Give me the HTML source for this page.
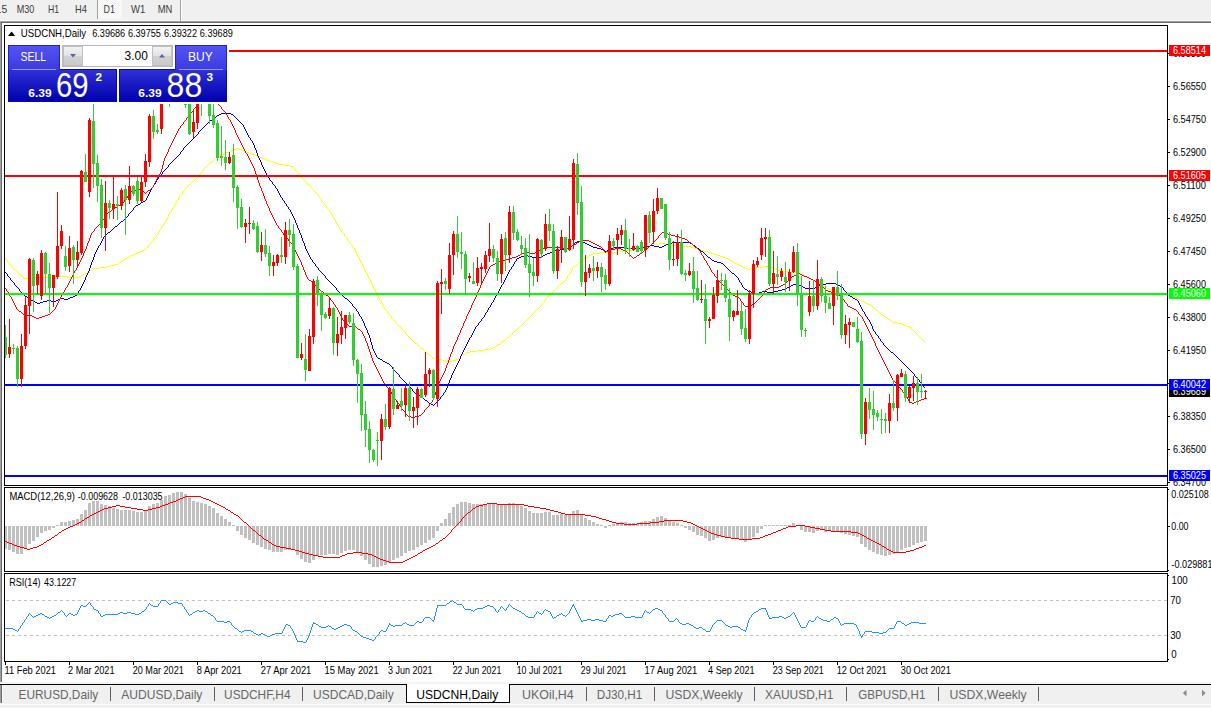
<!DOCTYPE html>
<html><head><meta charset="utf-8"><title>USDCNH,Daily</title>
<style>html,body{margin:0;padding:0;background:#fff;width:1211px;height:708px;overflow:hidden}svg text{white-space:pre}</style></head>
<body>
<svg width="1211" height="708" viewBox="0 0 1211 708" font-family='"Liberation Sans", sans-serif' style="display:block">
<defs>
<linearGradient id="gTab" x1="0" y1="0" x2="0" y2="1"><stop offset="0" stop-color="#5555f6"/><stop offset="1" stop-color="#3a3ae0"/></linearGradient>
<linearGradient id="gPan" x1="0" y1="0" x2="0" y2="1"><stop offset="0" stop-color="#3030d8"/><stop offset="1" stop-color="#0000ae"/></linearGradient>
<linearGradient id="gBtn" x1="0" y1="0" x2="0" y2="1"><stop offset="0" stop-color="#f4f4f4"/><stop offset="0.5" stop-color="#e2e2e2"/><stop offset="0.5" stop-color="#d2d2d2"/><stop offset="1" stop-color="#c8c8c8"/></linearGradient>
<pattern id="dots" width="2" height="2" patternUnits="userSpaceOnUse"><rect width="2" height="2" fill="#ffffff"/><rect width="1" height="1" fill="#f0f0f0"/><rect x="1" y="1" width="1" height="1" fill="#f0f0f0"/></pattern>
<clipPath id="cMain"><rect x="5" y="26" width="1162" height="459"/></clipPath>
<clipPath id="cMacd"><rect x="5" y="488" width="1162" height="83"/></clipPath>
<clipPath id="cRsi"><rect x="5" y="574" width="1162" height="87"/></clipPath>
</defs>
<rect x="0" y="0" width="1211" height="708" fill="#ffffff"/>
<rect x="0" y="0" width="1211" height="20" fill="#f0f0f0"/>
<rect x="0" y="20" width="1211" height="1" fill="#f8f8f8"/>
<rect x="0" y="21" width="1211" height="1" fill="#a0a0a0"/>
<rect x="0" y="22" width="1211" height="1" fill="#696969"/>
<rect x="98" y="0" width="24" height="19" fill="url(#dots)"/>
<rect x="97" y="0" width="1" height="19" fill="#a0a0a0"/>
<rect x="180" y="0" width="1" height="21" fill="#a0a0a0"/>
<rect x="181" y="0" width="1" height="21" fill="#ffffff"/>
<text x="-4.3" y="13" font-size="10.3" fill="#3c3c3c">15</text>
<text x="16.7" y="13" font-size="10.3" fill="#3c3c3c" textLength="17.6" lengthAdjust="spacingAndGlyphs">M30</text>
<text x="47.9" y="13" font-size="10.3" fill="#3c3c3c" textLength="11.1" lengthAdjust="spacingAndGlyphs">H1</text>
<text x="75" y="13" font-size="10.3" fill="#3c3c3c" textLength="11.9" lengthAdjust="spacingAndGlyphs">H4</text>
<text x="103.6" y="13" font-size="10.3" fill="#3c3c3c" textLength="11.4" lengthAdjust="spacingAndGlyphs">D1</text>
<text x="131" y="13" font-size="10.3" fill="#3c3c3c" textLength="14.3" lengthAdjust="spacingAndGlyphs">W1</text>
<text x="157.7" y="13" font-size="10.3" fill="#3c3c3c" textLength="14.6" lengthAdjust="spacingAndGlyphs">MN</text>
<rect x="0" y="22" width="1" height="660" fill="#a0a0a0"/>
<rect x="1" y="22" width="1" height="660" fill="#696969"/>
<g shape-rendering="crispEdges">
<rect x="4" y="25" width="1164" height="1" fill="#000"/>
<rect x="4" y="25" width="1" height="637" fill="#000"/>
<rect x="1167" y="25" width="1" height="637" fill="#000"/>
<rect x="4" y="485" width="1164" height="1" fill="#000"/>
<rect x="4" y="486" width="1164" height="1" fill="#ffffff"/>
<rect x="4" y="487" width="1164" height="1" fill="#000"/>
<rect x="4" y="571" width="1164" height="1" fill="#000"/>
<rect x="4" y="572" width="1164" height="1" fill="#ffffff"/>
<rect x="4" y="573" width="1164" height="1" fill="#000"/>
<rect x="4" y="661" width="1164" height="1" fill="#000"/>
</g>
<g clip-path="url(#cMain)" shape-rendering="crispEdges">
<path d="M5 258h1v1h-1zM6 259h1v1h-1zM7 260h1v2h-1zM8 262h1v1h-1zM9 263h1v1h-1zM10 264h1v1h-1zM11 265h1v1h-1zM12 266h1v2h-1zM13 268h1v1h-1zM14 269h1v1h-1zM15 270h1v1h-1zM16 271h1v1h-1zM17 272h1v1h-1zM18 273h1v1h-1zM19 274h1v1h-1zM20 274h1v1h-1zM21 275h1v1h-1zM22 276h1v1h-1zM23 277h1v1h-1zM24 278h1v1h-1zM25 278h1v1h-1zM26 278h1v1h-1zM27 278h1v1h-1zM28 278h1v1h-1zM29 278h1v1h-1zM30 278h1v1h-1zM31 278h1v1h-1zM32 278h1v1h-1zM33 277h1v1h-1zM34 277h1v1h-1zM35 277h1v1h-1zM36 277h1v1h-1zM37 277h1v1h-1zM38 277h1v1h-1zM39 277h1v1h-1zM40 277h1v1h-1zM41 277h1v1h-1zM42 277h1v1h-1zM43 277h1v1h-1zM44 277h1v1h-1zM45 277h1v1h-1zM46 277h1v1h-1zM47 277h1v1h-1zM48 277h1v1h-1zM49 276h1v1h-1zM50 276h1v1h-1zM51 276h1v1h-1zM52 276h1v1h-1zM53 276h1v1h-1zM54 276h1v1h-1zM55 276h1v1h-1zM56 276h1v1h-1zM57 276h1v1h-1zM58 276h1v1h-1zM59 276h1v1h-1zM60 276h1v1h-1zM61 276h1v1h-1zM62 276h1v1h-1zM63 276h1v1h-1zM64 276h1v1h-1zM65 276h1v1h-1zM66 276h1v1h-1zM67 277h1v1h-1zM68 277h1v1h-1zM69 277h1v1h-1zM70 277h1v1h-1zM71 277h1v1h-1zM72 277h1v1h-1zM73 277h1v1h-1zM74 277h1v1h-1zM75 277h1v1h-1zM76 277h1v1h-1zM77 277h1v1h-1zM78 277h1v1h-1zM79 276h1v1h-1zM80 276h1v1h-1zM81 275h1v1h-1zM82 275h1v1h-1zM83 274h1v1h-1zM84 274h1v1h-1zM85 273h1v1h-1zM86 273h1v1h-1zM87 272h1v1h-1zM88 271h1v1h-1zM89 270h1v1h-1zM90 270h1v1h-1zM91 269h1v1h-1zM92 268h1v1h-1zM93 268h1v1h-1zM94 268h1v1h-1zM95 268h1v1h-1zM96 268h1v1h-1zM97 268h1v1h-1zM98 268h1v1h-1zM99 267h1v1h-1zM100 267h1v1h-1zM101 267h1v1h-1zM102 267h1v1h-1zM103 267h1v1h-1zM104 267h1v1h-1zM105 267h1v1h-1zM106 267h1v1h-1zM107 266h1v1h-1zM108 266h1v1h-1zM109 266h1v1h-1zM110 266h1v1h-1zM111 265h1v1h-1zM112 265h1v1h-1zM113 265h1v1h-1zM114 265h1v1h-1zM115 264h1v1h-1zM116 264h1v1h-1zM117 264h1v1h-1zM118 263h1v1h-1zM119 262h1v1h-1zM120 262h1v1h-1zM121 261h1v1h-1zM122 260h1v1h-1zM123 259h1v1h-1zM124 259h1v1h-1zM125 258h1v1h-1zM126 258h1v1h-1zM127 257h1v1h-1zM128 257h1v1h-1zM129 256h1v1h-1zM130 256h1v1h-1zM131 255h1v1h-1zM132 255h1v1h-1zM133 254h1v1h-1zM134 254h1v1h-1zM135 253h1v1h-1zM136 253h1v1h-1zM137 253h1v1h-1zM138 252h1v1h-1zM139 252h1v1h-1zM140 251h1v1h-1zM141 251h1v1h-1zM142 250h1v1h-1zM143 250h1v1h-1zM144 249h1v1h-1zM145 249h1v1h-1zM146 248h1v1h-1zM147 247h1v1h-1zM148 245h1v2h-1zM149 244h1v1h-1zM150 243h1v1h-1zM151 242h1v1h-1zM152 241h1v1h-1zM153 239h1v2h-1zM154 238h1v1h-1zM155 237h1v1h-1zM156 235h1v2h-1zM157 234h1v1h-1zM158 232h1v2h-1zM159 230h1v2h-1zM160 229h1v1h-1zM161 227h1v2h-1zM162 226h1v1h-1zM163 224h1v2h-1zM164 222h1v2h-1zM165 221h1v1h-1zM166 219h1v2h-1zM167 217h1v2h-1zM168 215h1v2h-1zM169 213h1v2h-1zM170 212h1v1h-1zM171 210h1v2h-1zM172 208h1v2h-1zM173 207h1v1h-1zM174 205h1v2h-1zM175 203h1v2h-1zM176 201h1v2h-1zM177 200h1v1h-1zM178 198h1v2h-1zM179 196h1v2h-1zM180 195h1v1h-1zM181 194h1v1h-1zM182 192h1v2h-1zM183 191h1v1h-1zM184 190h1v1h-1zM185 188h1v2h-1zM186 187h1v1h-1zM187 186h1v1h-1zM188 185h1v1h-1zM189 184h1v1h-1zM190 183h1v1h-1zM191 182h1v1h-1zM192 181h1v1h-1zM193 181h1v1h-1zM194 180h1v1h-1zM195 179h1v1h-1zM196 178h1v1h-1zM197 177h1v1h-1zM198 176h1v1h-1zM199 174h1v2h-1zM200 173h1v1h-1zM201 172h1v1h-1zM202 171h1v1h-1zM203 169h1v2h-1zM204 168h1v1h-1zM205 167h1v1h-1zM206 166h1v1h-1zM207 165h1v1h-1zM208 164h1v1h-1zM209 163h1v1h-1zM210 162h1v1h-1zM211 162h1v1h-1zM212 161h1v1h-1zM213 160h1v1h-1zM214 159h1v1h-1zM215 158h1v1h-1zM216 157h1v1h-1zM217 157h1v1h-1zM218 156h1v1h-1zM219 156h1v1h-1zM220 155h1v1h-1zM221 155h1v1h-1zM222 154h1v1h-1zM223 154h1v1h-1zM224 153h1v1h-1zM225 153h1v1h-1zM226 152h1v1h-1zM227 152h1v1h-1zM228 152h1v1h-1zM229 151h1v1h-1zM230 151h1v1h-1zM231 150h1v1h-1zM232 150h1v1h-1zM233 150h1v1h-1zM234 149h1v1h-1zM235 149h1v1h-1zM236 148h1v1h-1zM237 148h1v1h-1zM238 148h1v1h-1zM239 149h1v1h-1zM240 149h1v1h-1zM241 149h1v1h-1zM242 150h1v1h-1zM243 150h1v1h-1zM244 151h1v1h-1zM245 151h1v1h-1zM246 151h1v1h-1zM247 152h1v1h-1zM248 152h1v1h-1zM249 152h1v1h-1zM250 153h1v1h-1zM251 153h1v1h-1zM252 154h1v1h-1zM253 154h1v1h-1zM254 154h1v1h-1zM255 155h1v1h-1zM256 155h1v1h-1zM257 156h1v1h-1zM258 156h1v1h-1zM259 156h1v1h-1zM260 157h1v1h-1zM261 157h1v1h-1zM262 158h1v1h-1zM263 158h1v1h-1zM264 158h1v1h-1zM265 159h1v1h-1zM266 159h1v1h-1zM267 160h1v1h-1zM268 160h1v1h-1zM269 160h1v1h-1zM270 161h1v1h-1zM271 161h1v1h-1zM272 161h1v1h-1zM273 162h1v1h-1zM274 162h1v1h-1zM275 163h1v1h-1zM276 163h1v1h-1zM277 163h1v1h-1zM278 163h1v1h-1zM279 164h1v1h-1zM280 164h1v1h-1zM281 164h1v1h-1zM282 164h1v1h-1zM283 164h1v1h-1zM284 165h1v1h-1zM285 165h1v1h-1zM286 165h1v1h-1zM287 165h1v1h-1zM288 165h1v1h-1zM289 165h1v1h-1zM290 166h1v1h-1zM291 166h1v1h-1zM292 166h1v1h-1zM293 167h1v1h-1zM294 168h1v1h-1zM295 169h1v2h-1zM296 171h1v1h-1zM297 172h1v1h-1zM298 173h1v1h-1zM299 174h1v1h-1zM300 175h1v2h-1zM301 177h1v1h-1zM302 178h1v1h-1zM303 179h1v1h-1zM304 180h1v1h-1zM305 181h1v1h-1zM306 182h1v1h-1zM307 183h1v1h-1zM308 184h1v1h-1zM309 185h1v1h-1zM310 186h1v2h-1zM311 188h1v1h-1zM312 189h1v1h-1zM313 190h1v1h-1zM314 191h1v1h-1zM315 192h1v1h-1zM316 193h1v1h-1zM317 194h1v1h-1zM318 195h1v2h-1zM319 197h1v1h-1zM320 198h1v1h-1zM321 199h1v2h-1zM322 201h1v1h-1zM323 202h1v1h-1zM324 203h1v2h-1zM325 205h1v1h-1zM326 206h1v2h-1zM327 208h1v1h-1zM328 209h1v1h-1zM329 210h1v2h-1zM330 212h1v1h-1zM331 213h1v2h-1zM332 215h1v2h-1zM333 217h1v1h-1zM334 218h1v2h-1zM335 220h1v2h-1zM336 222h1v2h-1zM337 224h1v1h-1zM338 225h1v2h-1zM339 227h1v2h-1zM340 229h1v1h-1zM341 230h1v2h-1zM342 232h1v1h-1zM343 233h1v1h-1zM344 234h1v2h-1zM345 236h1v1h-1zM346 237h1v1h-1zM347 238h1v2h-1zM348 240h1v1h-1zM349 241h1v2h-1zM350 243h1v1h-1zM351 244h1v1h-1zM352 245h1v2h-1zM353 247h1v1h-1zM354 248h1v2h-1zM355 250h1v2h-1zM356 252h1v2h-1zM357 254h1v2h-1zM358 256h1v2h-1zM359 258h1v2h-1zM360 260h1v2h-1zM361 262h1v2h-1zM362 264h1v2h-1zM363 266h1v2h-1zM364 268h1v2h-1zM365 270h1v2h-1zM366 272h1v2h-1zM367 274h1v2h-1zM368 276h1v2h-1zM369 278h1v2h-1zM370 280h1v2h-1zM371 282h1v2h-1zM372 284h1v2h-1zM373 286h1v2h-1zM374 288h1v2h-1zM375 290h1v2h-1zM376 292h1v2h-1zM377 294h1v2h-1zM378 296h1v2h-1zM379 298h1v2h-1zM380 300h1v1h-1zM381 301h1v2h-1zM382 303h1v2h-1zM383 305h1v2h-1zM384 307h1v2h-1zM385 309h1v1h-1zM386 310h1v1h-1zM387 311h1v2h-1zM388 313h1v1h-1zM389 314h1v1h-1zM390 315h1v1h-1zM391 316h1v2h-1zM392 318h1v1h-1zM393 319h1v1h-1zM394 320h1v1h-1zM395 321h1v2h-1zM396 323h1v1h-1zM397 324h1v1h-1zM398 325h1v1h-1zM399 326h1v1h-1zM400 327h1v1h-1zM401 328h1v1h-1zM402 329h1v1h-1zM403 330h1v1h-1zM404 331h1v1h-1zM405 332h1v2h-1zM406 334h1v1h-1zM407 335h1v1h-1zM408 336h1v1h-1zM409 337h1v1h-1zM410 338h1v1h-1zM411 339h1v1h-1zM412 340h1v1h-1zM413 341h1v1h-1zM414 342h1v1h-1zM415 343h1v1h-1zM416 343h1v1h-1zM417 344h1v1h-1zM418 345h1v1h-1zM419 346h1v1h-1zM420 347h1v1h-1zM421 348h1v1h-1zM422 348h1v1h-1zM423 349h1v1h-1zM424 350h1v1h-1zM425 351h1v1h-1zM426 352h1v1h-1zM427 353h1v1h-1zM428 354h1v1h-1zM429 355h1v1h-1zM430 355h1v1h-1zM431 356h1v1h-1zM432 357h1v1h-1zM433 358h1v1h-1zM434 358h1v1h-1zM435 358h1v1h-1zM436 358h1v1h-1zM437 359h1v1h-1zM438 359h1v1h-1zM439 359h1v1h-1zM440 359h1v1h-1zM441 359h1v1h-1zM442 360h1v1h-1zM443 360h1v1h-1zM444 360h1v1h-1zM445 360h1v1h-1zM446 361h1v1h-1zM447 361h1v1h-1zM448 361h1v1h-1zM449 361h1v1h-1zM450 361h1v1h-1zM451 361h1v1h-1zM452 360h1v1h-1zM453 360h1v1h-1zM454 360h1v1h-1zM455 360h1v1h-1zM456 359h1v1h-1zM457 359h1v1h-1zM458 358h1v1h-1zM459 358h1v1h-1zM460 357h1v1h-1zM461 356h1v1h-1zM462 355h1v1h-1zM463 354h1v1h-1zM464 354h1v1h-1zM465 353h1v1h-1zM466 352h1v1h-1zM467 352h1v1h-1zM468 352h1v1h-1zM469 352h1v1h-1zM470 351h1v1h-1zM471 351h1v1h-1zM472 351h1v1h-1zM473 351h1v1h-1zM474 351h1v1h-1zM475 351h1v1h-1zM476 351h1v1h-1zM477 350h1v1h-1zM478 350h1v1h-1zM479 350h1v1h-1zM480 350h1v1h-1zM481 350h1v1h-1zM482 350h1v1h-1zM483 350h1v1h-1zM484 350h1v1h-1zM485 349h1v1h-1zM486 349h1v1h-1zM487 349h1v1h-1zM488 349h1v1h-1zM489 349h1v1h-1zM490 349h1v1h-1zM491 348h1v1h-1zM492 348h1v1h-1zM493 347h1v1h-1zM494 347h1v1h-1zM495 346h1v1h-1zM496 345h1v1h-1zM497 345h1v1h-1zM498 344h1v1h-1zM499 344h1v1h-1zM500 343h1v1h-1zM501 342h1v1h-1zM502 341h1v1h-1zM503 341h1v1h-1zM504 340h1v1h-1zM505 339h1v1h-1zM506 338h1v1h-1zM507 337h1v1h-1zM508 337h1v1h-1zM509 336h1v1h-1zM510 335h1v1h-1zM511 334h1v1h-1zM512 333h1v1h-1zM513 332h1v1h-1zM514 331h1v1h-1zM515 330h1v1h-1zM516 330h1v1h-1zM517 329h1v1h-1zM518 328h1v1h-1zM519 327h1v1h-1zM520 326h1v1h-1zM521 325h1v1h-1zM522 324h1v1h-1zM523 323h1v1h-1zM524 322h1v1h-1zM525 321h1v1h-1zM526 320h1v1h-1zM527 319h1v1h-1zM528 318h1v1h-1zM529 317h1v1h-1zM530 316h1v1h-1zM531 315h1v1h-1zM532 314h1v1h-1zM533 313h1v1h-1zM534 312h1v1h-1zM535 311h1v1h-1zM536 310h1v1h-1zM537 309h1v1h-1zM538 308h1v1h-1zM539 307h1v1h-1zM540 306h1v1h-1zM541 304h1v2h-1zM542 303h1v1h-1zM543 302h1v1h-1zM544 301h1v1h-1zM545 299h1v2h-1zM546 298h1v1h-1zM547 297h1v1h-1zM548 296h1v1h-1zM549 295h1v1h-1zM550 294h1v1h-1zM551 293h1v1h-1zM552 292h1v1h-1zM553 291h1v1h-1zM554 290h1v1h-1zM555 289h1v1h-1zM556 288h1v1h-1zM557 287h1v1h-1zM558 286h1v1h-1zM559 285h1v1h-1zM560 284h1v1h-1zM561 283h1v1h-1zM562 283h1v1h-1zM563 282h1v1h-1zM564 281h1v1h-1zM565 280h1v1h-1zM566 278h1v2h-1zM567 276h1v2h-1zM568 275h1v1h-1zM569 273h1v2h-1zM570 272h1v1h-1zM571 270h1v2h-1zM572 268h1v2h-1zM573 267h1v1h-1zM574 266h1v1h-1zM575 265h1v1h-1zM576 265h1v1h-1zM577 264h1v1h-1zM578 263h1v1h-1zM579 262h1v1h-1zM580 261h1v1h-1zM581 261h1v1h-1zM582 260h1v1h-1zM583 259h1v1h-1zM584 258h1v1h-1zM585 258h1v1h-1zM586 257h1v1h-1zM587 257h1v1h-1zM588 256h1v1h-1zM589 255h1v1h-1zM590 255h1v1h-1zM591 254h1v1h-1zM592 254h1v1h-1zM593 253h1v1h-1zM594 253h1v1h-1zM595 253h1v1h-1zM596 253h1v1h-1zM597 253h1v1h-1zM598 253h1v1h-1zM599 253h1v1h-1zM600 252h1v1h-1zM601 252h1v1h-1zM602 252h1v1h-1zM603 252h1v1h-1zM604 252h1v1h-1zM605 252h1v1h-1zM606 252h1v1h-1zM607 252h1v1h-1zM608 252h1v1h-1zM609 252h1v1h-1zM610 252h1v1h-1zM611 252h1v1h-1zM612 252h1v1h-1zM613 252h1v1h-1zM614 252h1v1h-1zM615 252h1v1h-1zM616 252h1v1h-1zM617 251h1v1h-1zM618 251h1v1h-1zM619 251h1v1h-1zM620 251h1v1h-1zM621 251h1v1h-1zM622 251h1v1h-1zM623 250h1v1h-1zM624 250h1v1h-1zM625 250h1v1h-1zM626 250h1v1h-1zM627 250h1v1h-1zM628 250h1v1h-1zM629 250h1v1h-1zM630 250h1v1h-1zM631 250h1v1h-1zM632 250h1v1h-1zM633 249h1v1h-1zM634 249h1v1h-1zM635 249h1v1h-1zM636 249h1v1h-1zM637 249h1v1h-1zM638 249h1v1h-1zM639 249h1v1h-1zM640 249h1v1h-1zM641 248h1v1h-1zM642 248h1v1h-1zM643 248h1v1h-1zM644 247h1v1h-1zM645 247h1v1h-1zM646 247h1v1h-1zM647 246h1v1h-1zM648 246h1v1h-1zM649 246h1v1h-1zM650 245h1v1h-1zM651 245h1v1h-1zM652 245h1v1h-1zM653 245h1v1h-1zM654 244h1v1h-1zM655 244h1v1h-1zM656 244h1v1h-1zM657 244h1v1h-1zM658 244h1v1h-1zM659 243h1v1h-1zM660 243h1v1h-1zM661 243h1v1h-1zM662 243h1v1h-1zM663 243h1v1h-1zM664 243h1v1h-1zM665 244h1v1h-1zM666 244h1v1h-1zM667 244h1v1h-1zM668 244h1v1h-1zM669 244h1v1h-1zM670 244h1v1h-1zM671 245h1v1h-1zM672 245h1v1h-1zM673 245h1v1h-1zM674 245h1v1h-1zM675 245h1v1h-1zM676 245h1v1h-1zM677 245h1v1h-1zM678 245h1v1h-1zM679 245h1v1h-1zM680 245h1v1h-1zM681 245h1v1h-1zM682 246h1v1h-1zM683 246h1v1h-1zM684 246h1v1h-1zM685 246h1v1h-1zM686 246h1v1h-1zM687 246h1v1h-1zM688 246h1v1h-1zM689 246h1v1h-1zM690 246h1v1h-1zM691 247h1v1h-1zM692 247h1v1h-1zM693 247h1v1h-1zM694 248h1v1h-1zM695 248h1v1h-1zM696 248h1v1h-1zM697 248h1v1h-1zM698 249h1v1h-1zM699 249h1v1h-1zM700 249h1v1h-1zM701 250h1v1h-1zM702 250h1v1h-1zM703 250h1v1h-1zM704 251h1v1h-1zM705 251h1v1h-1zM706 251h1v1h-1zM707 251h1v1h-1zM708 252h1v1h-1zM709 252h1v1h-1zM710 252h1v1h-1zM711 253h1v1h-1zM712 253h1v1h-1zM713 253h1v1h-1zM714 254h1v1h-1zM715 254h1v1h-1zM716 254h1v1h-1zM717 255h1v1h-1zM718 255h1v1h-1zM719 255h1v1h-1zM720 256h1v1h-1zM721 256h1v1h-1zM722 256h1v1h-1zM723 257h1v1h-1zM724 257h1v1h-1zM725 257h1v1h-1zM726 258h1v1h-1zM727 258h1v1h-1zM728 259h1v1h-1zM729 259h1v1h-1zM730 260h1v1h-1zM731 260h1v1h-1zM732 261h1v1h-1zM733 262h1v1h-1zM734 262h1v1h-1zM735 263h1v1h-1zM736 263h1v1h-1zM737 264h1v1h-1zM738 264h1v1h-1zM739 265h1v1h-1zM740 265h1v1h-1zM741 266h1v1h-1zM742 266h1v1h-1zM743 267h1v1h-1zM744 267h1v1h-1zM745 268h1v1h-1zM746 268h1v1h-1zM747 269h1v1h-1zM748 269h1v1h-1zM749 269h1v1h-1zM750 269h1v1h-1zM751 268h1v1h-1zM752 268h1v1h-1zM753 268h1v1h-1zM754 268h1v1h-1zM755 268h1v1h-1zM756 267h1v1h-1zM757 267h1v1h-1zM758 267h1v1h-1zM759 267h1v1h-1zM760 267h1v1h-1zM761 267h1v1h-1zM762 266h1v1h-1zM763 266h1v1h-1zM764 266h1v1h-1zM765 266h1v1h-1zM766 266h1v1h-1zM767 266h1v1h-1zM768 266h1v1h-1zM769 266h1v1h-1zM770 266h1v1h-1zM771 267h1v1h-1zM772 267h1v1h-1zM773 268h1v1h-1zM774 268h1v1h-1zM775 269h1v1h-1zM776 269h1v1h-1zM777 269h1v1h-1zM778 270h1v1h-1zM779 270h1v1h-1zM780 270h1v1h-1zM781 270h1v1h-1zM782 270h1v1h-1zM783 271h1v1h-1zM784 271h1v1h-1zM785 271h1v1h-1zM786 271h1v1h-1zM787 271h1v1h-1zM788 271h1v1h-1zM789 272h1v1h-1zM790 272h1v1h-1zM791 272h1v1h-1zM792 272h1v1h-1zM793 272h1v1h-1zM794 272h1v1h-1zM795 272h1v1h-1zM796 273h1v1h-1zM797 273h1v1h-1zM798 273h1v1h-1zM799 273h1v1h-1zM800 273h1v1h-1zM801 274h1v1h-1zM802 274h1v1h-1zM803 275h1v1h-1zM804 275h1v1h-1zM805 276h1v1h-1zM806 276h1v1h-1zM807 277h1v1h-1zM808 277h1v1h-1zM809 278h1v1h-1zM810 278h1v1h-1zM811 279h1v1h-1zM812 279h1v1h-1zM813 280h1v1h-1zM814 280h1v1h-1zM815 281h1v1h-1zM816 281h1v1h-1zM817 282h1v1h-1zM818 283h1v1h-1zM819 283h1v1h-1zM820 284h1v1h-1zM821 285h1v1h-1zM822 285h1v1h-1zM823 286h1v1h-1zM824 286h1v1h-1zM825 287h1v1h-1zM826 287h1v1h-1zM827 288h1v1h-1zM828 288h1v1h-1zM829 289h1v1h-1zM830 289h1v1h-1zM831 289h1v1h-1zM832 290h1v1h-1zM833 290h1v1h-1zM834 291h1v1h-1zM835 291h1v1h-1zM836 291h1v1h-1zM837 292h1v1h-1zM838 292h1v1h-1zM839 293h1v1h-1zM840 293h1v1h-1zM841 293h1v1h-1zM842 294h1v1h-1zM843 294h1v1h-1zM844 294h1v1h-1zM845 294h1v1h-1zM846 295h1v1h-1zM847 295h1v1h-1zM848 295h1v1h-1zM849 295h1v1h-1zM850 296h1v1h-1zM851 296h1v1h-1zM852 296h1v1h-1zM853 296h1v1h-1zM854 297h1v1h-1zM855 297h1v1h-1zM856 298h1v1h-1zM857 298h1v1h-1zM858 299h1v1h-1zM859 299h1v1h-1zM860 300h1v1h-1zM861 300h1v1h-1zM862 301h1v1h-1zM863 301h1v1h-1zM864 302h1v1h-1zM865 302h1v1h-1zM866 303h1v1h-1zM867 303h1v1h-1zM868 304h1v1h-1zM869 304h1v1h-1zM870 305h1v1h-1zM871 305h1v1h-1zM872 306h1v1h-1zM873 307h1v1h-1zM874 308h1v1h-1zM875 309h1v1h-1zM876 310h1v1h-1zM877 310h1v1h-1zM878 311h1v1h-1zM879 312h1v1h-1zM880 313h1v1h-1zM881 314h1v1h-1zM882 315h1v1h-1zM883 315h1v1h-1zM884 316h1v1h-1zM885 317h1v1h-1zM886 317h1v1h-1zM887 318h1v1h-1zM888 319h1v1h-1zM889 319h1v1h-1zM890 320h1v1h-1zM891 321h1v1h-1zM892 321h1v1h-1zM893 322h1v1h-1zM894 322h1v1h-1zM895 322h1v1h-1zM896 322h1v1h-1zM897 323h1v1h-1zM898 323h1v1h-1zM899 323h1v1h-1zM900 323h1v1h-1zM901 323h1v1h-1zM902 324h1v1h-1zM903 324h1v1h-1zM904 325h1v1h-1zM905 325h1v1h-1zM906 325h1v1h-1zM907 326h1v1h-1zM908 326h1v1h-1zM909 327h1v1h-1zM910 327h1v1h-1zM911 328h1v1h-1zM912 329h1v1h-1zM913 330h1v1h-1zM914 331h1v1h-1zM915 332h1v1h-1zM916 333h1v1h-1zM917 334h1v1h-1zM918 335h1v1h-1zM919 336h1v1h-1zM920 337h1v1h-1zM921 338h1v1h-1zM922 339h1v1h-1zM923 340h1v1h-1zM924 341h1v1h-1z" fill="#ffff00" shape-rendering="crispEdges" clip-path="url(#cMain)"/>
<path d="M5 272h1v1h-1zM6 273h1v1h-1zM7 274h1v2h-1zM8 276h1v1h-1zM9 277h1v1h-1zM10 278h1v2h-1zM11 280h1v1h-1zM12 281h1v1h-1zM13 282h1v1h-1zM14 283h1v2h-1zM15 285h1v1h-1zM16 286h1v1h-1zM17 287h1v1h-1zM18 288h1v1h-1zM19 289h1v2h-1zM20 291h1v1h-1zM21 292h1v1h-1zM22 293h1v1h-1zM23 294h1v1h-1zM24 295h1v1h-1zM25 296h1v1h-1zM26 296h1v1h-1zM27 297h1v1h-1zM28 298h1v1h-1zM29 299h1v1h-1zM30 299h1v1h-1zM31 300h1v1h-1zM32 300h1v1h-1zM33 301h1v1h-1zM34 301h1v1h-1zM35 302h1v1h-1zM36 302h1v1h-1zM37 303h1v1h-1zM38 303h1v1h-1zM39 303h1v1h-1zM40 302h1v1h-1zM41 302h1v1h-1zM42 302h1v1h-1zM43 301h1v1h-1zM44 301h1v1h-1zM45 301h1v1h-1zM46 301h1v1h-1zM47 300h1v1h-1zM48 300h1v1h-1zM49 300h1v1h-1zM50 300h1v1h-1zM51 301h1v1h-1zM52 301h1v1h-1zM53 301h1v1h-1zM54 301h1v1h-1zM55 301h1v1h-1zM56 300h1v1h-1zM57 300h1v1h-1zM58 299h1v1h-1zM59 299h1v1h-1zM60 298h1v1h-1zM61 298h1v1h-1zM62 298h1v1h-1zM63 298h1v1h-1zM64 299h1v1h-1zM65 299h1v1h-1zM66 299h1v1h-1zM67 299h1v1h-1zM68 298h1v1h-1zM69 298h1v1h-1zM70 297h1v1h-1zM71 297h1v1h-1zM72 297h1v1h-1zM73 296h1v1h-1zM74 296h1v1h-1zM75 295h1v1h-1zM76 295h1v1h-1zM77 293h1v2h-1zM78 291h1v2h-1zM79 290h1v1h-1zM80 288h1v2h-1zM81 286h1v2h-1zM82 284h1v2h-1zM83 282h1v2h-1zM84 280h1v2h-1zM85 277h1v3h-1zM86 275h1v2h-1zM87 273h1v2h-1zM88 271h1v2h-1zM89 268h1v3h-1zM90 265h1v3h-1zM91 262h1v3h-1zM92 260h1v2h-1zM93 257h1v3h-1zM94 254h1v3h-1zM95 252h1v2h-1zM96 250h1v2h-1zM97 248h1v2h-1zM98 246h1v2h-1zM99 245h1v1h-1zM100 243h1v2h-1zM101 241h1v2h-1zM102 239h1v2h-1zM103 237h1v2h-1zM104 236h1v1h-1zM105 235h1v1h-1zM106 234h1v1h-1zM107 233h1v1h-1zM108 232h1v1h-1zM109 232h1v1h-1zM110 231h1v1h-1zM111 230h1v1h-1zM112 229h1v1h-1zM113 228h1v1h-1zM114 227h1v1h-1zM115 226h1v1h-1zM116 226h1v1h-1zM117 225h1v1h-1zM118 224h1v1h-1zM119 223h1v1h-1zM120 222h1v1h-1zM121 221h1v1h-1zM122 221h1v1h-1zM123 220h1v1h-1zM124 219h1v1h-1zM125 218h1v1h-1zM126 217h1v1h-1zM127 216h1v1h-1zM128 214h1v2h-1zM129 213h1v1h-1zM130 212h1v1h-1zM131 211h1v1h-1zM132 210h1v1h-1zM133 208h1v2h-1zM134 207h1v1h-1zM135 206h1v1h-1zM136 205h1v1h-1zM137 205h1v1h-1zM138 204h1v1h-1zM139 204h1v1h-1zM140 203h1v1h-1zM141 202h1v1h-1zM142 202h1v1h-1zM143 201h1v1h-1zM144 201h1v1h-1zM145 200h1v1h-1zM146 198h1v2h-1zM147 196h1v2h-1zM148 194h1v2h-1zM149 192h1v2h-1zM150 190h1v2h-1zM151 188h1v2h-1zM152 187h1v1h-1zM153 185h1v2h-1zM154 184h1v1h-1zM155 182h1v2h-1zM156 180h1v2h-1zM157 179h1v1h-1zM158 177h1v2h-1zM159 176h1v1h-1zM160 175h1v1h-1zM161 174h1v1h-1zM162 172h1v2h-1zM163 171h1v1h-1zM164 170h1v1h-1zM165 169h1v1h-1zM166 168h1v1h-1zM167 167h1v1h-1zM168 165h1v2h-1zM169 164h1v1h-1zM170 163h1v1h-1zM171 162h1v1h-1zM172 161h1v1h-1zM173 160h1v1h-1zM174 159h1v1h-1zM175 158h1v1h-1zM176 157h1v1h-1zM177 156h1v1h-1zM178 155h1v1h-1zM179 154h1v1h-1zM180 152h1v2h-1zM181 151h1v1h-1zM182 150h1v1h-1zM183 148h1v2h-1zM184 147h1v1h-1zM185 146h1v1h-1zM186 145h1v1h-1zM187 144h1v1h-1zM188 143h1v1h-1zM189 142h1v1h-1zM190 141h1v1h-1zM191 140h1v1h-1zM192 139h1v1h-1zM193 138h1v1h-1zM194 137h1v1h-1zM195 136h1v1h-1zM196 135h1v1h-1zM197 134h1v1h-1zM198 132h1v2h-1zM199 131h1v1h-1zM200 130h1v1h-1zM201 129h1v1h-1zM202 128h1v1h-1zM203 127h1v1h-1zM204 126h1v1h-1zM205 125h1v1h-1zM206 124h1v1h-1zM207 123h1v1h-1zM208 122h1v1h-1zM209 121h1v1h-1zM210 120h1v1h-1zM211 120h1v1h-1zM212 119h1v1h-1zM213 118h1v1h-1zM214 117h1v1h-1zM215 117h1v1h-1zM216 116h1v1h-1zM217 115h1v1h-1zM218 115h1v1h-1zM219 114h1v1h-1zM220 114h1v1h-1zM221 113h1v1h-1zM222 113h1v1h-1zM223 113h1v1h-1zM224 113h1v1h-1zM225 113h1v1h-1zM226 113h1v1h-1zM227 113h1v1h-1zM228 113h1v1h-1zM229 113h1v1h-1zM230 113h1v1h-1zM231 114h1v1h-1zM232 114h1v1h-1zM233 115h1v1h-1zM234 116h1v1h-1zM235 117h1v1h-1zM236 118h1v1h-1zM237 119h1v1h-1zM238 120h1v1h-1zM239 121h1v1h-1zM240 122h1v1h-1zM241 123h1v1h-1zM242 124h1v1h-1zM243 125h1v2h-1zM244 127h1v2h-1zM245 129h1v2h-1zM246 131h1v2h-1zM247 133h1v2h-1zM248 135h1v2h-1zM249 137h1v1h-1zM250 138h1v2h-1zM251 140h1v1h-1zM252 141h1v2h-1zM253 143h1v2h-1zM254 145h1v3h-1zM255 148h1v2h-1zM256 150h1v3h-1zM257 153h1v3h-1zM258 156h1v2h-1zM259 158h1v2h-1zM260 160h1v2h-1zM261 162h1v3h-1zM262 165h1v2h-1zM263 167h1v2h-1zM264 169h1v2h-1zM265 171h1v2h-1zM266 173h1v2h-1zM267 175h1v2h-1zM268 177h1v1h-1zM269 178h1v2h-1zM270 180h1v1h-1zM271 181h1v1h-1zM272 182h1v2h-1zM273 184h1v1h-1zM274 185h1v1h-1zM275 186h1v2h-1zM276 188h1v1h-1zM277 189h1v2h-1zM278 191h1v2h-1zM279 193h1v2h-1zM280 195h1v2h-1zM281 197h1v1h-1zM282 198h1v2h-1zM283 200h1v1h-1zM284 201h1v2h-1zM285 203h1v1h-1zM286 204h1v2h-1zM287 206h1v1h-1zM288 207h1v2h-1zM289 209h1v1h-1zM290 210h1v2h-1zM291 212h1v2h-1zM292 214h1v2h-1zM293 216h1v2h-1zM294 218h1v2h-1zM295 220h1v3h-1zM296 223h1v2h-1zM297 225h1v3h-1zM298 228h1v2h-1zM299 230h1v3h-1zM300 233h1v2h-1zM301 235h1v3h-1zM302 238h1v3h-1zM303 241h1v2h-1zM304 243h1v3h-1zM305 246h1v3h-1zM306 249h1v2h-1zM307 251h1v2h-1zM308 253h1v2h-1zM309 255h1v2h-1zM310 257h1v2h-1zM311 259h1v1h-1zM312 260h1v2h-1zM313 262h1v1h-1zM314 263h1v1h-1zM315 264h1v2h-1zM316 266h1v1h-1zM317 267h1v1h-1zM318 268h1v2h-1zM319 270h1v1h-1zM320 271h1v1h-1zM321 272h1v1h-1zM322 273h1v1h-1zM323 274h1v1h-1zM324 275h1v1h-1zM325 276h1v2h-1zM326 278h1v1h-1zM327 279h1v1h-1zM328 280h1v1h-1zM329 281h1v1h-1zM330 282h1v1h-1zM331 283h1v1h-1zM332 284h1v1h-1zM333 285h1v1h-1zM334 286h1v1h-1zM335 287h1v1h-1zM336 288h1v2h-1zM337 290h1v1h-1zM338 291h1v1h-1zM339 292h1v1h-1zM340 293h1v1h-1zM341 294h1v1h-1zM342 295h1v1h-1zM343 296h1v1h-1zM344 297h1v1h-1zM345 298h1v1h-1zM346 298h1v1h-1zM347 299h1v1h-1zM348 300h1v1h-1zM349 301h1v1h-1zM350 302h1v1h-1zM351 303h1v1h-1zM352 304h1v2h-1zM353 306h1v1h-1zM354 307h1v1h-1zM355 308h1v1h-1zM356 309h1v2h-1zM357 311h1v1h-1zM358 312h1v2h-1zM359 314h1v2h-1zM360 316h1v1h-1zM361 317h1v2h-1zM362 319h1v2h-1zM363 321h1v2h-1zM364 323h1v3h-1zM365 326h1v2h-1zM366 328h1v2h-1zM367 330h1v3h-1zM368 333h1v2h-1zM369 335h1v3h-1zM370 338h1v4h-1zM371 342h1v3h-1zM372 345h1v4h-1zM373 349h1v2h-1zM374 351h1v2h-1zM375 353h1v2h-1zM376 355h1v2h-1zM377 357h1v1h-1zM378 358h1v1h-1zM379 358h1v1h-1zM380 359h1v1h-1zM381 359h1v1h-1zM382 360h1v1h-1zM383 361h1v1h-1zM384 361h1v1h-1zM385 362h1v1h-1zM386 362h1v1h-1zM387 363h1v1h-1zM388 363h1v1h-1zM389 364h1v1h-1zM390 365h1v1h-1zM391 366h1v1h-1zM392 367h1v2h-1zM393 369h1v1h-1zM394 370h1v1h-1zM395 371h1v1h-1zM396 372h1v1h-1zM397 373h1v1h-1zM398 374h1v1h-1zM399 375h1v2h-1zM400 377h1v1h-1zM401 378h1v1h-1zM402 379h1v1h-1zM403 380h1v1h-1zM404 381h1v1h-1zM405 382h1v1h-1zM406 383h1v1h-1zM407 384h1v1h-1zM408 385h1v1h-1zM409 386h1v1h-1zM410 387h1v1h-1zM411 388h1v1h-1zM412 389h1v2h-1zM413 391h1v1h-1zM414 392h1v1h-1zM415 393h1v1h-1zM416 394h1v1h-1zM417 394h1v1h-1zM418 395h1v1h-1zM419 395h1v1h-1zM420 396h1v1h-1zM421 396h1v1h-1zM422 397h1v1h-1zM423 398h1v1h-1zM424 399h1v1h-1zM425 400h1v1h-1zM426 400h1v1h-1zM427 401h1v1h-1zM428 402h1v1h-1zM429 403h1v1h-1zM430 403h1v1h-1zM431 404h1v1h-1zM432 404h1v1h-1zM433 405h1v1h-1zM434 404h1v1h-1zM435 403h1v1h-1zM436 402h1v1h-1zM437 401h1v1h-1zM438 400h1v1h-1zM439 399h1v1h-1zM440 397h1v2h-1zM441 396h1v1h-1zM442 395h1v1h-1zM443 393h1v2h-1zM444 392h1v1h-1zM445 390h1v2h-1zM446 388h1v2h-1zM447 385h1v3h-1zM448 383h1v2h-1zM449 380h1v3h-1zM450 378h1v2h-1zM451 375h1v3h-1zM452 373h1v2h-1zM453 371h1v2h-1zM454 369h1v2h-1zM455 367h1v2h-1zM456 365h1v2h-1zM457 363h1v2h-1zM458 361h1v2h-1zM459 359h1v2h-1zM460 356h1v3h-1zM461 354h1v2h-1zM462 352h1v2h-1zM463 350h1v2h-1zM464 348h1v2h-1zM465 346h1v2h-1zM466 344h1v2h-1zM467 342h1v2h-1zM468 340h1v2h-1zM469 338h1v2h-1zM470 337h1v1h-1zM471 335h1v2h-1zM472 333h1v2h-1zM473 331h1v2h-1zM474 329h1v2h-1zM475 327h1v2h-1zM476 326h1v1h-1zM477 325h1v1h-1zM478 323h1v2h-1zM479 322h1v1h-1zM480 321h1v1h-1zM481 319h1v2h-1zM482 318h1v1h-1zM483 317h1v1h-1zM484 315h1v2h-1zM485 313h1v2h-1zM486 312h1v1h-1zM487 310h1v2h-1zM488 308h1v2h-1zM489 307h1v1h-1zM490 305h1v2h-1zM491 303h1v2h-1zM492 302h1v1h-1zM493 300h1v2h-1zM494 298h1v2h-1zM495 296h1v2h-1zM496 294h1v2h-1zM497 293h1v1h-1zM498 291h1v2h-1zM499 289h1v2h-1zM500 287h1v2h-1zM501 285h1v2h-1zM502 284h1v1h-1zM503 282h1v2h-1zM504 280h1v2h-1zM505 278h1v2h-1zM506 276h1v2h-1zM507 274h1v2h-1zM508 272h1v2h-1zM509 270h1v2h-1zM510 269h1v1h-1zM511 267h1v2h-1zM512 266h1v1h-1zM513 264h1v2h-1zM514 262h1v2h-1zM515 261h1v1h-1zM516 259h1v2h-1zM517 258h1v1h-1zM518 258h1v1h-1zM519 257h1v1h-1zM520 257h1v1h-1zM521 256h1v1h-1zM522 256h1v1h-1zM523 256h1v1h-1zM524 255h1v1h-1zM525 255h1v1h-1zM526 255h1v1h-1zM527 255h1v1h-1zM528 256h1v1h-1zM529 256h1v1h-1zM530 256h1v1h-1zM531 256h1v1h-1zM532 257h1v1h-1zM533 257h1v1h-1zM534 257h1v1h-1zM535 257h1v1h-1zM536 257h1v1h-1zM537 257h1v1h-1zM538 257h1v1h-1zM539 257h1v1h-1zM540 257h1v1h-1zM541 256h1v1h-1zM542 256h1v1h-1zM543 255h1v1h-1zM544 255h1v1h-1zM545 254h1v1h-1zM546 254h1v1h-1zM547 253h1v1h-1zM548 253h1v1h-1zM549 253h1v1h-1zM550 252h1v1h-1zM551 252h1v1h-1zM552 251h1v1h-1zM553 251h1v1h-1zM554 251h1v1h-1zM555 250h1v1h-1zM556 250h1v1h-1zM557 250h1v1h-1zM558 250h1v1h-1zM559 250h1v1h-1zM560 249h1v1h-1zM561 249h1v1h-1zM562 249h1v1h-1zM563 249h1v1h-1zM564 249h1v1h-1zM565 249h1v1h-1zM566 248h1v1h-1zM567 248h1v1h-1zM568 247h1v1h-1zM569 247h1v1h-1zM570 246h1v1h-1zM571 246h1v1h-1zM572 245h1v1h-1zM573 244h1v1h-1zM574 243h1v1h-1zM575 242h1v1h-1zM576 242h1v1h-1zM577 241h1v1h-1zM578 241h1v1h-1zM579 241h1v1h-1zM580 241h1v1h-1zM581 242h1v1h-1zM582 242h1v1h-1zM583 242h1v1h-1zM584 242h1v1h-1zM585 243h1v1h-1zM586 243h1v1h-1zM587 244h1v1h-1zM588 244h1v1h-1zM589 245h1v1h-1zM590 245h1v1h-1zM591 246h1v1h-1zM592 246h1v1h-1zM593 247h1v1h-1zM594 247h1v1h-1zM595 247h1v1h-1zM596 247h1v1h-1zM597 248h1v1h-1zM598 248h1v1h-1zM599 248h1v1h-1zM600 248h1v1h-1zM601 249h1v1h-1zM602 249h1v1h-1zM603 250h1v1h-1zM604 250h1v1h-1zM605 251h1v1h-1zM606 251h1v1h-1zM607 250h1v1h-1zM608 250h1v1h-1zM609 249h1v1h-1zM610 249h1v1h-1zM611 248h1v1h-1zM612 248h1v1h-1zM613 247h1v1h-1zM614 247h1v1h-1zM615 247h1v1h-1zM616 247h1v1h-1zM617 247h1v1h-1zM618 247h1v1h-1zM619 247h1v1h-1zM620 247h1v1h-1zM621 247h1v1h-1zM622 247h1v1h-1zM623 247h1v1h-1zM624 247h1v1h-1zM625 247h1v1h-1zM626 247h1v1h-1zM627 248h1v1h-1zM628 248h1v1h-1zM629 248h1v1h-1zM630 248h1v1h-1zM631 248h1v1h-1zM632 248h1v1h-1zM633 248h1v1h-1zM634 248h1v1h-1zM635 248h1v1h-1zM636 248h1v1h-1zM637 248h1v1h-1zM638 248h1v1h-1zM639 248h1v1h-1zM640 248h1v1h-1zM641 248h1v1h-1zM642 248h1v1h-1zM643 247h1v1h-1zM644 247h1v1h-1zM645 247h1v1h-1zM646 246h1v1h-1zM647 246h1v1h-1zM648 246h1v1h-1zM649 246h1v1h-1zM650 245h1v1h-1zM651 245h1v1h-1zM652 245h1v1h-1zM653 245h1v1h-1zM654 246h1v1h-1zM655 246h1v1h-1zM656 246h1v1h-1zM657 246h1v1h-1zM658 246h1v1h-1zM659 247h1v1h-1zM660 247h1v1h-1zM661 247h1v1h-1zM662 246h1v1h-1zM663 246h1v1h-1zM664 245h1v1h-1zM665 245h1v1h-1zM666 244h1v1h-1zM667 244h1v1h-1zM668 243h1v1h-1zM669 243h1v1h-1zM670 243h1v1h-1zM671 243h1v1h-1zM672 242h1v1h-1zM673 242h1v1h-1zM674 242h1v1h-1zM675 242h1v1h-1zM676 242h1v1h-1zM677 242h1v1h-1zM678 242h1v1h-1zM679 242h1v1h-1zM680 242h1v1h-1zM681 242h1v1h-1zM682 242h1v1h-1zM683 242h1v1h-1zM684 242h1v1h-1zM685 242h1v1h-1zM686 242h1v1h-1zM687 242h1v1h-1zM688 242h1v1h-1zM689 242h1v1h-1zM690 243h1v1h-1zM691 243h1v1h-1zM692 244h1v1h-1zM693 245h1v1h-1zM694 245h1v1h-1zM695 246h1v1h-1zM696 247h1v1h-1zM697 248h1v1h-1zM698 248h1v1h-1zM699 249h1v1h-1zM700 250h1v1h-1zM701 251h1v1h-1zM702 251h1v1h-1zM703 252h1v1h-1zM704 253h1v1h-1zM705 254h1v1h-1zM706 255h1v1h-1zM707 256h1v1h-1zM708 257h1v1h-1zM709 257h1v1h-1zM710 258h1v1h-1zM711 259h1v1h-1zM712 260h1v1h-1zM713 260h1v1h-1zM714 261h1v1h-1zM715 261h1v1h-1zM716 261h1v1h-1zM717 262h1v1h-1zM718 262h1v1h-1zM719 262h1v1h-1zM720 262h1v1h-1zM721 263h1v1h-1zM722 263h1v1h-1zM723 264h1v1h-1zM724 265h1v1h-1zM725 266h1v1h-1zM726 267h1v1h-1zM727 268h1v1h-1zM728 269h1v1h-1zM729 270h1v1h-1zM730 271h1v1h-1zM731 272h1v1h-1zM732 273h1v1h-1zM733 273h1v1h-1zM734 274h1v1h-1zM735 275h1v1h-1zM736 276h1v1h-1zM737 277h1v1h-1zM738 278h1v2h-1zM739 280h1v2h-1zM740 282h1v1h-1zM741 283h1v2h-1zM742 285h1v2h-1zM743 287h1v1h-1zM744 288h1v1h-1zM745 289h1v1h-1zM746 289h1v1h-1zM747 290h1v1h-1zM748 291h1v1h-1zM749 291h1v1h-1zM750 291h1v1h-1zM751 292h1v1h-1zM752 292h1v1h-1zM753 292h1v1h-1zM754 292h1v1h-1zM755 293h1v1h-1zM756 293h1v1h-1zM757 293h1v1h-1zM758 293h1v1h-1zM759 292h1v1h-1zM760 292h1v1h-1zM761 292h1v1h-1zM762 291h1v1h-1zM763 291h1v1h-1zM764 291h1v1h-1zM765 291h1v1h-1zM766 291h1v1h-1zM767 292h1v1h-1zM768 292h1v1h-1zM769 292h1v1h-1zM770 292h1v1h-1zM771 292h1v1h-1zM772 292h1v1h-1zM773 292h1v1h-1zM774 291h1v1h-1zM775 291h1v1h-1zM776 291h1v1h-1zM777 291h1v1h-1zM778 290h1v1h-1zM779 290h1v1h-1zM780 290h1v1h-1zM781 290h1v1h-1zM782 289h1v1h-1zM783 289h1v1h-1zM784 289h1v1h-1zM785 288h1v1h-1zM786 288h1v1h-1zM787 287h1v1h-1zM788 287h1v1h-1zM789 286h1v1h-1zM790 286h1v1h-1zM791 285h1v1h-1zM792 285h1v1h-1zM793 284h1v1h-1zM794 284h1v1h-1zM795 284h1v1h-1zM796 284h1v1h-1zM797 285h1v1h-1zM798 285h1v1h-1zM799 285h1v1h-1zM800 285h1v1h-1zM801 286h1v1h-1zM802 286h1v1h-1zM803 287h1v1h-1zM804 287h1v1h-1zM805 288h1v1h-1zM806 288h1v1h-1zM807 288h1v1h-1zM808 288h1v1h-1zM809 288h1v1h-1zM810 288h1v1h-1zM811 288h1v1h-1zM812 288h1v1h-1zM813 288h1v1h-1zM814 288h1v1h-1zM815 287h1v1h-1zM816 287h1v1h-1zM817 286h1v1h-1zM818 286h1v1h-1zM819 285h1v1h-1zM820 285h1v1h-1zM821 285h1v1h-1zM822 284h1v1h-1zM823 284h1v1h-1zM824 284h1v1h-1zM825 284h1v1h-1zM826 283h1v1h-1zM827 283h1v1h-1zM828 283h1v1h-1zM829 283h1v1h-1zM830 283h1v1h-1zM831 283h1v1h-1zM832 283h1v1h-1zM833 283h1v1h-1zM834 283h1v1h-1zM835 283h1v1h-1zM836 284h1v1h-1zM837 284h1v1h-1zM838 285h1v1h-1zM839 285h1v1h-1zM840 286h1v1h-1zM841 286h1v1h-1zM842 287h1v1h-1zM843 288h1v2h-1zM844 290h1v1h-1zM845 291h1v1h-1zM846 292h1v2h-1zM847 294h1v1h-1zM848 295h1v1h-1zM849 295h1v1h-1zM850 296h1v1h-1zM851 296h1v1h-1zM852 297h1v1h-1zM853 298h1v1h-1zM854 298h1v1h-1zM855 299h1v1h-1zM856 299h1v1h-1zM857 300h1v1h-1zM858 301h1v2h-1zM859 303h1v2h-1zM860 305h1v2h-1zM861 307h1v2h-1zM862 309h1v2h-1zM863 311h1v1h-1zM864 312h1v2h-1zM865 314h1v2h-1zM866 316h1v1h-1zM867 317h1v2h-1zM868 319h1v1h-1zM869 320h1v2h-1zM870 322h1v2h-1zM871 324h1v2h-1zM872 326h1v3h-1zM873 329h1v2h-1zM874 331h1v1h-1zM875 332h1v2h-1zM876 334h1v1h-1zM877 335h1v1h-1zM878 336h1v2h-1zM879 338h1v1h-1zM880 339h1v2h-1zM881 341h1v1h-1zM882 342h1v1h-1zM883 343h1v2h-1zM884 345h1v1h-1zM885 346h1v1h-1zM886 347h1v1h-1zM887 348h1v1h-1zM888 349h1v1h-1zM889 350h1v1h-1zM890 351h1v1h-1zM891 352h1v1h-1zM892 352h1v1h-1zM893 353h1v1h-1zM894 354h1v1h-1zM895 355h1v1h-1zM896 356h1v1h-1zM897 357h1v1h-1zM898 358h1v1h-1zM899 359h1v1h-1zM900 360h1v1h-1zM901 361h1v1h-1zM902 362h1v1h-1zM903 363h1v1h-1zM904 364h1v1h-1zM905 365h1v1h-1zM906 366h1v1h-1zM907 367h1v1h-1zM908 368h1v1h-1zM909 369h1v1h-1zM910 370h1v1h-1zM911 371h1v1h-1zM912 372h1v1h-1zM913 373h1v1h-1zM914 374h1v2h-1zM915 376h1v1h-1zM916 377h1v1h-1zM917 378h1v1h-1zM918 379h1v1h-1zM919 380h1v2h-1zM920 382h1v1h-1zM921 383h1v1h-1zM922 384h1v1h-1zM923 385h1v2h-1zM924 387h1v1h-1z" fill="#0000cd" shape-rendering="crispEdges" clip-path="url(#cMain)"/>
<path d="M5 288h1v1h-1zM6 289h1v2h-1zM7 291h1v1h-1zM8 292h1v2h-1zM9 294h1v2h-1zM10 296h1v1h-1zM11 297h1v2h-1zM12 299h1v2h-1zM13 301h1v2h-1zM14 303h1v2h-1zM15 305h1v2h-1zM16 307h1v2h-1zM17 309h1v1h-1zM18 310h1v1h-1zM19 311h1v1h-1zM20 311h1v1h-1zM21 312h1v1h-1zM22 313h1v1h-1zM23 314h1v1h-1zM24 314h1v1h-1zM25 314h1v1h-1zM26 314h1v1h-1zM27 315h1v1h-1zM28 315h1v1h-1zM29 315h1v1h-1zM30 315h1v1h-1zM31 315h1v1h-1zM32 316h1v1h-1zM33 316h1v1h-1zM34 317h1v1h-1zM35 317h1v1h-1zM36 318h1v1h-1zM37 318h1v1h-1zM38 318h1v1h-1zM39 317h1v1h-1zM40 317h1v1h-1zM41 317h1v1h-1zM42 316h1v1h-1zM43 316h1v1h-1zM44 316h1v1h-1zM45 315h1v1h-1zM46 315h1v1h-1zM47 315h1v1h-1zM48 314h1v1h-1zM49 314h1v1h-1zM50 313h1v1h-1zM51 312h1v1h-1zM52 311h1v1h-1zM53 310h1v1h-1zM54 309h1v1h-1zM55 307h1v2h-1zM56 305h1v2h-1zM57 303h1v2h-1zM58 301h1v2h-1zM59 299h1v2h-1zM60 297h1v2h-1zM61 295h1v2h-1zM62 293h1v2h-1zM63 292h1v1h-1zM64 290h1v2h-1zM65 288h1v2h-1zM66 287h1v1h-1zM67 285h1v2h-1zM68 283h1v2h-1zM69 281h1v2h-1zM70 279h1v2h-1zM71 277h1v2h-1zM72 275h1v2h-1zM73 273h1v2h-1zM74 271h1v2h-1zM75 270h1v1h-1zM76 268h1v2h-1zM77 266h1v2h-1zM78 264h1v2h-1zM79 262h1v2h-1zM80 260h1v2h-1zM81 258h1v2h-1zM82 256h1v2h-1zM83 253h1v3h-1zM84 251h1v2h-1zM85 249h1v2h-1zM86 246h1v3h-1zM87 243h1v3h-1zM88 241h1v2h-1zM89 238h1v3h-1zM90 235h1v3h-1zM91 233h1v2h-1zM92 232h1v1h-1zM93 231h1v1h-1zM94 229h1v2h-1zM95 228h1v1h-1zM96 227h1v1h-1zM97 226h1v1h-1zM98 225h1v1h-1zM99 224h1v1h-1zM100 222h1v2h-1zM101 221h1v1h-1zM102 220h1v1h-1zM103 219h1v1h-1zM104 217h1v2h-1zM105 216h1v1h-1zM106 214h1v2h-1zM107 213h1v1h-1zM108 212h1v1h-1zM109 212h1v1h-1zM110 211h1v1h-1zM111 210h1v1h-1zM112 209h1v1h-1zM113 209h1v1h-1zM114 208h1v1h-1zM115 207h1v1h-1zM116 207h1v1h-1zM117 206h1v1h-1zM118 205h1v1h-1zM119 205h1v1h-1zM120 204h1v1h-1zM121 204h1v1h-1zM122 203h1v1h-1zM123 202h1v1h-1zM124 200h1v2h-1zM125 199h1v1h-1zM126 198h1v1h-1zM127 196h1v2h-1zM128 195h1v1h-1zM129 194h1v1h-1zM130 192h1v2h-1zM131 191h1v1h-1zM132 190h1v1h-1zM133 190h1v1h-1zM134 190h1v1h-1zM135 190h1v1h-1zM136 189h1v1h-1zM137 189h1v1h-1zM138 189h1v1h-1zM139 189h1v1h-1zM140 189h1v1h-1zM141 190h1v1h-1zM142 191h1v1h-1zM143 191h1v1h-1zM144 192h1v1h-1zM145 193h1v1h-1zM146 192h1v1h-1zM147 191h1v1h-1zM148 190h1v1h-1zM149 190h1v1h-1zM150 189h1v1h-1zM151 188h1v1h-1zM152 187h1v1h-1zM153 185h1v2h-1zM154 183h1v2h-1zM155 181h1v2h-1zM156 179h1v2h-1zM157 177h1v2h-1zM158 176h1v1h-1zM159 174h1v2h-1zM160 172h1v2h-1zM161 169h1v3h-1zM162 165h1v4h-1zM163 161h1v4h-1zM164 158h1v3h-1zM165 156h1v2h-1zM166 154h1v2h-1zM167 152h1v2h-1zM168 149h1v3h-1zM169 147h1v2h-1zM170 145h1v2h-1zM171 143h1v2h-1zM172 141h1v2h-1zM173 139h1v2h-1zM174 137h1v2h-1zM175 135h1v2h-1zM176 133h1v2h-1zM177 131h1v2h-1zM178 129h1v2h-1zM179 128h1v1h-1zM180 126h1v2h-1zM181 125h1v1h-1zM182 124h1v1h-1zM183 122h1v2h-1zM184 121h1v1h-1zM185 120h1v1h-1zM186 118h1v2h-1zM187 117h1v1h-1zM188 116h1v1h-1zM189 114h1v2h-1zM190 113h1v1h-1zM191 112h1v1h-1zM192 111h1v1h-1zM193 109h1v2h-1zM194 108h1v1h-1zM195 107h1v1h-1zM196 106h1v1h-1zM197 105h1v1h-1zM198 104h1v1h-1zM199 103h1v1h-1zM200 102h1v1h-1zM201 101h1v1h-1zM202 100h1v1h-1zM203 99h1v1h-1zM204 99h1v1h-1zM205 99h1v1h-1zM206 99h1v1h-1zM207 98h1v1h-1zM208 98h1v1h-1zM209 98h1v1h-1zM210 98h1v1h-1zM211 99h1v1h-1zM212 100h1v1h-1zM213 100h1v1h-1zM214 101h1v1h-1zM215 102h1v1h-1zM216 103h1v1h-1zM217 103h1v1h-1zM218 104h1v1h-1zM219 105h1v1h-1zM220 106h1v1h-1zM221 107h1v2h-1zM222 109h1v1h-1zM223 110h1v1h-1zM224 111h1v1h-1zM225 112h1v2h-1zM226 114h1v1h-1zM227 115h1v2h-1zM228 117h1v2h-1zM229 119h1v1h-1zM230 120h1v2h-1zM231 122h1v2h-1zM232 124h1v2h-1zM233 126h1v2h-1zM234 128h1v2h-1zM235 130h1v3h-1zM236 133h1v2h-1zM237 135h1v2h-1zM238 137h1v2h-1zM239 139h1v2h-1zM240 141h1v2h-1zM241 143h1v2h-1zM242 145h1v2h-1zM243 147h1v2h-1zM244 149h1v2h-1zM245 151h1v2h-1zM246 153h1v1h-1zM247 154h1v2h-1zM248 156h1v2h-1zM249 158h1v2h-1zM250 160h1v2h-1zM251 162h1v2h-1zM252 164h1v2h-1zM253 166h1v2h-1zM254 168h1v3h-1zM255 171h1v3h-1zM256 174h1v3h-1zM257 177h1v3h-1zM258 180h1v3h-1zM259 183h1v3h-1zM260 186h1v2h-1zM261 188h1v3h-1zM262 191h1v2h-1zM263 193h1v3h-1zM264 196h1v3h-1zM265 199h1v2h-1zM266 201h1v3h-1zM267 204h1v2h-1zM268 206h1v2h-1zM269 208h1v3h-1zM270 211h1v2h-1zM271 213h1v2h-1zM272 215h1v2h-1zM273 217h1v2h-1zM274 219h1v2h-1zM275 221h1v2h-1zM276 223h1v2h-1zM277 225h1v1h-1zM278 226h1v2h-1zM279 228h1v1h-1zM280 229h1v1h-1zM281 230h1v2h-1zM282 232h1v1h-1zM283 233h1v2h-1zM284 235h1v1h-1zM285 236h1v1h-1zM286 237h1v1h-1zM287 238h1v1h-1zM288 239h1v2h-1zM289 241h1v1h-1zM290 242h1v1h-1zM291 243h1v1h-1zM292 244h1v2h-1zM293 246h1v2h-1zM294 248h1v2h-1zM295 250h1v2h-1zM296 252h1v2h-1zM297 254h1v2h-1zM298 256h1v2h-1zM299 258h1v2h-1zM300 260h1v2h-1zM301 262h1v3h-1zM302 265h1v2h-1zM303 267h1v3h-1zM304 270h1v2h-1zM305 272h1v3h-1zM306 275h1v2h-1zM307 277h1v2h-1zM308 279h1v1h-1zM309 280h1v1h-1zM310 280h1v1h-1zM311 281h1v1h-1zM312 282h1v1h-1zM313 283h1v1h-1zM314 284h1v1h-1zM315 285h1v1h-1zM316 286h1v1h-1zM317 287h1v1h-1zM318 288h1v1h-1zM319 289h1v1h-1zM320 290h1v1h-1zM321 291h1v1h-1zM322 291h1v1h-1zM323 292h1v1h-1zM324 293h1v1h-1zM325 294h1v1h-1zM326 295h1v1h-1zM327 295h1v1h-1zM328 296h1v1h-1zM329 297h1v1h-1zM330 298h1v2h-1zM331 300h1v1h-1zM332 301h1v1h-1zM333 302h1v2h-1zM334 304h1v1h-1zM335 305h1v2h-1zM336 307h1v1h-1zM337 308h1v2h-1zM338 310h1v2h-1zM339 312h1v2h-1zM340 314h1v2h-1zM341 316h1v2h-1zM342 318h1v2h-1zM343 320h1v1h-1zM344 321h1v1h-1zM345 322h1v1h-1zM346 323h1v1h-1zM347 324h1v1h-1zM348 325h1v1h-1zM349 326h1v1h-1zM350 326h1v1h-1zM351 326h1v1h-1zM352 326h1v1h-1zM353 326h1v1h-1zM354 326h1v1h-1zM355 326h1v1h-1zM356 327h1v1h-1zM357 328h1v1h-1zM358 329h1v1h-1zM359 329h1v1h-1zM360 330h1v1h-1zM361 331h1v1h-1zM362 332h1v2h-1zM363 334h1v2h-1zM364 336h1v2h-1zM365 338h1v3h-1zM366 341h1v2h-1zM367 343h1v3h-1zM368 346h1v3h-1zM369 349h1v3h-1zM370 352h1v3h-1zM371 355h1v3h-1zM372 358h1v3h-1zM373 361h1v2h-1zM374 363h1v2h-1zM375 365h1v2h-1zM376 367h1v2h-1zM377 369h1v2h-1zM378 371h1v2h-1zM379 373h1v2h-1zM380 375h1v2h-1zM381 377h1v2h-1zM382 379h1v2h-1zM383 381h1v2h-1zM384 383h1v1h-1zM385 384h1v1h-1zM386 385h1v2h-1zM387 387h1v1h-1zM388 388h1v1h-1zM389 389h1v2h-1zM390 391h1v1h-1zM391 392h1v2h-1zM392 394h1v1h-1zM393 395h1v2h-1zM394 397h1v2h-1zM395 399h1v1h-1zM396 400h1v2h-1zM397 402h1v1h-1zM398 403h1v1h-1zM399 404h1v2h-1zM400 406h1v1h-1zM401 407h1v2h-1zM402 409h1v1h-1zM403 410h1v1h-1zM404 411h1v1h-1zM405 412h1v2h-1zM406 414h1v1h-1zM407 415h1v1h-1zM408 416h1v1h-1zM409 416h1v1h-1zM410 416h1v1h-1zM411 417h1v1h-1zM412 417h1v1h-1zM413 417h1v1h-1zM414 417h1v1h-1zM415 416h1v1h-1zM416 416h1v1h-1zM417 416h1v1h-1zM418 416h1v1h-1zM419 415h1v1h-1zM420 415h1v1h-1zM421 414h1v1h-1zM422 413h1v1h-1zM423 412h1v1h-1zM424 410h1v2h-1zM425 409h1v1h-1zM426 408h1v1h-1zM427 407h1v1h-1zM428 406h1v1h-1zM429 404h1v2h-1zM430 403h1v1h-1zM431 402h1v1h-1zM432 400h1v2h-1zM433 398h1v2h-1zM434 395h1v3h-1zM435 392h1v3h-1zM436 388h1v4h-1zM437 385h1v3h-1zM438 383h1v2h-1zM439 381h1v2h-1zM440 379h1v2h-1zM441 377h1v2h-1zM442 375h1v2h-1zM443 373h1v2h-1zM444 371h1v2h-1zM445 368h1v3h-1zM446 365h1v3h-1zM447 363h1v2h-1zM448 360h1v3h-1zM449 357h1v3h-1zM450 354h1v3h-1zM451 352h1v2h-1zM452 349h1v3h-1zM453 346h1v3h-1zM454 344h1v2h-1zM455 342h1v2h-1zM456 340h1v2h-1zM457 337h1v3h-1zM458 335h1v2h-1zM459 333h1v2h-1zM460 330h1v3h-1zM461 328h1v2h-1zM462 326h1v2h-1zM463 323h1v3h-1zM464 321h1v2h-1zM465 319h1v2h-1zM466 316h1v3h-1zM467 314h1v2h-1zM468 312h1v2h-1zM469 310h1v2h-1zM470 308h1v2h-1zM471 305h1v3h-1zM472 303h1v2h-1zM473 301h1v2h-1zM474 299h1v2h-1zM475 297h1v2h-1zM476 294h1v3h-1zM477 292h1v2h-1zM478 290h1v2h-1zM479 288h1v2h-1zM480 285h1v3h-1zM481 283h1v2h-1zM482 281h1v2h-1zM483 279h1v2h-1zM484 277h1v2h-1zM485 275h1v2h-1zM486 273h1v2h-1zM487 271h1v2h-1zM488 269h1v2h-1zM489 267h1v2h-1zM490 266h1v1h-1zM491 265h1v1h-1zM492 265h1v1h-1zM493 264h1v1h-1zM494 264h1v1h-1zM495 263h1v1h-1zM496 263h1v1h-1zM497 262h1v1h-1zM498 262h1v1h-1zM499 261h1v1h-1zM500 261h1v1h-1zM501 261h1v1h-1zM502 260h1v1h-1zM503 260h1v1h-1zM504 260h1v1h-1zM505 260h1v1h-1zM506 259h1v1h-1zM507 259h1v1h-1zM508 259h1v1h-1zM509 258h1v1h-1zM510 258h1v1h-1zM511 258h1v1h-1zM512 257h1v1h-1zM513 257h1v1h-1zM514 257h1v1h-1zM515 257h1v1h-1zM516 256h1v1h-1zM517 256h1v1h-1zM518 255h1v1h-1zM519 255h1v1h-1zM520 254h1v1h-1zM521 254h1v1h-1zM522 253h1v1h-1zM523 253h1v1h-1zM524 252h1v1h-1zM525 252h1v1h-1zM526 252h1v1h-1zM527 252h1v1h-1zM528 252h1v1h-1zM529 252h1v1h-1zM530 253h1v1h-1zM531 253h1v1h-1zM532 253h1v1h-1zM533 253h1v1h-1zM534 253h1v1h-1zM535 252h1v1h-1zM536 252h1v1h-1zM537 251h1v1h-1zM538 250h1v1h-1zM539 250h1v1h-1zM540 249h1v1h-1zM541 249h1v1h-1zM542 248h1v1h-1zM543 248h1v1h-1zM544 248h1v1h-1zM545 247h1v1h-1zM546 247h1v1h-1zM547 247h1v1h-1zM548 247h1v1h-1zM549 247h1v1h-1zM550 247h1v1h-1zM551 247h1v1h-1zM552 247h1v1h-1zM553 247h1v1h-1zM554 247h1v1h-1zM555 247h1v1h-1zM556 247h1v1h-1zM557 247h1v1h-1zM558 247h1v1h-1zM559 247h1v1h-1zM560 247h1v1h-1zM561 248h1v1h-1zM562 248h1v1h-1zM563 248h1v1h-1zM564 248h1v1h-1zM565 248h1v1h-1zM566 248h1v1h-1zM567 248h1v1h-1zM568 247h1v1h-1zM569 247h1v1h-1zM570 246h1v1h-1zM571 246h1v1h-1zM572 245h1v1h-1zM573 245h1v1h-1zM574 244h1v1h-1zM575 244h1v1h-1zM576 243h1v1h-1zM577 242h1v1h-1zM578 242h1v1h-1zM579 241h1v1h-1zM580 241h1v1h-1zM581 241h1v1h-1zM582 241h1v1h-1zM583 240h1v1h-1zM584 240h1v1h-1zM585 240h1v1h-1zM586 240h1v1h-1zM587 240h1v1h-1zM588 240h1v1h-1zM589 241h1v1h-1zM590 241h1v1h-1zM591 242h1v1h-1zM592 242h1v1h-1zM593 243h1v1h-1zM594 243h1v1h-1zM595 244h1v1h-1zM596 244h1v1h-1zM597 245h1v1h-1zM598 245h1v1h-1zM599 246h1v1h-1zM600 246h1v1h-1zM601 247h1v1h-1zM602 248h1v1h-1zM603 249h1v2h-1zM604 251h1v1h-1zM605 252h1v1h-1zM606 251h1v1h-1zM607 251h1v1h-1zM608 250h1v1h-1zM609 250h1v1h-1zM610 249h1v1h-1zM611 249h1v1h-1zM612 249h1v1h-1zM613 249h1v1h-1zM614 249h1v1h-1zM615 248h1v1h-1zM616 248h1v1h-1zM617 248h1v1h-1zM618 248h1v1h-1zM619 248h1v1h-1zM620 248h1v1h-1zM621 249h1v1h-1zM622 249h1v1h-1zM623 250h1v1h-1zM624 250h1v1h-1zM625 251h1v1h-1zM626 251h1v1h-1zM627 252h1v1h-1zM628 253h1v1h-1zM629 254h1v1h-1zM630 255h1v1h-1zM631 256h1v1h-1zM632 257h1v1h-1zM633 258h1v1h-1zM634 257h1v1h-1zM635 257h1v1h-1zM636 256h1v1h-1zM637 255h1v1h-1zM638 255h1v1h-1zM639 254h1v1h-1zM640 253h1v1h-1zM641 253h1v1h-1zM642 252h1v1h-1zM643 251h1v1h-1zM644 250h1v1h-1zM645 250h1v1h-1zM646 249h1v1h-1zM647 248h1v1h-1zM648 247h1v1h-1zM649 246h1v1h-1zM650 245h1v1h-1zM651 244h1v1h-1zM652 243h1v1h-1zM653 242h1v1h-1zM654 241h1v1h-1zM655 240h1v1h-1zM656 239h1v1h-1zM657 238h1v1h-1zM658 236h1v2h-1zM659 235h1v1h-1zM660 234h1v1h-1zM661 233h1v1h-1zM662 232h1v1h-1zM663 232h1v1h-1zM664 233h1v1h-1zM665 233h1v1h-1zM666 233h1v1h-1zM667 233h1v1h-1zM668 234h1v1h-1zM669 234h1v1h-1zM670 234h1v1h-1zM671 235h1v1h-1zM672 235h1v1h-1zM673 235h1v1h-1zM674 235h1v1h-1zM675 236h1v1h-1zM676 236h1v1h-1zM677 236h1v1h-1zM678 236h1v1h-1zM679 237h1v1h-1zM680 237h1v1h-1zM681 237h1v1h-1zM682 238h1v1h-1zM683 238h1v1h-1zM684 238h1v1h-1zM685 239h1v1h-1zM686 239h1v1h-1zM687 240h1v1h-1zM688 241h1v1h-1zM689 242h1v1h-1zM690 242h1v1h-1zM691 243h1v1h-1zM692 244h1v1h-1zM693 245h1v1h-1zM694 246h1v1h-1zM695 247h1v1h-1zM696 247h1v1h-1zM697 248h1v1h-1zM698 249h1v1h-1zM699 250h1v1h-1zM700 251h1v2h-1zM701 253h1v2h-1zM702 255h1v1h-1zM703 256h1v2h-1zM704 258h1v2h-1zM705 260h1v1h-1zM706 261h1v2h-1zM707 263h1v2h-1zM708 265h1v1h-1zM709 266h1v2h-1zM710 268h1v2h-1zM711 270h1v2h-1zM712 272h1v1h-1zM713 273h1v1h-1zM714 274h1v2h-1zM715 276h1v1h-1zM716 277h1v1h-1zM717 278h1v2h-1zM718 280h1v1h-1zM719 281h1v1h-1zM720 282h1v1h-1zM721 283h1v1h-1zM722 284h1v1h-1zM723 285h1v1h-1zM724 286h1v1h-1zM725 287h1v1h-1zM726 288h1v1h-1zM727 289h1v1h-1zM728 290h1v1h-1zM729 291h1v1h-1zM730 292h1v1h-1zM731 293h1v1h-1zM732 294h1v1h-1zM733 295h1v1h-1zM734 295h1v1h-1zM735 296h1v1h-1zM736 296h1v1h-1zM737 297h1v1h-1zM738 297h1v1h-1zM739 298h1v1h-1zM740 299h1v2h-1zM741 301h1v1h-1zM742 302h1v1h-1zM743 303h1v2h-1zM744 305h1v1h-1zM745 306h1v1h-1zM746 306h1v1h-1zM747 306h1v1h-1zM748 306h1v1h-1zM749 306h1v1h-1zM750 305h1v1h-1zM751 305h1v1h-1zM752 304h1v1h-1zM753 303h1v1h-1zM754 303h1v1h-1zM755 302h1v1h-1zM756 301h1v1h-1zM757 300h1v1h-1zM758 299h1v1h-1zM759 298h1v1h-1zM760 297h1v1h-1zM761 296h1v1h-1zM762 294h1v2h-1zM763 293h1v1h-1zM764 291h1v2h-1zM765 290h1v1h-1zM766 289h1v1h-1zM767 289h1v1h-1zM768 288h1v1h-1zM769 288h1v1h-1zM770 287h1v1h-1zM771 287h1v1h-1zM772 287h1v1h-1zM773 287h1v1h-1zM774 287h1v1h-1zM775 287h1v1h-1zM776 287h1v1h-1zM777 287h1v1h-1zM778 287h1v1h-1zM779 286h1v1h-1zM780 286h1v1h-1zM781 285h1v1h-1zM782 285h1v1h-1zM783 284h1v1h-1zM784 284h1v1h-1zM785 283h1v1h-1zM786 282h1v1h-1zM787 281h1v1h-1zM788 280h1v1h-1zM789 279h1v1h-1zM790 278h1v1h-1zM791 277h1v1h-1zM792 276h1v1h-1zM793 276h1v1h-1zM794 275h1v1h-1zM795 275h1v1h-1zM796 274h1v1h-1zM797 274h1v1h-1zM798 273h1v1h-1zM799 273h1v1h-1zM800 274h1v1h-1zM801 274h1v1h-1zM802 275h1v1h-1zM803 275h1v1h-1zM804 276h1v1h-1zM805 276h1v1h-1zM806 276h1v1h-1zM807 277h1v1h-1zM808 277h1v1h-1zM809 278h1v1h-1zM810 278h1v1h-1zM811 279h1v1h-1zM812 279h1v1h-1zM813 280h1v1h-1zM814 280h1v1h-1zM815 281h1v1h-1zM816 282h1v1h-1zM817 283h1v1h-1zM818 283h1v1h-1zM819 284h1v1h-1zM820 285h1v1h-1zM821 286h1v1h-1zM822 287h1v1h-1zM823 287h1v1h-1zM824 288h1v1h-1zM825 289h1v1h-1zM826 290h1v1h-1zM827 290h1v1h-1zM828 291h1v1h-1zM829 291h1v1h-1zM830 291h1v1h-1zM831 292h1v1h-1zM832 292h1v1h-1zM833 292h1v1h-1zM834 292h1v1h-1zM835 293h1v1h-1zM836 293h1v1h-1zM837 293h1v1h-1zM838 294h1v1h-1zM839 295h1v1h-1zM840 296h1v1h-1zM841 297h1v1h-1zM842 298h1v1h-1zM843 299h1v1h-1zM844 300h1v2h-1zM845 302h1v1h-1zM846 303h1v1h-1zM847 304h1v2h-1zM848 306h1v1h-1zM849 306h1v1h-1zM850 307h1v1h-1zM851 307h1v1h-1zM852 308h1v1h-1zM853 308h1v1h-1zM854 309h1v1h-1zM855 309h1v1h-1zM856 310h1v1h-1zM857 311h1v1h-1zM858 312h1v2h-1zM859 314h1v1h-1zM860 315h1v1h-1zM861 316h1v1h-1zM862 317h1v2h-1zM863 319h1v2h-1zM864 321h1v2h-1zM865 323h1v2h-1zM866 325h1v2h-1zM867 327h1v2h-1zM868 329h1v2h-1zM869 331h1v2h-1zM870 333h1v2h-1zM871 335h1v2h-1zM872 337h1v2h-1zM873 339h1v2h-1zM874 341h1v2h-1zM875 343h1v3h-1zM876 346h1v2h-1zM877 348h1v2h-1zM878 350h1v2h-1zM879 352h1v2h-1zM880 354h1v2h-1zM881 356h1v2h-1zM882 358h1v2h-1zM883 360h1v2h-1zM884 362h1v2h-1zM885 364h1v2h-1zM886 366h1v2h-1zM887 368h1v2h-1zM888 370h1v2h-1zM889 372h1v2h-1zM890 374h1v2h-1zM891 376h1v2h-1zM892 378h1v2h-1zM893 380h1v1h-1zM894 381h1v1h-1zM895 382h1v1h-1zM896 383h1v2h-1zM897 385h1v1h-1zM898 386h1v1h-1zM899 387h1v1h-1zM900 388h1v1h-1zM901 389h1v1h-1zM902 390h1v2h-1zM903 392h1v1h-1zM904 393h1v1h-1zM905 394h1v2h-1zM906 396h1v1h-1zM907 397h1v2h-1zM908 399h1v2h-1zM909 401h1v1h-1zM910 402h1v1h-1zM911 402h1v1h-1zM912 403h1v1h-1zM913 403h1v1h-1zM914 402h1v1h-1zM915 402h1v1h-1zM916 401h1v1h-1zM917 401h1v1h-1zM918 401h1v1h-1zM919 400h1v1h-1zM920 400h1v1h-1zM921 399h1v1h-1zM922 399h1v1h-1zM923 399h1v1h-1zM924 398h1v1h-1zM925 398h1v1h-1zM926 398h1v1h-1z" fill="#ff0000" shape-rendering="crispEdges" clip-path="url(#cMain)"/>
<rect x="5" y="50" width="1162" height="2" fill="#ff0000"/>
<rect x="5" y="175" width="1162" height="2" fill="#ff0000"/>
<rect x="5" y="293" width="1162" height="2" fill="#00ff00"/>
<rect x="5" y="384" width="1162" height="2" fill="#0000ff"/>
<rect x="5" y="475" width="1162" height="2" fill="#0000ff"/>
<rect x="5" y="325" width="1" height="33" fill="#32cd32"/>
<rect x="4" y="337" width="3" height="18" fill="#32cd32"/>
<rect x="9" y="319" width="1" height="39" fill="#ff0000"/>
<rect x="8" y="347" width="3" height="7" fill="#ff0000"/>
<rect x="13" y="344" width="1" height="10" fill="#32cd32"/>
<rect x="12" y="348" width="3" height="1" fill="#32cd32"/>
<rect x="17" y="346" width="1" height="41" fill="#32cd32"/>
<rect x="16" y="348" width="3" height="31" fill="#32cd32"/>
<rect x="21" y="334" width="1" height="53" fill="#ff0000"/>
<rect x="20" y="346" width="3" height="33" fill="#ff0000"/>
<rect x="25" y="297" width="1" height="52" fill="#ff0000"/>
<rect x="24" y="305" width="3" height="41" fill="#ff0000"/>
<rect x="29" y="258" width="1" height="76" fill="#ff0000"/>
<rect x="28" y="259" width="3" height="47" fill="#ff0000"/>
<rect x="33" y="258" width="1" height="54" fill="#32cd32"/>
<rect x="32" y="260" width="3" height="26" fill="#32cd32"/>
<rect x="37" y="271" width="1" height="23" fill="#ff0000"/>
<rect x="36" y="274" width="3" height="11" fill="#ff0000"/>
<rect x="41" y="250" width="1" height="50" fill="#ff0000"/>
<rect x="40" y="253" width="3" height="43" fill="#ff0000"/>
<rect x="45" y="252" width="1" height="42" fill="#32cd32"/>
<rect x="44" y="253" width="3" height="21" fill="#32cd32"/>
<rect x="49" y="263" width="1" height="50" fill="#32cd32"/>
<rect x="48" y="274" width="3" height="14" fill="#32cd32"/>
<rect x="53" y="275" width="1" height="32" fill="#ff0000"/>
<rect x="52" y="275" width="3" height="13" fill="#ff0000"/>
<rect x="57" y="192" width="1" height="87" fill="#ff0000"/>
<rect x="56" y="246" width="3" height="31" fill="#ff0000"/>
<rect x="61" y="225" width="1" height="24" fill="#ff0000"/>
<rect x="60" y="231" width="3" height="15" fill="#ff0000"/>
<rect x="65" y="246" width="1" height="25" fill="#32cd32"/>
<rect x="64" y="256" width="3" height="11" fill="#32cd32"/>
<rect x="69" y="236" width="1" height="36" fill="#ff0000"/>
<rect x="68" y="248" width="3" height="18" fill="#ff0000"/>
<rect x="73" y="245" width="1" height="39" fill="#32cd32"/>
<rect x="72" y="247" width="3" height="13" fill="#32cd32"/>
<rect x="77" y="241" width="1" height="27" fill="#ff0000"/>
<rect x="76" y="252" width="3" height="8" fill="#ff0000"/>
<rect x="81" y="170" width="1" height="85" fill="#ff0000"/>
<rect x="80" y="171" width="3" height="82" fill="#ff0000"/>
<rect x="85" y="154" width="1" height="28" fill="#32cd32"/>
<rect x="84" y="172" width="3" height="10" fill="#32cd32"/>
<rect x="89" y="118" width="1" height="79" fill="#ff0000"/>
<rect x="88" y="120" width="3" height="72" fill="#ff0000"/>
<rect x="93" y="98" width="1" height="90" fill="#32cd32"/>
<rect x="92" y="121" width="3" height="43" fill="#32cd32"/>
<rect x="97" y="155" width="1" height="47" fill="#32cd32"/>
<rect x="96" y="163" width="3" height="23" fill="#32cd32"/>
<rect x="101" y="179" width="1" height="59" fill="#32cd32"/>
<rect x="100" y="185" width="3" height="43" fill="#32cd32"/>
<rect x="105" y="181" width="1" height="70" fill="#ff0000"/>
<rect x="104" y="203" width="3" height="25" fill="#ff0000"/>
<rect x="109" y="200" width="1" height="19" fill="#32cd32"/>
<rect x="108" y="203" width="3" height="5" fill="#32cd32"/>
<rect x="113" y="176" width="1" height="43" fill="#ff0000"/>
<rect x="112" y="204" width="3" height="5" fill="#ff0000"/>
<rect x="117" y="196" width="1" height="24" fill="#32cd32"/>
<rect x="116" y="204" width="3" height="2" fill="#32cd32"/>
<rect x="121" y="188" width="1" height="22" fill="#ff0000"/>
<rect x="120" y="190" width="3" height="16" fill="#ff0000"/>
<rect x="125" y="185" width="1" height="50" fill="#32cd32"/>
<rect x="124" y="189" width="3" height="11" fill="#32cd32"/>
<rect x="129" y="166" width="1" height="38" fill="#ff0000"/>
<rect x="128" y="186" width="3" height="14" fill="#ff0000"/>
<rect x="133" y="185" width="1" height="11" fill="#32cd32"/>
<rect x="132" y="186" width="3" height="8" fill="#32cd32"/>
<rect x="137" y="177" width="1" height="27" fill="#32cd32"/>
<rect x="136" y="181" width="3" height="20" fill="#32cd32"/>
<rect x="141" y="177" width="1" height="25" fill="#ff0000"/>
<rect x="140" y="182" width="3" height="19" fill="#ff0000"/>
<rect x="145" y="154" width="1" height="33" fill="#ff0000"/>
<rect x="144" y="161" width="3" height="21" fill="#ff0000"/>
<rect x="149" y="114" width="1" height="53" fill="#ff0000"/>
<rect x="148" y="116" width="3" height="46" fill="#ff0000"/>
<rect x="153" y="110" width="1" height="29" fill="#32cd32"/>
<rect x="152" y="116" width="3" height="16" fill="#32cd32"/>
<rect x="157" y="124" width="1" height="10" fill="#32cd32"/>
<rect x="156" y="130" width="3" height="2" fill="#32cd32"/>
<rect x="161" y="92" width="1" height="42" fill="#ff0000"/>
<rect x="160" y="96" width="3" height="33" fill="#ff0000"/>
<rect x="165" y="80" width="1" height="21" fill="#ff0000"/>
<rect x="164" y="84" width="3" height="12" fill="#ff0000"/>
<rect x="169" y="78" width="1" height="29" fill="#32cd32"/>
<rect x="168" y="84" width="3" height="16" fill="#32cd32"/>
<rect x="173" y="84" width="1" height="18" fill="#ff0000"/>
<rect x="172" y="88" width="3" height="12" fill="#ff0000"/>
<rect x="177" y="70" width="1" height="22" fill="#ff0000"/>
<rect x="176" y="76" width="3" height="12" fill="#ff0000"/>
<rect x="181" y="72" width="1" height="28" fill="#32cd32"/>
<rect x="180" y="76" width="3" height="20" fill="#32cd32"/>
<rect x="185" y="90" width="1" height="18" fill="#32cd32"/>
<rect x="184" y="96" width="3" height="9" fill="#32cd32"/>
<rect x="189" y="95" width="1" height="40" fill="#32cd32"/>
<rect x="188" y="100" width="3" height="34" fill="#32cd32"/>
<rect x="193" y="110" width="1" height="28" fill="#ff0000"/>
<rect x="192" y="122" width="3" height="10" fill="#ff0000"/>
<rect x="197" y="92" width="1" height="37" fill="#ff0000"/>
<rect x="196" y="98" width="3" height="25" fill="#ff0000"/>
<rect x="201" y="90" width="1" height="26" fill="#32cd32"/>
<rect x="200" y="96" width="3" height="4" fill="#32cd32"/>
<rect x="205" y="82" width="1" height="20" fill="#ff0000"/>
<rect x="204" y="88" width="3" height="10" fill="#ff0000"/>
<rect x="209" y="84" width="1" height="40" fill="#32cd32"/>
<rect x="208" y="88" width="3" height="28" fill="#32cd32"/>
<rect x="213" y="100" width="1" height="28" fill="#32cd32"/>
<rect x="212" y="115" width="3" height="10" fill="#32cd32"/>
<rect x="217" y="120" width="1" height="41" fill="#32cd32"/>
<rect x="216" y="123" width="3" height="35" fill="#32cd32"/>
<rect x="221" y="126" width="1" height="40" fill="#32cd32"/>
<rect x="220" y="156" width="3" height="2" fill="#32cd32"/>
<rect x="225" y="140" width="1" height="30" fill="#32cd32"/>
<rect x="224" y="157" width="3" height="6" fill="#32cd32"/>
<rect x="229" y="152" width="1" height="12" fill="#ff0000"/>
<rect x="228" y="157" width="3" height="6" fill="#ff0000"/>
<rect x="233" y="144" width="1" height="58" fill="#32cd32"/>
<rect x="232" y="155" width="3" height="33" fill="#32cd32"/>
<rect x="237" y="185" width="1" height="44" fill="#32cd32"/>
<rect x="236" y="187" width="3" height="21" fill="#32cd32"/>
<rect x="241" y="199" width="1" height="29" fill="#32cd32"/>
<rect x="240" y="207" width="3" height="20" fill="#32cd32"/>
<rect x="245" y="219" width="1" height="24" fill="#ff0000"/>
<rect x="244" y="223" width="3" height="4" fill="#ff0000"/>
<rect x="249" y="207" width="1" height="27" fill="#ff0000"/>
<rect x="248" y="223" width="3" height="1" fill="#ff0000"/>
<rect x="253" y="220" width="1" height="10" fill="#32cd32"/>
<rect x="252" y="223" width="3" height="6" fill="#32cd32"/>
<rect x="257" y="222" width="1" height="31" fill="#32cd32"/>
<rect x="256" y="226" width="3" height="26" fill="#32cd32"/>
<rect x="261" y="232" width="1" height="29" fill="#ff0000"/>
<rect x="260" y="245" width="3" height="7" fill="#ff0000"/>
<rect x="265" y="229" width="1" height="28" fill="#32cd32"/>
<rect x="264" y="245" width="3" height="9" fill="#32cd32"/>
<rect x="269" y="246" width="1" height="30" fill="#32cd32"/>
<rect x="268" y="253" width="3" height="13" fill="#32cd32"/>
<rect x="273" y="255" width="1" height="21" fill="#ff0000"/>
<rect x="272" y="262" width="3" height="4" fill="#ff0000"/>
<rect x="277" y="254" width="1" height="12" fill="#ff0000"/>
<rect x="276" y="255" width="3" height="8" fill="#ff0000"/>
<rect x="281" y="237" width="1" height="26" fill="#32cd32"/>
<rect x="280" y="255" width="3" height="2" fill="#32cd32"/>
<rect x="285" y="222" width="1" height="42" fill="#ff0000"/>
<rect x="284" y="230" width="3" height="27" fill="#ff0000"/>
<rect x="289" y="219" width="1" height="28" fill="#32cd32"/>
<rect x="288" y="230" width="3" height="5" fill="#32cd32"/>
<rect x="293" y="224" width="1" height="46" fill="#32cd32"/>
<rect x="292" y="234" width="3" height="33" fill="#32cd32"/>
<rect x="297" y="264" width="1" height="94" fill="#32cd32"/>
<rect x="296" y="266" width="3" height="92" fill="#32cd32"/>
<rect x="301" y="343" width="1" height="17" fill="#ff0000"/>
<rect x="300" y="354" width="3" height="4" fill="#ff0000"/>
<rect x="305" y="334" width="1" height="47" fill="#32cd32"/>
<rect x="304" y="359" width="3" height="11" fill="#32cd32"/>
<rect x="309" y="329" width="1" height="42" fill="#ff0000"/>
<rect x="308" y="336" width="3" height="35" fill="#ff0000"/>
<rect x="313" y="279" width="1" height="65" fill="#ff0000"/>
<rect x="312" y="281" width="3" height="56" fill="#ff0000"/>
<rect x="317" y="276" width="1" height="30" fill="#32cd32"/>
<rect x="316" y="280" width="3" height="14" fill="#32cd32"/>
<rect x="321" y="291" width="1" height="40" fill="#32cd32"/>
<rect x="320" y="293" width="3" height="22" fill="#32cd32"/>
<rect x="325" y="312" width="1" height="7" fill="#32cd32"/>
<rect x="324" y="314" width="3" height="4" fill="#32cd32"/>
<rect x="329" y="298" width="1" height="21" fill="#ff0000"/>
<rect x="328" y="308" width="3" height="8" fill="#ff0000"/>
<rect x="333" y="307" width="1" height="48" fill="#32cd32"/>
<rect x="332" y="308" width="3" height="35" fill="#32cd32"/>
<rect x="337" y="317" width="1" height="39" fill="#ff0000"/>
<rect x="336" y="334" width="3" height="9" fill="#ff0000"/>
<rect x="341" y="311" width="1" height="33" fill="#ff0000"/>
<rect x="340" y="327" width="3" height="8" fill="#ff0000"/>
<rect x="345" y="315" width="1" height="24" fill="#ff0000"/>
<rect x="344" y="315" width="3" height="13" fill="#ff0000"/>
<rect x="349" y="312" width="1" height="12" fill="#32cd32"/>
<rect x="348" y="315" width="3" height="7" fill="#32cd32"/>
<rect x="353" y="313" width="1" height="53" fill="#32cd32"/>
<rect x="352" y="323" width="3" height="37" fill="#32cd32"/>
<rect x="357" y="359" width="1" height="44" fill="#32cd32"/>
<rect x="356" y="360" width="3" height="14" fill="#32cd32"/>
<rect x="361" y="364" width="1" height="67" fill="#32cd32"/>
<rect x="360" y="373" width="3" height="42" fill="#32cd32"/>
<rect x="365" y="401" width="1" height="46" fill="#32cd32"/>
<rect x="364" y="414" width="3" height="16" fill="#32cd32"/>
<rect x="369" y="421" width="1" height="42" fill="#32cd32"/>
<rect x="368" y="429" width="3" height="21" fill="#32cd32"/>
<rect x="373" y="449" width="1" height="13" fill="#32cd32"/>
<rect x="372" y="450" width="3" height="10" fill="#32cd32"/>
<rect x="377" y="432" width="1" height="34" fill="#32cd32"/>
<rect x="376" y="440" width="3" height="1" fill="#32cd32"/>
<rect x="381" y="414" width="1" height="46" fill="#ff0000"/>
<rect x="380" y="419" width="3" height="22" fill="#ff0000"/>
<rect x="385" y="404" width="1" height="26" fill="#32cd32"/>
<rect x="384" y="419" width="3" height="8" fill="#32cd32"/>
<rect x="389" y="387" width="1" height="42" fill="#ff0000"/>
<rect x="388" y="388" width="3" height="39" fill="#ff0000"/>
<rect x="393" y="367" width="1" height="48" fill="#32cd32"/>
<rect x="392" y="389" width="3" height="20" fill="#32cd32"/>
<rect x="397" y="401" width="1" height="8" fill="#ff0000"/>
<rect x="396" y="405" width="3" height="4" fill="#ff0000"/>
<rect x="401" y="388" width="1" height="23" fill="#32cd32"/>
<rect x="400" y="401" width="3" height="5" fill="#32cd32"/>
<rect x="405" y="385" width="1" height="32" fill="#ff0000"/>
<rect x="404" y="388" width="3" height="17" fill="#ff0000"/>
<rect x="409" y="382" width="1" height="39" fill="#32cd32"/>
<rect x="408" y="388" width="3" height="23" fill="#32cd32"/>
<rect x="413" y="397" width="1" height="31" fill="#ff0000"/>
<rect x="412" y="407" width="3" height="4" fill="#ff0000"/>
<rect x="417" y="387" width="1" height="38" fill="#ff0000"/>
<rect x="416" y="389" width="3" height="19" fill="#ff0000"/>
<rect x="421" y="388" width="1" height="10" fill="#32cd32"/>
<rect x="420" y="389" width="3" height="9" fill="#32cd32"/>
<rect x="425" y="352" width="1" height="45" fill="#ff0000"/>
<rect x="424" y="374" width="3" height="21" fill="#ff0000"/>
<rect x="429" y="368" width="1" height="19" fill="#ff0000"/>
<rect x="428" y="370" width="3" height="4" fill="#ff0000"/>
<rect x="433" y="369" width="1" height="31" fill="#32cd32"/>
<rect x="432" y="370" width="3" height="28" fill="#32cd32"/>
<rect x="437" y="281" width="1" height="126" fill="#ff0000"/>
<rect x="436" y="283" width="3" height="116" fill="#ff0000"/>
<rect x="441" y="269" width="1" height="45" fill="#ff0000"/>
<rect x="440" y="282" width="3" height="2" fill="#ff0000"/>
<rect x="445" y="278" width="1" height="12" fill="#32cd32"/>
<rect x="444" y="281" width="3" height="3" fill="#32cd32"/>
<rect x="449" y="243" width="1" height="51" fill="#ff0000"/>
<rect x="448" y="255" width="3" height="34" fill="#ff0000"/>
<rect x="453" y="231" width="1" height="44" fill="#ff0000"/>
<rect x="452" y="234" width="3" height="21" fill="#ff0000"/>
<rect x="457" y="216" width="1" height="42" fill="#32cd32"/>
<rect x="456" y="234" width="3" height="18" fill="#32cd32"/>
<rect x="461" y="232" width="1" height="37" fill="#32cd32"/>
<rect x="460" y="252" width="3" height="2" fill="#32cd32"/>
<rect x="465" y="251" width="1" height="43" fill="#32cd32"/>
<rect x="464" y="254" width="3" height="25" fill="#32cd32"/>
<rect x="469" y="273" width="1" height="9" fill="#ff0000"/>
<rect x="468" y="276" width="3" height="2" fill="#ff0000"/>
<rect x="473" y="262" width="1" height="22" fill="#32cd32"/>
<rect x="472" y="281" width="3" height="3" fill="#32cd32"/>
<rect x="477" y="257" width="1" height="29" fill="#ff0000"/>
<rect x="476" y="268" width="3" height="15" fill="#ff0000"/>
<rect x="481" y="263" width="1" height="20" fill="#ff0000"/>
<rect x="480" y="267" width="3" height="2" fill="#ff0000"/>
<rect x="485" y="251" width="1" height="22" fill="#ff0000"/>
<rect x="484" y="255" width="3" height="14" fill="#ff0000"/>
<rect x="489" y="223" width="1" height="39" fill="#ff0000"/>
<rect x="488" y="249" width="3" height="7" fill="#ff0000"/>
<rect x="493" y="245" width="1" height="17" fill="#32cd32"/>
<rect x="492" y="249" width="3" height="9" fill="#32cd32"/>
<rect x="497" y="251" width="1" height="30" fill="#32cd32"/>
<rect x="496" y="258" width="3" height="16" fill="#32cd32"/>
<rect x="501" y="234" width="1" height="49" fill="#ff0000"/>
<rect x="500" y="239" width="3" height="35" fill="#ff0000"/>
<rect x="505" y="232" width="1" height="39" fill="#32cd32"/>
<rect x="504" y="238" width="3" height="17" fill="#32cd32"/>
<rect x="509" y="206" width="1" height="57" fill="#ff0000"/>
<rect x="508" y="212" width="3" height="43" fill="#ff0000"/>
<rect x="513" y="206" width="1" height="34" fill="#32cd32"/>
<rect x="512" y="212" width="3" height="21" fill="#32cd32"/>
<rect x="517" y="229" width="1" height="12" fill="#32cd32"/>
<rect x="516" y="232" width="3" height="8" fill="#32cd32"/>
<rect x="521" y="236" width="1" height="19" fill="#32cd32"/>
<rect x="520" y="245" width="3" height="4" fill="#32cd32"/>
<rect x="525" y="238" width="1" height="30" fill="#32cd32"/>
<rect x="524" y="248" width="3" height="17" fill="#32cd32"/>
<rect x="529" y="234" width="1" height="63" fill="#32cd32"/>
<rect x="528" y="264" width="3" height="9" fill="#32cd32"/>
<rect x="533" y="258" width="1" height="28" fill="#32cd32"/>
<rect x="532" y="272" width="3" height="4" fill="#32cd32"/>
<rect x="537" y="238" width="1" height="44" fill="#ff0000"/>
<rect x="536" y="239" width="3" height="37" fill="#ff0000"/>
<rect x="541" y="239" width="1" height="19" fill="#32cd32"/>
<rect x="540" y="240" width="3" height="14" fill="#32cd32"/>
<rect x="545" y="214" width="1" height="37" fill="#ff0000"/>
<rect x="544" y="224" width="3" height="25" fill="#ff0000"/>
<rect x="549" y="209" width="1" height="32" fill="#32cd32"/>
<rect x="548" y="224" width="3" height="7" fill="#32cd32"/>
<rect x="553" y="224" width="1" height="50" fill="#32cd32"/>
<rect x="552" y="231" width="3" height="40" fill="#32cd32"/>
<rect x="557" y="246" width="1" height="33" fill="#ff0000"/>
<rect x="556" y="249" width="3" height="22" fill="#ff0000"/>
<rect x="561" y="230" width="1" height="33" fill="#ff0000"/>
<rect x="560" y="237" width="3" height="12" fill="#ff0000"/>
<rect x="565" y="237" width="1" height="16" fill="#32cd32"/>
<rect x="564" y="237" width="3" height="15" fill="#32cd32"/>
<rect x="569" y="216" width="1" height="35" fill="#ff0000"/>
<rect x="568" y="239" width="3" height="11" fill="#ff0000"/>
<rect x="573" y="159" width="1" height="90" fill="#ff0000"/>
<rect x="572" y="163" width="3" height="77" fill="#ff0000"/>
<rect x="577" y="153" width="1" height="62" fill="#32cd32"/>
<rect x="576" y="164" width="3" height="39" fill="#32cd32"/>
<rect x="581" y="186" width="1" height="101" fill="#32cd32"/>
<rect x="580" y="202" width="3" height="80" fill="#32cd32"/>
<rect x="585" y="255" width="1" height="41" fill="#ff0000"/>
<rect x="584" y="272" width="3" height="10" fill="#ff0000"/>
<rect x="589" y="264" width="1" height="14" fill="#ff0000"/>
<rect x="588" y="268" width="3" height="5" fill="#ff0000"/>
<rect x="593" y="256" width="1" height="25" fill="#32cd32"/>
<rect x="592" y="268" width="3" height="3" fill="#32cd32"/>
<rect x="597" y="262" width="1" height="16" fill="#ff0000"/>
<rect x="596" y="267" width="3" height="4" fill="#ff0000"/>
<rect x="601" y="263" width="1" height="29" fill="#32cd32"/>
<rect x="600" y="267" width="3" height="10" fill="#32cd32"/>
<rect x="605" y="269" width="1" height="21" fill="#32cd32"/>
<rect x="604" y="275" width="3" height="9" fill="#32cd32"/>
<rect x="609" y="235" width="1" height="51" fill="#ff0000"/>
<rect x="608" y="241" width="3" height="43" fill="#ff0000"/>
<rect x="613" y="238" width="1" height="11" fill="#32cd32"/>
<rect x="612" y="241" width="3" height="5" fill="#32cd32"/>
<rect x="617" y="228" width="1" height="27" fill="#ff0000"/>
<rect x="616" y="234" width="3" height="6" fill="#ff0000"/>
<rect x="621" y="225" width="1" height="20" fill="#ff0000"/>
<rect x="620" y="230" width="3" height="5" fill="#ff0000"/>
<rect x="625" y="219" width="1" height="35" fill="#32cd32"/>
<rect x="624" y="230" width="3" height="19" fill="#32cd32"/>
<rect x="629" y="239" width="1" height="18" fill="#32cd32"/>
<rect x="628" y="248" width="3" height="1" fill="#32cd32"/>
<rect x="633" y="233" width="1" height="18" fill="#ff0000"/>
<rect x="632" y="246" width="3" height="4" fill="#ff0000"/>
<rect x="637" y="245" width="1" height="7" fill="#32cd32"/>
<rect x="636" y="246" width="3" height="6" fill="#32cd32"/>
<rect x="641" y="240" width="1" height="14" fill="#32cd32"/>
<rect x="640" y="242" width="3" height="9" fill="#32cd32"/>
<rect x="645" y="215" width="1" height="42" fill="#ff0000"/>
<rect x="644" y="215" width="3" height="35" fill="#ff0000"/>
<rect x="649" y="211" width="1" height="32" fill="#32cd32"/>
<rect x="648" y="215" width="3" height="18" fill="#32cd32"/>
<rect x="653" y="199" width="1" height="45" fill="#ff0000"/>
<rect x="652" y="211" width="3" height="21" fill="#ff0000"/>
<rect x="657" y="188" width="1" height="26" fill="#ff0000"/>
<rect x="656" y="198" width="3" height="13" fill="#ff0000"/>
<rect x="661" y="198" width="1" height="11" fill="#32cd32"/>
<rect x="660" y="198" width="3" height="11" fill="#32cd32"/>
<rect x="665" y="204" width="1" height="36" fill="#32cd32"/>
<rect x="664" y="204" width="3" height="34" fill="#32cd32"/>
<rect x="669" y="232" width="1" height="38" fill="#32cd32"/>
<rect x="668" y="238" width="3" height="22" fill="#32cd32"/>
<rect x="673" y="241" width="1" height="25" fill="#ff0000"/>
<rect x="672" y="259" width="3" height="1" fill="#ff0000"/>
<rect x="677" y="234" width="1" height="32" fill="#ff0000"/>
<rect x="676" y="242" width="3" height="17" fill="#ff0000"/>
<rect x="681" y="230" width="1" height="45" fill="#32cd32"/>
<rect x="680" y="242" width="3" height="32" fill="#32cd32"/>
<rect x="685" y="270" width="1" height="11" fill="#32cd32"/>
<rect x="684" y="273" width="3" height="2" fill="#32cd32"/>
<rect x="689" y="263" width="1" height="13" fill="#ff0000"/>
<rect x="688" y="271" width="3" height="4" fill="#ff0000"/>
<rect x="693" y="257" width="1" height="46" fill="#32cd32"/>
<rect x="692" y="271" width="3" height="18" fill="#32cd32"/>
<rect x="697" y="271" width="1" height="30" fill="#32cd32"/>
<rect x="696" y="288" width="3" height="12" fill="#32cd32"/>
<rect x="701" y="280" width="1" height="23" fill="#ff0000"/>
<rect x="700" y="299" width="3" height="1" fill="#ff0000"/>
<rect x="705" y="284" width="1" height="60" fill="#32cd32"/>
<rect x="704" y="299" width="3" height="22" fill="#32cd32"/>
<rect x="709" y="317" width="1" height="11" fill="#ff0000"/>
<rect x="708" y="319" width="3" height="2" fill="#ff0000"/>
<rect x="713" y="287" width="1" height="32" fill="#ff0000"/>
<rect x="712" y="295" width="3" height="24" fill="#ff0000"/>
<rect x="717" y="270" width="1" height="33" fill="#ff0000"/>
<rect x="716" y="280" width="3" height="16" fill="#ff0000"/>
<rect x="721" y="273" width="1" height="17" fill="#32cd32"/>
<rect x="720" y="280" width="3" height="1" fill="#32cd32"/>
<rect x="725" y="274" width="1" height="28" fill="#32cd32"/>
<rect x="724" y="280" width="3" height="18" fill="#32cd32"/>
<rect x="729" y="288" width="1" height="53" fill="#32cd32"/>
<rect x="728" y="299" width="3" height="18" fill="#32cd32"/>
<rect x="733" y="310" width="1" height="11" fill="#ff0000"/>
<rect x="732" y="311" width="3" height="6" fill="#ff0000"/>
<rect x="737" y="290" width="1" height="25" fill="#ff0000"/>
<rect x="736" y="311" width="3" height="4" fill="#ff0000"/>
<rect x="741" y="302" width="1" height="33" fill="#32cd32"/>
<rect x="740" y="311" width="3" height="18" fill="#32cd32"/>
<rect x="745" y="309" width="1" height="33" fill="#32cd32"/>
<rect x="744" y="328" width="3" height="11" fill="#32cd32"/>
<rect x="749" y="290" width="1" height="54" fill="#ff0000"/>
<rect x="748" y="293" width="3" height="46" fill="#ff0000"/>
<rect x="753" y="260" width="1" height="48" fill="#ff0000"/>
<rect x="752" y="264" width="3" height="30" fill="#ff0000"/>
<rect x="757" y="257" width="1" height="10" fill="#ff0000"/>
<rect x="756" y="261" width="3" height="4" fill="#ff0000"/>
<rect x="761" y="228" width="1" height="32" fill="#ff0000"/>
<rect x="760" y="238" width="3" height="17" fill="#ff0000"/>
<rect x="765" y="228" width="1" height="29" fill="#ff0000"/>
<rect x="764" y="237" width="3" height="2" fill="#ff0000"/>
<rect x="769" y="230" width="1" height="56" fill="#32cd32"/>
<rect x="768" y="237" width="3" height="47" fill="#32cd32"/>
<rect x="773" y="251" width="1" height="43" fill="#ff0000"/>
<rect x="772" y="273" width="3" height="11" fill="#ff0000"/>
<rect x="777" y="256" width="1" height="29" fill="#32cd32"/>
<rect x="776" y="274" width="3" height="3" fill="#32cd32"/>
<rect x="781" y="268" width="1" height="13" fill="#ff0000"/>
<rect x="780" y="271" width="3" height="6" fill="#ff0000"/>
<rect x="785" y="262" width="1" height="30" fill="#32cd32"/>
<rect x="784" y="277" width="3" height="5" fill="#32cd32"/>
<rect x="789" y="269" width="1" height="22" fill="#ff0000"/>
<rect x="788" y="272" width="3" height="9" fill="#ff0000"/>
<rect x="793" y="246" width="1" height="27" fill="#ff0000"/>
<rect x="792" y="252" width="3" height="20" fill="#ff0000"/>
<rect x="797" y="243" width="1" height="63" fill="#32cd32"/>
<rect x="796" y="252" width="3" height="42" fill="#32cd32"/>
<rect x="801" y="276" width="1" height="61" fill="#32cd32"/>
<rect x="800" y="294" width="3" height="36" fill="#32cd32"/>
<rect x="805" y="328" width="1" height="9" fill="#32cd32"/>
<rect x="804" y="330" width="3" height="1" fill="#32cd32"/>
<rect x="809" y="281" width="1" height="35" fill="#ff0000"/>
<rect x="808" y="296" width="3" height="16" fill="#ff0000"/>
<rect x="813" y="280" width="1" height="32" fill="#32cd32"/>
<rect x="812" y="296" width="3" height="10" fill="#32cd32"/>
<rect x="817" y="260" width="1" height="50" fill="#ff0000"/>
<rect x="816" y="279" width="3" height="27" fill="#ff0000"/>
<rect x="821" y="277" width="1" height="25" fill="#32cd32"/>
<rect x="820" y="279" width="3" height="17" fill="#32cd32"/>
<rect x="825" y="286" width="1" height="27" fill="#32cd32"/>
<rect x="824" y="296" width="3" height="7" fill="#32cd32"/>
<rect x="829" y="297" width="1" height="12" fill="#32cd32"/>
<rect x="828" y="303" width="3" height="6" fill="#32cd32"/>
<rect x="833" y="287" width="1" height="38" fill="#ff0000"/>
<rect x="832" y="287" width="3" height="19" fill="#ff0000"/>
<rect x="837" y="271" width="1" height="29" fill="#32cd32"/>
<rect x="836" y="287" width="3" height="9" fill="#32cd32"/>
<rect x="841" y="284" width="1" height="55" fill="#32cd32"/>
<rect x="840" y="293" width="3" height="42" fill="#32cd32"/>
<rect x="845" y="315" width="1" height="29" fill="#ff0000"/>
<rect x="844" y="324" width="3" height="11" fill="#ff0000"/>
<rect x="849" y="318" width="1" height="30" fill="#ff0000"/>
<rect x="848" y="322" width="3" height="3" fill="#ff0000"/>
<rect x="853" y="322" width="1" height="5" fill="#32cd32"/>
<rect x="852" y="322" width="3" height="5" fill="#32cd32"/>
<rect x="857" y="317" width="1" height="26" fill="#32cd32"/>
<rect x="856" y="329" width="3" height="13" fill="#32cd32"/>
<rect x="861" y="332" width="1" height="107" fill="#32cd32"/>
<rect x="860" y="341" width="3" height="93" fill="#32cd32"/>
<rect x="865" y="398" width="1" height="47" fill="#ff0000"/>
<rect x="864" y="402" width="3" height="32" fill="#ff0000"/>
<rect x="869" y="388" width="1" height="31" fill="#32cd32"/>
<rect x="868" y="402" width="3" height="8" fill="#32cd32"/>
<rect x="873" y="391" width="1" height="39" fill="#32cd32"/>
<rect x="872" y="409" width="3" height="6" fill="#32cd32"/>
<rect x="877" y="410" width="1" height="11" fill="#32cd32"/>
<rect x="876" y="413" width="3" height="4" fill="#32cd32"/>
<rect x="881" y="409" width="1" height="25" fill="#32cd32"/>
<rect x="880" y="419" width="3" height="1" fill="#32cd32"/>
<rect x="885" y="413" width="1" height="20" fill="#32cd32"/>
<rect x="884" y="419" width="3" height="2" fill="#32cd32"/>
<rect x="889" y="394" width="1" height="39" fill="#ff0000"/>
<rect x="888" y="403" width="3" height="18" fill="#ff0000"/>
<rect x="893" y="380" width="1" height="31" fill="#32cd32"/>
<rect x="892" y="403" width="3" height="5" fill="#32cd32"/>
<rect x="897" y="374" width="1" height="47" fill="#ff0000"/>
<rect x="896" y="375" width="3" height="33" fill="#ff0000"/>
<rect x="901" y="369" width="1" height="8" fill="#ff0000"/>
<rect x="900" y="373" width="3" height="4" fill="#ff0000"/>
<rect x="905" y="371" width="1" height="31" fill="#32cd32"/>
<rect x="904" y="374" width="3" height="24" fill="#32cd32"/>
<rect x="909" y="386" width="1" height="17" fill="#ff0000"/>
<rect x="908" y="387" width="3" height="11" fill="#ff0000"/>
<rect x="913" y="376" width="1" height="25" fill="#ff0000"/>
<rect x="912" y="383" width="3" height="5" fill="#ff0000"/>
<rect x="917" y="377" width="1" height="28" fill="#32cd32"/>
<rect x="916" y="383" width="3" height="9" fill="#32cd32"/>
<rect x="921" y="374" width="1" height="24" fill="#32cd32"/>
<rect x="920" y="391" width="3" height="1" fill="#32cd32"/>
<rect x="925" y="390" width="1" height="9" fill="#ff0000"/>
<rect x="924" y="391" width="3" height="1" fill="#ff0000"/>
</g>
<rect x="5" y="26" width="224" height="78" fill="#ffffff"/>
<path d="M8 36 L15.2 36 L11.6 31.5 Z" fill="#000"/>
<text x="20.8" y="36.9" font-size="10.2" fill="#000" textLength="65.4" lengthAdjust="spacingAndGlyphs">USDCNH,Daily</text>
<text x="92.2" y="36.9" font-size="10.2" fill="#000" textLength="33" lengthAdjust="spacingAndGlyphs">6.39686</text>
<text x="127.9" y="36.9" font-size="10.2" fill="#000" textLength="33" lengthAdjust="spacingAndGlyphs">6.39755</text>
<text x="164" y="36.9" font-size="10.2" fill="#000" textLength="33" lengthAdjust="spacingAndGlyphs">6.39322</text>
<text x="199.8" y="36.9" font-size="10.2" fill="#000" textLength="33" lengthAdjust="spacingAndGlyphs">6.39689</text>
<rect x="8" y="69" width="109" height="33" fill="#0808b0"/>
<rect x="119" y="69" width="108" height="33" fill="#0808b0"/>
<rect x="9" y="70" width="107" height="31" fill="url(#gPan)"/>
<rect x="120" y="70" width="106" height="31" fill="url(#gPan)"/>
<rect x="8" y="45" width="52" height="25" fill="url(#gTab)"/>
<rect x="175" y="45" width="52" height="25" fill="url(#gTab)"/>
<rect x="8" y="45" width="52" height="1" fill="#2020cc"/>
<rect x="8" y="45" width="1" height="25" fill="#2020cc"/>
<rect x="59" y="45" width="1" height="24" fill="#2020cc"/>
<rect x="175" y="45" width="52" height="1" fill="#2020cc"/>
<rect x="175" y="45" width="1" height="25" fill="#2020cc"/>
<rect x="226" y="45" width="1" height="24" fill="#2020cc"/>
<rect x="12" y="69" width="44" height="1" fill="#9a9af8"/>
<rect x="179" y="69" width="44" height="1" fill="#9a9af8"/>
<text x="33.25" y="60.8" font-size="12.2" fill="#ffffff" text-anchor="middle" textLength="25.7" lengthAdjust="spacingAndGlyphs">SELL</text>
<text x="200.3" y="60.8" font-size="12.2" fill="#ffffff" text-anchor="middle" textLength="24.8" lengthAdjust="spacingAndGlyphs">BUY</text>
<rect x="62.5" y="45.5" width="110" height="21" fill="#ffffff" stroke="#b8b8b8" stroke-width="1"/>
<rect x="63.5" y="46.5" width="19" height="19" fill="url(#gBtn)" stroke="#c0c0c0" stroke-width="1"/>
<rect x="152.5" y="46.5" width="19" height="19" fill="url(#gBtn)" stroke="#c0c0c0" stroke-width="1"/>
<path d="M70 54 L76 54 L73 57.5 Z" fill="#5560b8"/>
<path d="M159 57.5 L165 57.5 L162 54 Z" fill="#5560b8"/>
<text x="147.8" y="59.7" font-size="12" fill="#000" text-anchor="end" textLength="23.3" lengthAdjust="spacingAndGlyphs">3.00</text>
<text x="51.7" y="97" font-size="11.8" fill="#ffffff" text-anchor="end" textLength="23.4" lengthAdjust="spacingAndGlyphs" font-weight="bold">6.39</text>
<text x="56" y="97" font-size="35.6" fill="#ffffff" textLength="32.5" lengthAdjust="spacingAndGlyphs">69</text>
<text x="95.5" y="80.8" font-size="11.8" fill="#ffffff" font-weight="bold">2</text>
<text x="161.7" y="97" font-size="11.8" fill="#ffffff" text-anchor="end" textLength="23.4" lengthAdjust="spacingAndGlyphs" font-weight="bold">6.39</text>
<text x="166.6" y="97" font-size="35.6" fill="#ffffff" textLength="35.6" lengthAdjust="spacingAndGlyphs">88</text>
<text x="206.6" y="80.8" font-size="11.8" fill="#ffffff" font-weight="bold">3</text>
<g shape-rendering="crispEdges">
<rect x="1168" y="53" width="2" height="1" fill="#000"/>
<rect x="1168" y="86" width="2" height="1" fill="#000"/>
<rect x="1168" y="119" width="2" height="1" fill="#000"/>
<rect x="1168" y="152" width="2" height="1" fill="#000"/>
<rect x="1168" y="185" width="2" height="1" fill="#000"/>
<rect x="1168" y="218" width="2" height="1" fill="#000"/>
<rect x="1168" y="251" width="2" height="1" fill="#000"/>
<rect x="1168" y="284" width="2" height="1" fill="#000"/>
<rect x="1168" y="317" width="2" height="1" fill="#000"/>
<rect x="1168" y="350" width="2" height="1" fill="#000"/>
<rect x="1168" y="383" width="2" height="1" fill="#000"/>
<rect x="1168" y="416" width="2" height="1" fill="#000"/>
<rect x="1168" y="449" width="2" height="1" fill="#000"/>
<rect x="1168" y="482" width="2" height="1" fill="#000"/>
</g>
<text x="1173" y="57" font-size="10.3" fill="#000" textLength="33" lengthAdjust="spacingAndGlyphs">6.58350</text>
<text x="1173" y="90" font-size="10.3" fill="#000" textLength="33" lengthAdjust="spacingAndGlyphs">6.56550</text>
<text x="1173" y="123" font-size="10.3" fill="#000" textLength="33" lengthAdjust="spacingAndGlyphs">6.54750</text>
<text x="1173" y="156" font-size="10.3" fill="#000" textLength="33" lengthAdjust="spacingAndGlyphs">6.52900</text>
<text x="1173" y="189" font-size="10.3" fill="#000" textLength="33" lengthAdjust="spacingAndGlyphs">6.51100</text>
<text x="1173" y="222" font-size="10.3" fill="#000" textLength="33" lengthAdjust="spacingAndGlyphs">6.49250</text>
<text x="1173" y="255" font-size="10.3" fill="#000" textLength="33" lengthAdjust="spacingAndGlyphs">6.47450</text>
<text x="1173" y="288" font-size="10.3" fill="#000" textLength="33" lengthAdjust="spacingAndGlyphs">6.45600</text>
<text x="1173" y="321" font-size="10.3" fill="#000" textLength="33" lengthAdjust="spacingAndGlyphs">6.43800</text>
<text x="1173" y="354" font-size="10.3" fill="#000" textLength="33" lengthAdjust="spacingAndGlyphs">6.41950</text>
<text x="1173" y="387" font-size="10.3" fill="#000" textLength="33" lengthAdjust="spacingAndGlyphs">6.40150</text>
<text x="1173" y="420" font-size="10.3" fill="#000" textLength="33" lengthAdjust="spacingAndGlyphs">6.38350</text>
<text x="1173" y="453" font-size="10.3" fill="#000" textLength="33" lengthAdjust="spacingAndGlyphs">6.36500</text>
<text x="1173" y="486" font-size="10.3" fill="#000" textLength="33" lengthAdjust="spacingAndGlyphs">6.34700</text>
<rect x="1169" y="386" width="41" height="11" fill="#000"/>
<text x="1173" y="395" font-size="10.3" fill="#ffffff" textLength="33" lengthAdjust="spacingAndGlyphs">6.39689</text>
<rect x="1169" y="45" width="41" height="11" fill="#ff0000"/>
<text x="1173" y="54" font-size="10.3" fill="#ffffff" textLength="33" lengthAdjust="spacingAndGlyphs">6.58514</text>
<rect x="1169" y="170" width="41" height="11" fill="#ff0000"/>
<text x="1173" y="179" font-size="10.3" fill="#ffffff" textLength="33" lengthAdjust="spacingAndGlyphs">6.51605</text>
<rect x="1169" y="288" width="41" height="11" fill="#00ff00"/>
<text x="1173" y="297" font-size="10.3" fill="#ffffff" textLength="33" lengthAdjust="spacingAndGlyphs">6.45060</text>
<rect x="1169" y="379" width="41" height="11" fill="#0000ff"/>
<text x="1173" y="388" font-size="10.3" fill="#ffffff" textLength="33" lengthAdjust="spacingAndGlyphs">6.40042</text>
<rect x="1169" y="470" width="41" height="11" fill="#0000ff"/>
<text x="1173" y="479" font-size="10.3" fill="#ffffff" textLength="33" lengthAdjust="spacingAndGlyphs">6.35025</text>
<g clip-path="url(#cMacd)" shape-rendering="crispEdges">
<rect x="4" y="526" width="3" height="23" fill="#c0c0c0"/>
<rect x="8" y="526" width="3" height="24" fill="#c0c0c0"/>
<rect x="12" y="526" width="3" height="26" fill="#c0c0c0"/>
<rect x="16" y="526" width="3" height="28" fill="#c0c0c0"/>
<rect x="20" y="526" width="3" height="28" fill="#c0c0c0"/>
<rect x="24" y="526" width="3" height="23" fill="#c0c0c0"/>
<rect x="28" y="526" width="3" height="18" fill="#c0c0c0"/>
<rect x="32" y="526" width="3" height="15" fill="#c0c0c0"/>
<rect x="36" y="526" width="3" height="11" fill="#c0c0c0"/>
<rect x="40" y="526" width="3" height="7" fill="#c0c0c0"/>
<rect x="44" y="526" width="3" height="5" fill="#c0c0c0"/>
<rect x="48" y="526" width="3" height="4" fill="#c0c0c0"/>
<rect x="52" y="526" width="3" height="2" fill="#c0c0c0"/>
<rect x="56" y="525" width="3" height="1" fill="#c0c0c0"/>
<rect x="60" y="522" width="3" height="4" fill="#c0c0c0"/>
<rect x="64" y="522" width="3" height="4" fill="#c0c0c0"/>
<rect x="68" y="521" width="3" height="5" fill="#c0c0c0"/>
<rect x="72" y="520" width="3" height="6" fill="#c0c0c0"/>
<rect x="76" y="519" width="3" height="7" fill="#c0c0c0"/>
<rect x="80" y="514" width="3" height="12" fill="#c0c0c0"/>
<rect x="84" y="510" width="3" height="16" fill="#c0c0c0"/>
<rect x="88" y="503" width="3" height="23" fill="#c0c0c0"/>
<rect x="92" y="501" width="3" height="25" fill="#c0c0c0"/>
<rect x="96" y="501" width="3" height="25" fill="#c0c0c0"/>
<rect x="100" y="504" width="3" height="22" fill="#c0c0c0"/>
<rect x="104" y="505" width="3" height="21" fill="#c0c0c0"/>
<rect x="108" y="506" width="3" height="20" fill="#c0c0c0"/>
<rect x="112" y="508" width="3" height="18" fill="#c0c0c0"/>
<rect x="116" y="509" width="3" height="17" fill="#c0c0c0"/>
<rect x="120" y="510" width="3" height="16" fill="#c0c0c0"/>
<rect x="124" y="510" width="3" height="16" fill="#c0c0c0"/>
<rect x="128" y="510" width="3" height="16" fill="#c0c0c0"/>
<rect x="132" y="511" width="3" height="15" fill="#c0c0c0"/>
<rect x="136" y="512" width="3" height="14" fill="#c0c0c0"/>
<rect x="140" y="512" width="3" height="14" fill="#c0c0c0"/>
<rect x="144" y="510" width="3" height="16" fill="#c0c0c0"/>
<rect x="148" y="506" width="3" height="20" fill="#c0c0c0"/>
<rect x="152" y="504" width="3" height="22" fill="#c0c0c0"/>
<rect x="156" y="503" width="3" height="23" fill="#c0c0c0"/>
<rect x="160" y="500" width="3" height="26" fill="#c0c0c0"/>
<rect x="164" y="496" width="3" height="30" fill="#c0c0c0"/>
<rect x="168" y="495" width="3" height="31" fill="#c0c0c0"/>
<rect x="172" y="493" width="3" height="33" fill="#c0c0c0"/>
<rect x="176" y="492" width="3" height="34" fill="#c0c0c0"/>
<rect x="180" y="492" width="3" height="34" fill="#c0c0c0"/>
<rect x="184" y="494" width="3" height="32" fill="#c0c0c0"/>
<rect x="188" y="498" width="3" height="28" fill="#c0c0c0"/>
<rect x="192" y="501" width="3" height="25" fill="#c0c0c0"/>
<rect x="196" y="502" width="3" height="24" fill="#c0c0c0"/>
<rect x="200" y="503" width="3" height="23" fill="#c0c0c0"/>
<rect x="204" y="504" width="3" height="22" fill="#c0c0c0"/>
<rect x="208" y="506" width="3" height="20" fill="#c0c0c0"/>
<rect x="212" y="508" width="3" height="18" fill="#c0c0c0"/>
<rect x="216" y="513" width="3" height="13" fill="#c0c0c0"/>
<rect x="220" y="516" width="3" height="10" fill="#c0c0c0"/>
<rect x="224" y="519" width="3" height="7" fill="#c0c0c0"/>
<rect x="228" y="522" width="3" height="4" fill="#c0c0c0"/>
<rect x="232" y="525" width="3" height="1" fill="#c0c0c0"/>
<rect x="236" y="526" width="3" height="5" fill="#c0c0c0"/>
<rect x="240" y="526" width="3" height="9" fill="#c0c0c0"/>
<rect x="244" y="526" width="3" height="12" fill="#c0c0c0"/>
<rect x="248" y="526" width="3" height="14" fill="#c0c0c0"/>
<rect x="252" y="526" width="3" height="17" fill="#c0c0c0"/>
<rect x="256" y="526" width="3" height="19" fill="#c0c0c0"/>
<rect x="260" y="526" width="3" height="21" fill="#c0c0c0"/>
<rect x="264" y="526" width="3" height="23" fill="#c0c0c0"/>
<rect x="268" y="526" width="3" height="24" fill="#c0c0c0"/>
<rect x="272" y="526" width="3" height="26" fill="#c0c0c0"/>
<rect x="276" y="526" width="3" height="26" fill="#c0c0c0"/>
<rect x="280" y="526" width="3" height="26" fill="#c0c0c0"/>
<rect x="284" y="526" width="3" height="24" fill="#c0c0c0"/>
<rect x="288" y="526" width="3" height="24" fill="#c0c0c0"/>
<rect x="292" y="526" width="3" height="24" fill="#c0c0c0"/>
<rect x="296" y="526" width="3" height="29" fill="#c0c0c0"/>
<rect x="300" y="526" width="3" height="33" fill="#c0c0c0"/>
<rect x="304" y="526" width="3" height="36" fill="#c0c0c0"/>
<rect x="308" y="526" width="3" height="37" fill="#c0c0c0"/>
<rect x="312" y="526" width="3" height="34" fill="#c0c0c0"/>
<rect x="316" y="526" width="3" height="30" fill="#c0c0c0"/>
<rect x="320" y="526" width="3" height="29" fill="#c0c0c0"/>
<rect x="324" y="526" width="3" height="29" fill="#c0c0c0"/>
<rect x="328" y="526" width="3" height="28" fill="#c0c0c0"/>
<rect x="332" y="526" width="3" height="28" fill="#c0c0c0"/>
<rect x="336" y="526" width="3" height="29" fill="#c0c0c0"/>
<rect x="340" y="526" width="3" height="27" fill="#c0c0c0"/>
<rect x="344" y="526" width="3" height="25" fill="#c0c0c0"/>
<rect x="348" y="526" width="3" height="24" fill="#c0c0c0"/>
<rect x="352" y="526" width="3" height="24" fill="#c0c0c0"/>
<rect x="356" y="526" width="3" height="26" fill="#c0c0c0"/>
<rect x="360" y="526" width="3" height="30" fill="#c0c0c0"/>
<rect x="364" y="526" width="3" height="34" fill="#c0c0c0"/>
<rect x="368" y="526" width="3" height="38" fill="#c0c0c0"/>
<rect x="372" y="526" width="3" height="41" fill="#c0c0c0"/>
<rect x="376" y="526" width="3" height="41" fill="#c0c0c0"/>
<rect x="380" y="526" width="3" height="40" fill="#c0c0c0"/>
<rect x="384" y="526" width="3" height="39" fill="#c0c0c0"/>
<rect x="388" y="526" width="3" height="37" fill="#c0c0c0"/>
<rect x="392" y="526" width="3" height="34" fill="#c0c0c0"/>
<rect x="396" y="526" width="3" height="32" fill="#c0c0c0"/>
<rect x="400" y="526" width="3" height="30" fill="#c0c0c0"/>
<rect x="404" y="526" width="3" height="27" fill="#c0c0c0"/>
<rect x="408" y="526" width="3" height="25" fill="#c0c0c0"/>
<rect x="412" y="526" width="3" height="24" fill="#c0c0c0"/>
<rect x="416" y="526" width="3" height="21" fill="#c0c0c0"/>
<rect x="420" y="526" width="3" height="19" fill="#c0c0c0"/>
<rect x="424" y="526" width="3" height="17" fill="#c0c0c0"/>
<rect x="428" y="526" width="3" height="14" fill="#c0c0c0"/>
<rect x="432" y="526" width="3" height="12" fill="#c0c0c0"/>
<rect x="436" y="526" width="3" height="5" fill="#c0c0c0"/>
<rect x="440" y="523" width="3" height="3" fill="#c0c0c0"/>
<rect x="444" y="519" width="3" height="7" fill="#c0c0c0"/>
<rect x="448" y="513" width="3" height="13" fill="#c0c0c0"/>
<rect x="452" y="507" width="3" height="19" fill="#c0c0c0"/>
<rect x="456" y="504" width="3" height="22" fill="#c0c0c0"/>
<rect x="460" y="502" width="3" height="24" fill="#c0c0c0"/>
<rect x="464" y="502" width="3" height="24" fill="#c0c0c0"/>
<rect x="468" y="503" width="3" height="23" fill="#c0c0c0"/>
<rect x="472" y="504" width="3" height="22" fill="#c0c0c0"/>
<rect x="476" y="504" width="3" height="22" fill="#c0c0c0"/>
<rect x="480" y="504" width="3" height="22" fill="#c0c0c0"/>
<rect x="484" y="504" width="3" height="22" fill="#c0c0c0"/>
<rect x="488" y="503" width="3" height="23" fill="#c0c0c0"/>
<rect x="492" y="504" width="3" height="22" fill="#c0c0c0"/>
<rect x="496" y="504" width="3" height="22" fill="#c0c0c0"/>
<rect x="500" y="504" width="3" height="22" fill="#c0c0c0"/>
<rect x="504" y="504" width="3" height="22" fill="#c0c0c0"/>
<rect x="508" y="503" width="3" height="23" fill="#c0c0c0"/>
<rect x="512" y="503" width="3" height="23" fill="#c0c0c0"/>
<rect x="516" y="504" width="3" height="22" fill="#c0c0c0"/>
<rect x="520" y="506" width="3" height="20" fill="#c0c0c0"/>
<rect x="524" y="508" width="3" height="18" fill="#c0c0c0"/>
<rect x="528" y="511" width="3" height="15" fill="#c0c0c0"/>
<rect x="532" y="513" width="3" height="13" fill="#c0c0c0"/>
<rect x="536" y="513" width="3" height="13" fill="#c0c0c0"/>
<rect x="540" y="513" width="3" height="13" fill="#c0c0c0"/>
<rect x="544" y="512" width="3" height="14" fill="#c0c0c0"/>
<rect x="548" y="512" width="3" height="14" fill="#c0c0c0"/>
<rect x="552" y="515" width="3" height="11" fill="#c0c0c0"/>
<rect x="556" y="515" width="3" height="11" fill="#c0c0c0"/>
<rect x="560" y="514" width="3" height="12" fill="#c0c0c0"/>
<rect x="564" y="515" width="3" height="11" fill="#c0c0c0"/>
<rect x="568" y="515" width="3" height="11" fill="#c0c0c0"/>
<rect x="572" y="511" width="3" height="15" fill="#c0c0c0"/>
<rect x="576" y="510" width="3" height="16" fill="#c0c0c0"/>
<rect x="580" y="514" width="3" height="12" fill="#c0c0c0"/>
<rect x="584" y="518" width="3" height="8" fill="#c0c0c0"/>
<rect x="588" y="520" width="3" height="6" fill="#c0c0c0"/>
<rect x="592" y="522" width="3" height="4" fill="#c0c0c0"/>
<rect x="596" y="524" width="3" height="2" fill="#c0c0c0"/>
<rect x="600" y="525" width="3" height="1" fill="#c0c0c0"/>
<rect x="604" y="526" width="3" height="2" fill="#c0c0c0"/>
<rect x="608" y="525" width="3" height="1" fill="#c0c0c0"/>
<rect x="612" y="524" width="3" height="2" fill="#c0c0c0"/>
<rect x="616" y="523" width="3" height="3" fill="#c0c0c0"/>
<rect x="620" y="522" width="3" height="4" fill="#c0c0c0"/>
<rect x="624" y="522" width="3" height="4" fill="#c0c0c0"/>
<rect x="628" y="523" width="3" height="3" fill="#c0c0c0"/>
<rect x="632" y="523" width="3" height="3" fill="#c0c0c0"/>
<rect x="636" y="523" width="3" height="3" fill="#c0c0c0"/>
<rect x="640" y="522" width="3" height="4" fill="#c0c0c0"/>
<rect x="644" y="521" width="3" height="5" fill="#c0c0c0"/>
<rect x="648" y="521" width="3" height="5" fill="#c0c0c0"/>
<rect x="652" y="519" width="3" height="7" fill="#c0c0c0"/>
<rect x="656" y="517" width="3" height="9" fill="#c0c0c0"/>
<rect x="660" y="516" width="3" height="10" fill="#c0c0c0"/>
<rect x="664" y="518" width="3" height="8" fill="#c0c0c0"/>
<rect x="668" y="521" width="3" height="5" fill="#c0c0c0"/>
<rect x="672" y="522" width="3" height="4" fill="#c0c0c0"/>
<rect x="676" y="523" width="3" height="3" fill="#c0c0c0"/>
<rect x="680" y="525" width="3" height="1" fill="#c0c0c0"/>
<rect x="684" y="526" width="3" height="2" fill="#c0c0c0"/>
<rect x="688" y="526" width="3" height="4" fill="#c0c0c0"/>
<rect x="692" y="526" width="3" height="6" fill="#c0c0c0"/>
<rect x="696" y="526" width="3" height="9" fill="#c0c0c0"/>
<rect x="700" y="526" width="3" height="10" fill="#c0c0c0"/>
<rect x="704" y="526" width="3" height="12" fill="#c0c0c0"/>
<rect x="708" y="526" width="3" height="15" fill="#c0c0c0"/>
<rect x="712" y="526" width="3" height="14" fill="#c0c0c0"/>
<rect x="716" y="526" width="3" height="12" fill="#c0c0c0"/>
<rect x="720" y="526" width="3" height="11" fill="#c0c0c0"/>
<rect x="724" y="526" width="3" height="11" fill="#c0c0c0"/>
<rect x="728" y="526" width="3" height="12" fill="#c0c0c0"/>
<rect x="732" y="526" width="3" height="13" fill="#c0c0c0"/>
<rect x="736" y="526" width="3" height="13" fill="#c0c0c0"/>
<rect x="740" y="526" width="3" height="14" fill="#c0c0c0"/>
<rect x="744" y="526" width="3" height="16" fill="#c0c0c0"/>
<rect x="748" y="526" width="3" height="14" fill="#c0c0c0"/>
<rect x="752" y="526" width="3" height="11" fill="#c0c0c0"/>
<rect x="756" y="526" width="3" height="7" fill="#c0c0c0"/>
<rect x="760" y="526" width="3" height="3" fill="#c0c0c0"/>
<rect x="764" y="525" width="3" height="1" fill="#c0c0c0"/>
<rect x="768" y="525" width="3" height="1" fill="#c0c0c0"/>
<rect x="772" y="525" width="3" height="1" fill="#c0c0c0"/>
<rect x="776" y="525" width="3" height="1" fill="#c0c0c0"/>
<rect x="780" y="525" width="3" height="1" fill="#c0c0c0"/>
<rect x="784" y="525" width="3" height="1" fill="#c0c0c0"/>
<rect x="788" y="525" width="3" height="1" fill="#c0c0c0"/>
<rect x="792" y="523" width="3" height="3" fill="#c0c0c0"/>
<rect x="796" y="525" width="3" height="1" fill="#c0c0c0"/>
<rect x="800" y="526" width="3" height="4" fill="#c0c0c0"/>
<rect x="804" y="526" width="3" height="6" fill="#c0c0c0"/>
<rect x="808" y="526" width="3" height="6" fill="#c0c0c0"/>
<rect x="812" y="526" width="3" height="7" fill="#c0c0c0"/>
<rect x="816" y="526" width="3" height="5" fill="#c0c0c0"/>
<rect x="820" y="526" width="3" height="4" fill="#c0c0c0"/>
<rect x="824" y="526" width="3" height="6" fill="#c0c0c0"/>
<rect x="828" y="526" width="3" height="4" fill="#c0c0c0"/>
<rect x="832" y="526" width="3" height="5" fill="#c0c0c0"/>
<rect x="836" y="526" width="3" height="6" fill="#c0c0c0"/>
<rect x="840" y="526" width="3" height="7" fill="#c0c0c0"/>
<rect x="844" y="526" width="3" height="8" fill="#c0c0c0"/>
<rect x="848" y="526" width="3" height="9" fill="#c0c0c0"/>
<rect x="852" y="526" width="3" height="10" fill="#c0c0c0"/>
<rect x="856" y="526" width="3" height="11" fill="#c0c0c0"/>
<rect x="860" y="526" width="3" height="18" fill="#c0c0c0"/>
<rect x="864" y="526" width="3" height="21" fill="#c0c0c0"/>
<rect x="868" y="526" width="3" height="24" fill="#c0c0c0"/>
<rect x="872" y="526" width="3" height="26" fill="#c0c0c0"/>
<rect x="876" y="526" width="3" height="28" fill="#c0c0c0"/>
<rect x="880" y="526" width="3" height="29" fill="#c0c0c0"/>
<rect x="884" y="526" width="3" height="30" fill="#c0c0c0"/>
<rect x="888" y="526" width="3" height="29" fill="#c0c0c0"/>
<rect x="892" y="526" width="3" height="28" fill="#c0c0c0"/>
<rect x="896" y="526" width="3" height="26" fill="#c0c0c0"/>
<rect x="900" y="526" width="3" height="24" fill="#c0c0c0"/>
<rect x="904" y="526" width="3" height="22" fill="#c0c0c0"/>
<rect x="908" y="526" width="3" height="21" fill="#c0c0c0"/>
<rect x="912" y="526" width="3" height="19" fill="#c0c0c0"/>
<rect x="916" y="526" width="3" height="17" fill="#c0c0c0"/>
<rect x="920" y="526" width="3" height="16" fill="#c0c0c0"/>
<rect x="924" y="526" width="3" height="15" fill="#c0c0c0"/>
</g>
<path d="M5 541h1v1h-1zM6 541h1v1h-1zM7 542h1v1h-1zM8 542h1v1h-1zM9 543h1v1h-1zM10 543h1v1h-1zM11 543h1v1h-1zM12 544h1v1h-1zM13 544h1v1h-1zM14 545h1v1h-1zM15 545h1v1h-1zM16 545h1v1h-1zM17 546h1v1h-1zM18 546h1v1h-1zM19 546h1v1h-1zM20 547h1v1h-1zM21 547h1v1h-1zM22 547h1v1h-1zM23 547h1v1h-1zM24 548h1v1h-1zM25 548h1v1h-1zM26 548h1v1h-1zM27 549h1v1h-1zM28 549h1v1h-1zM29 549h1v1h-1zM30 548h1v1h-1zM31 548h1v1h-1zM32 548h1v1h-1zM33 547h1v1h-1zM34 547h1v1h-1zM35 547h1v1h-1zM36 547h1v1h-1zM37 546h1v1h-1zM38 546h1v1h-1zM39 545h1v1h-1zM40 545h1v1h-1zM41 544h1v1h-1zM42 544h1v1h-1zM43 543h1v1h-1zM44 542h1v1h-1zM45 542h1v1h-1zM46 541h1v1h-1zM47 540h1v1h-1zM48 540h1v1h-1zM49 539h1v1h-1zM50 539h1v1h-1zM51 538h1v1h-1zM52 537h1v1h-1zM53 537h1v1h-1zM54 536h1v1h-1zM55 535h1v1h-1zM56 535h1v1h-1zM57 534h1v1h-1zM58 533h1v1h-1zM59 532h1v1h-1zM60 532h1v1h-1zM61 531h1v1h-1zM62 530h1v1h-1zM63 530h1v1h-1zM64 529h1v1h-1zM65 529h1v1h-1zM66 528h1v1h-1zM67 528h1v1h-1zM68 527h1v1h-1zM69 527h1v1h-1zM70 526h1v1h-1zM71 526h1v1h-1zM72 526h1v1h-1zM73 525h1v1h-1zM74 525h1v1h-1zM75 524h1v1h-1zM76 524h1v1h-1zM77 523h1v1h-1zM78 523h1v1h-1zM79 522h1v1h-1zM80 522h1v1h-1zM81 521h1v1h-1zM82 520h1v1h-1zM83 520h1v1h-1zM84 519h1v1h-1zM85 518h1v1h-1zM86 518h1v1h-1zM87 517h1v1h-1zM88 517h1v1h-1zM89 516h1v1h-1zM90 515h1v1h-1zM91 515h1v1h-1zM92 514h1v1h-1zM93 514h1v1h-1zM94 513h1v1h-1zM95 513h1v1h-1zM96 512h1v1h-1zM97 512h1v1h-1zM98 511h1v1h-1zM99 511h1v1h-1zM100 510h1v1h-1zM101 510h1v1h-1zM102 509h1v1h-1zM103 509h1v1h-1zM104 508h1v1h-1zM105 508h1v1h-1zM106 508h1v1h-1zM107 508h1v1h-1zM108 507h1v1h-1zM109 507h1v1h-1zM110 507h1v1h-1zM111 507h1v1h-1zM112 506h1v1h-1zM113 506h1v1h-1zM114 506h1v1h-1zM115 506h1v1h-1zM116 505h1v1h-1zM117 505h1v1h-1zM118 505h1v1h-1zM119 505h1v1h-1zM120 506h1v1h-1zM121 506h1v1h-1zM122 506h1v1h-1zM123 506h1v1h-1zM124 506h1v1h-1zM125 507h1v1h-1zM126 507h1v1h-1zM127 507h1v1h-1zM128 507h1v1h-1zM129 507h1v1h-1zM130 507h1v1h-1zM131 508h1v1h-1zM132 508h1v1h-1zM133 508h1v1h-1zM134 508h1v1h-1zM135 508h1v1h-1zM136 508h1v1h-1zM137 509h1v1h-1zM138 509h1v1h-1zM139 509h1v1h-1zM140 509h1v1h-1zM141 509h1v1h-1zM142 509h1v1h-1zM143 510h1v1h-1zM144 510h1v1h-1zM145 510h1v1h-1zM146 510h1v1h-1zM147 510h1v1h-1zM148 509h1v1h-1zM149 509h1v1h-1zM150 509h1v1h-1zM151 509h1v1h-1zM152 508h1v1h-1zM153 508h1v1h-1zM154 508h1v1h-1zM155 508h1v1h-1zM156 507h1v1h-1zM157 507h1v1h-1zM158 507h1v1h-1zM159 507h1v1h-1zM160 506h1v1h-1zM161 506h1v1h-1zM162 505h1v1h-1zM163 505h1v1h-1zM164 505h1v1h-1zM165 504h1v1h-1zM166 504h1v1h-1zM167 504h1v1h-1zM168 503h1v1h-1zM169 503h1v1h-1zM170 502h1v1h-1zM171 502h1v1h-1zM172 502h1v1h-1zM173 501h1v1h-1zM174 501h1v1h-1zM175 501h1v1h-1zM176 500h1v1h-1zM177 500h1v1h-1zM178 499h1v1h-1zM179 499h1v1h-1zM180 498h1v1h-1zM181 498h1v1h-1zM182 498h1v1h-1zM183 497h1v1h-1zM184 497h1v1h-1zM185 496h1v1h-1zM186 496h1v1h-1zM187 496h1v1h-1zM188 496h1v1h-1zM189 496h1v1h-1zM190 496h1v1h-1zM191 496h1v1h-1zM192 496h1v1h-1zM193 496h1v1h-1zM194 496h1v1h-1zM195 496h1v1h-1zM196 496h1v1h-1zM197 496h1v1h-1zM198 496h1v1h-1zM199 496h1v1h-1zM200 496h1v1h-1zM201 497h1v1h-1zM202 497h1v1h-1zM203 498h1v1h-1zM204 498h1v1h-1zM205 498h1v1h-1zM206 499h1v1h-1zM207 499h1v1h-1zM208 499h1v1h-1zM209 500h1v1h-1zM210 500h1v1h-1zM211 501h1v1h-1zM212 501h1v1h-1zM213 502h1v1h-1zM214 502h1v1h-1zM215 503h1v1h-1zM216 503h1v1h-1zM217 504h1v1h-1zM218 504h1v1h-1zM219 505h1v1h-1zM220 505h1v1h-1zM221 506h1v1h-1zM222 506h1v1h-1zM223 507h1v1h-1zM224 507h1v1h-1zM225 508h1v1h-1zM226 509h1v1h-1zM227 509h1v1h-1zM228 510h1v1h-1zM229 510h1v1h-1zM230 511h1v1h-1zM231 512h1v1h-1zM232 512h1v1h-1zM233 513h1v1h-1zM234 514h1v1h-1zM235 514h1v1h-1zM236 515h1v1h-1zM237 515h1v1h-1zM238 516h1v1h-1zM239 517h1v1h-1zM240 518h1v1h-1zM241 519h1v1h-1zM242 520h1v1h-1zM243 521h1v1h-1zM244 522h1v1h-1zM245 522h1v1h-1zM246 523h1v1h-1zM247 524h1v1h-1zM248 525h1v1h-1zM249 526h1v1h-1zM250 527h1v1h-1zM251 528h1v1h-1zM252 529h1v1h-1zM253 530h1v1h-1zM254 530h1v1h-1zM255 531h1v1h-1zM256 532h1v1h-1zM257 533h1v1h-1zM258 534h1v1h-1zM259 535h1v1h-1zM260 535h1v1h-1zM261 536h1v1h-1zM262 537h1v1h-1zM263 538h1v1h-1zM264 539h1v1h-1zM265 539h1v1h-1zM266 540h1v1h-1zM267 540h1v1h-1zM268 541h1v1h-1zM269 542h1v1h-1zM270 542h1v1h-1zM271 543h1v1h-1zM272 544h1v1h-1zM273 544h1v1h-1zM274 545h1v1h-1zM275 545h1v1h-1zM276 546h1v1h-1zM277 546h1v1h-1zM278 546h1v1h-1zM279 546h1v1h-1zM280 547h1v1h-1zM281 547h1v1h-1zM282 547h1v1h-1zM283 547h1v1h-1zM284 547h1v1h-1zM285 547h1v1h-1zM286 548h1v1h-1zM287 548h1v1h-1zM288 548h1v1h-1zM289 548h1v1h-1zM290 548h1v1h-1zM291 549h1v1h-1zM292 549h1v1h-1zM293 549h1v1h-1zM294 549h1v1h-1zM295 550h1v1h-1zM296 550h1v1h-1zM297 550h1v1h-1zM298 550h1v1h-1zM299 551h1v1h-1zM300 551h1v1h-1zM301 551h1v1h-1zM302 552h1v1h-1zM303 552h1v1h-1zM304 552h1v1h-1zM305 553h1v1h-1zM306 553h1v1h-1zM307 553h1v1h-1zM308 553h1v1h-1zM309 554h1v1h-1zM310 554h1v1h-1zM311 554h1v1h-1zM312 554h1v1h-1zM313 555h1v1h-1zM314 555h1v1h-1zM315 555h1v1h-1zM316 555h1v1h-1zM317 555h1v1h-1zM318 556h1v1h-1zM319 556h1v1h-1zM320 556h1v1h-1zM321 556h1v1h-1zM322 556h1v1h-1zM323 557h1v1h-1zM324 557h1v1h-1zM325 557h1v1h-1zM326 557h1v1h-1zM327 557h1v1h-1zM328 557h1v1h-1zM329 557h1v1h-1zM330 557h1v1h-1zM331 557h1v1h-1zM332 557h1v1h-1zM333 557h1v1h-1zM334 557h1v1h-1zM335 557h1v1h-1zM336 557h1v1h-1zM337 557h1v1h-1zM338 557h1v1h-1zM339 557h1v1h-1zM340 556h1v1h-1zM341 556h1v1h-1zM342 555h1v1h-1zM343 555h1v1h-1zM344 555h1v1h-1zM345 554h1v1h-1zM346 554h1v1h-1zM347 553h1v1h-1zM348 553h1v1h-1zM349 553h1v1h-1zM350 553h1v1h-1zM351 553h1v1h-1zM352 553h1v1h-1zM353 552h1v1h-1zM354 552h1v1h-1zM355 552h1v1h-1zM356 552h1v1h-1zM357 552h1v1h-1zM358 552h1v1h-1zM359 552h1v1h-1zM360 552h1v1h-1zM361 552h1v1h-1zM362 553h1v1h-1zM363 553h1v1h-1zM364 553h1v1h-1zM365 553h1v1h-1zM366 553h1v1h-1zM367 553h1v1h-1zM368 554h1v1h-1zM369 554h1v1h-1zM370 554h1v1h-1zM371 554h1v1h-1zM372 555h1v1h-1zM373 555h1v1h-1zM374 556h1v1h-1zM375 556h1v1h-1zM376 557h1v1h-1zM377 557h1v1h-1zM378 558h1v1h-1zM379 558h1v1h-1zM380 559h1v1h-1zM381 559h1v1h-1zM382 559h1v1h-1zM383 560h1v1h-1zM384 560h1v1h-1zM385 560h1v1h-1zM386 561h1v1h-1zM387 561h1v1h-1zM388 561h1v1h-1zM389 562h1v1h-1zM390 562h1v1h-1zM391 562h1v1h-1zM392 562h1v1h-1zM393 562h1v1h-1zM394 562h1v1h-1zM395 562h1v1h-1zM396 562h1v1h-1zM397 562h1v1h-1zM398 562h1v1h-1zM399 562h1v1h-1zM400 562h1v1h-1zM401 562h1v1h-1zM402 562h1v1h-1zM403 561h1v1h-1zM404 561h1v1h-1zM405 560h1v1h-1zM406 560h1v1h-1zM407 559h1v1h-1zM408 559h1v1h-1zM409 558h1v1h-1zM410 558h1v1h-1zM411 557h1v1h-1zM412 557h1v1h-1zM413 556h1v1h-1zM414 556h1v1h-1zM415 555h1v1h-1zM416 555h1v1h-1zM417 554h1v1h-1zM418 553h1v1h-1zM419 553h1v1h-1zM420 552h1v1h-1zM421 552h1v1h-1zM422 551h1v1h-1zM423 550h1v1h-1zM424 550h1v1h-1zM425 549h1v1h-1zM426 549h1v1h-1zM427 548h1v1h-1zM428 548h1v1h-1zM429 547h1v1h-1zM430 547h1v1h-1zM431 546h1v1h-1zM432 546h1v1h-1zM433 545h1v1h-1zM434 545h1v1h-1zM435 544h1v1h-1zM436 543h1v1h-1zM437 543h1v1h-1zM438 542h1v1h-1zM439 541h1v1h-1zM440 540h1v1h-1zM441 540h1v1h-1zM442 539h1v1h-1zM443 538h1v1h-1zM444 538h1v1h-1zM445 537h1v1h-1zM446 536h1v1h-1zM447 535h1v1h-1zM448 534h1v1h-1zM449 533h1v1h-1zM450 532h1v1h-1zM451 530h1v2h-1zM452 529h1v1h-1zM453 528h1v1h-1zM454 527h1v1h-1zM455 526h1v1h-1zM456 525h1v1h-1zM457 524h1v1h-1zM458 523h1v1h-1zM459 522h1v1h-1zM460 521h1v1h-1zM461 519h1v2h-1zM462 518h1v1h-1zM463 517h1v1h-1zM464 516h1v1h-1zM465 515h1v1h-1zM466 514h1v1h-1zM467 513h1v1h-1zM468 512h1v1h-1zM469 512h1v1h-1zM470 511h1v1h-1zM471 510h1v1h-1zM472 509h1v1h-1zM473 508h1v1h-1zM474 508h1v1h-1zM475 507h1v1h-1zM476 506h1v1h-1zM477 506h1v1h-1zM478 506h1v1h-1zM479 505h1v1h-1zM480 505h1v1h-1zM481 505h1v1h-1zM482 505h1v1h-1zM483 504h1v1h-1zM484 504h1v1h-1zM485 504h1v1h-1zM486 504h1v1h-1zM487 503h1v1h-1zM488 503h1v1h-1zM489 503h1v1h-1zM490 503h1v1h-1zM491 503h1v1h-1zM492 503h1v1h-1zM493 503h1v1h-1zM494 503h1v1h-1zM495 503h1v1h-1zM496 503h1v1h-1zM497 504h1v1h-1zM498 504h1v1h-1zM499 504h1v1h-1zM500 504h1v1h-1zM501 504h1v1h-1zM502 504h1v1h-1zM503 504h1v1h-1zM504 504h1v1h-1zM505 504h1v1h-1zM506 504h1v1h-1zM507 504h1v1h-1zM508 504h1v1h-1zM509 504h1v1h-1zM510 504h1v1h-1zM511 504h1v1h-1zM512 504h1v1h-1zM513 504h1v1h-1zM514 504h1v1h-1zM515 504h1v1h-1zM516 504h1v1h-1zM517 504h1v1h-1zM518 504h1v1h-1zM519 504h1v1h-1zM520 504h1v1h-1zM521 504h1v1h-1zM522 504h1v1h-1zM523 504h1v1h-1zM524 505h1v1h-1zM525 505h1v1h-1zM526 505h1v1h-1zM527 505h1v1h-1zM528 506h1v1h-1zM529 506h1v1h-1zM530 506h1v1h-1zM531 506h1v1h-1zM532 506h1v1h-1zM533 506h1v1h-1zM534 507h1v1h-1zM535 507h1v1h-1zM536 507h1v1h-1zM537 507h1v1h-1zM538 507h1v1h-1zM539 507h1v1h-1zM540 508h1v1h-1zM541 508h1v1h-1zM542 508h1v1h-1zM543 508h1v1h-1zM544 508h1v1h-1zM545 508h1v1h-1zM546 509h1v1h-1zM547 509h1v1h-1zM548 509h1v1h-1zM549 509h1v1h-1zM550 510h1v1h-1zM551 510h1v1h-1zM552 510h1v1h-1zM553 510h1v1h-1zM554 511h1v1h-1zM555 511h1v1h-1zM556 511h1v1h-1zM557 511h1v1h-1zM558 512h1v1h-1zM559 512h1v1h-1zM560 512h1v1h-1zM561 513h1v1h-1zM562 513h1v1h-1zM563 513h1v1h-1zM564 513h1v1h-1zM565 514h1v1h-1zM566 514h1v1h-1zM567 514h1v1h-1zM568 514h1v1h-1zM569 514h1v1h-1zM570 514h1v1h-1zM571 514h1v1h-1zM572 514h1v1h-1zM573 514h1v1h-1zM574 514h1v1h-1zM575 514h1v1h-1zM576 514h1v1h-1zM577 514h1v1h-1zM578 514h1v1h-1zM579 514h1v1h-1zM580 514h1v1h-1zM581 514h1v1h-1zM582 514h1v1h-1zM583 514h1v1h-1zM584 514h1v1h-1zM585 515h1v1h-1zM586 515h1v1h-1zM587 515h1v1h-1zM588 515h1v1h-1zM589 515h1v1h-1zM590 515h1v1h-1zM591 516h1v1h-1zM592 516h1v1h-1zM593 516h1v1h-1zM594 516h1v1h-1zM595 516h1v1h-1zM596 517h1v1h-1zM597 517h1v1h-1zM598 517h1v1h-1zM599 518h1v1h-1zM600 518h1v1h-1zM601 518h1v1h-1zM602 519h1v1h-1zM603 519h1v1h-1zM604 519h1v1h-1zM605 519h1v1h-1zM606 520h1v1h-1zM607 520h1v1h-1zM608 520h1v1h-1zM609 521h1v1h-1zM610 521h1v1h-1zM611 521h1v1h-1zM612 522h1v1h-1zM613 522h1v1h-1zM614 522h1v1h-1zM615 522h1v1h-1zM616 523h1v1h-1zM617 523h1v1h-1zM618 523h1v1h-1zM619 523h1v1h-1zM620 523h1v1h-1zM621 523h1v1h-1zM622 523h1v1h-1zM623 523h1v1h-1zM624 524h1v1h-1zM625 524h1v1h-1zM626 524h1v1h-1zM627 524h1v1h-1zM628 524h1v1h-1zM629 524h1v1h-1zM630 524h1v1h-1zM631 524h1v1h-1zM632 524h1v1h-1zM633 524h1v1h-1zM634 524h1v1h-1zM635 524h1v1h-1zM636 524h1v1h-1zM637 523h1v1h-1zM638 523h1v1h-1zM639 523h1v1h-1zM640 523h1v1h-1zM641 523h1v1h-1zM642 523h1v1h-1zM643 523h1v1h-1zM644 523h1v1h-1zM645 523h1v1h-1zM646 523h1v1h-1zM647 523h1v1h-1zM648 523h1v1h-1zM649 523h1v1h-1zM650 522h1v1h-1zM651 522h1v1h-1zM652 522h1v1h-1zM653 522h1v1h-1zM654 522h1v1h-1zM655 522h1v1h-1zM656 522h1v1h-1zM657 522h1v1h-1zM658 522h1v1h-1zM659 521h1v1h-1zM660 521h1v1h-1zM661 521h1v1h-1zM662 521h1v1h-1zM663 521h1v1h-1zM664 520h1v1h-1zM665 520h1v1h-1zM666 520h1v1h-1zM667 520h1v1h-1zM668 520h1v1h-1zM669 520h1v1h-1zM670 520h1v1h-1zM671 520h1v1h-1zM672 520h1v1h-1zM673 520h1v1h-1zM674 520h1v1h-1zM675 520h1v1h-1zM676 520h1v1h-1zM677 520h1v1h-1zM678 520h1v1h-1zM679 520h1v1h-1zM680 520h1v1h-1zM681 520h1v1h-1zM682 520h1v1h-1zM683 521h1v1h-1zM684 521h1v1h-1zM685 521h1v1h-1zM686 521h1v1h-1zM687 522h1v1h-1zM688 522h1v1h-1zM689 522h1v1h-1zM690 522h1v1h-1zM691 523h1v1h-1zM692 523h1v1h-1zM693 524h1v1h-1zM694 524h1v1h-1zM695 525h1v1h-1zM696 525h1v1h-1zM697 526h1v1h-1zM698 526h1v1h-1zM699 527h1v1h-1zM700 527h1v1h-1zM701 528h1v1h-1zM702 528h1v1h-1zM703 529h1v1h-1zM704 529h1v1h-1zM705 530h1v1h-1zM706 530h1v1h-1zM707 531h1v1h-1zM708 531h1v1h-1zM709 532h1v1h-1zM710 532h1v1h-1zM711 533h1v1h-1zM712 533h1v1h-1zM713 533h1v1h-1zM714 534h1v1h-1zM715 534h1v1h-1zM716 534h1v1h-1zM717 535h1v1h-1zM718 535h1v1h-1zM719 535h1v1h-1zM720 535h1v1h-1zM721 536h1v1h-1zM722 536h1v1h-1zM723 536h1v1h-1zM724 536h1v1h-1zM725 537h1v1h-1zM726 537h1v1h-1zM727 537h1v1h-1zM728 537h1v1h-1zM729 537h1v1h-1zM730 537h1v1h-1zM731 538h1v1h-1zM732 538h1v1h-1zM733 538h1v1h-1zM734 538h1v1h-1zM735 538h1v1h-1zM736 538h1v1h-1zM737 538h1v1h-1zM738 538h1v1h-1zM739 539h1v1h-1zM740 539h1v1h-1zM741 539h1v1h-1zM742 539h1v1h-1zM743 539h1v1h-1zM744 539h1v1h-1zM745 539h1v1h-1zM746 539h1v1h-1zM747 539h1v1h-1zM748 539h1v1h-1zM749 539h1v1h-1zM750 539h1v1h-1zM751 539h1v1h-1zM752 538h1v1h-1zM753 538h1v1h-1zM754 538h1v1h-1zM755 538h1v1h-1zM756 538h1v1h-1zM757 538h1v1h-1zM758 538h1v1h-1zM759 538h1v1h-1zM760 537h1v1h-1zM761 537h1v1h-1zM762 537h1v1h-1zM763 536h1v1h-1zM764 536h1v1h-1zM765 535h1v1h-1zM766 535h1v1h-1zM767 535h1v1h-1zM768 534h1v1h-1zM769 534h1v1h-1zM770 534h1v1h-1zM771 533h1v1h-1zM772 533h1v1h-1zM773 532h1v1h-1zM774 532h1v1h-1zM775 532h1v1h-1zM776 531h1v1h-1zM777 531h1v1h-1zM778 530h1v1h-1zM779 530h1v1h-1zM780 530h1v1h-1zM781 529h1v1h-1zM782 529h1v1h-1zM783 528h1v1h-1zM784 528h1v1h-1zM785 528h1v1h-1zM786 527h1v1h-1zM787 527h1v1h-1zM788 526h1v1h-1zM789 526h1v1h-1zM790 526h1v1h-1zM791 526h1v1h-1zM792 526h1v1h-1zM793 526h1v1h-1zM794 526h1v1h-1zM795 526h1v1h-1zM796 525h1v1h-1zM797 525h1v1h-1zM798 525h1v1h-1zM799 525h1v1h-1zM800 525h1v1h-1zM801 525h1v1h-1zM802 525h1v1h-1zM803 525h1v1h-1zM804 525h1v1h-1zM805 526h1v1h-1zM806 526h1v1h-1zM807 526h1v1h-1zM808 526h1v1h-1zM809 526h1v1h-1zM810 527h1v1h-1zM811 527h1v1h-1zM812 527h1v1h-1zM813 527h1v1h-1zM814 527h1v1h-1zM815 528h1v1h-1zM816 528h1v1h-1zM817 528h1v1h-1zM818 528h1v1h-1zM819 528h1v1h-1zM820 529h1v1h-1zM821 529h1v1h-1zM822 529h1v1h-1zM823 529h1v1h-1zM824 529h1v1h-1zM825 530h1v1h-1zM826 530h1v1h-1zM827 530h1v1h-1zM828 530h1v1h-1zM829 530h1v1h-1zM830 530h1v1h-1zM831 531h1v1h-1zM832 531h1v1h-1zM833 531h1v1h-1zM834 531h1v1h-1zM835 531h1v1h-1zM836 531h1v1h-1zM837 531h1v1h-1zM838 531h1v1h-1zM839 531h1v1h-1zM840 531h1v1h-1zM841 531h1v1h-1zM842 531h1v1h-1zM843 531h1v1h-1zM844 531h1v1h-1zM845 531h1v1h-1zM846 531h1v1h-1zM847 531h1v1h-1zM848 531h1v1h-1zM849 531h1v1h-1zM850 531h1v1h-1zM851 532h1v1h-1zM852 532h1v1h-1zM853 532h1v1h-1zM854 532h1v1h-1zM855 532h1v1h-1zM856 532h1v1h-1zM857 532h1v1h-1zM858 533h1v1h-1zM859 533h1v1h-1zM860 534h1v1h-1zM861 534h1v1h-1zM862 535h1v1h-1zM863 535h1v1h-1zM864 536h1v1h-1zM865 536h1v1h-1zM866 537h1v1h-1zM867 538h1v1h-1zM868 538h1v1h-1zM869 539h1v1h-1zM870 539h1v1h-1zM871 540h1v1h-1zM872 540h1v1h-1zM873 541h1v1h-1zM874 541h1v1h-1zM875 542h1v1h-1zM876 542h1v1h-1zM877 543h1v1h-1zM878 543h1v1h-1zM879 544h1v1h-1zM880 544h1v1h-1zM881 545h1v1h-1zM882 546h1v1h-1zM883 546h1v1h-1zM884 547h1v1h-1zM885 547h1v1h-1zM886 548h1v1h-1zM887 549h1v1h-1zM888 549h1v1h-1zM889 550h1v1h-1zM890 550h1v1h-1zM891 551h1v1h-1zM892 551h1v1h-1zM893 552h1v1h-1zM894 552h1v1h-1zM895 552h1v1h-1zM896 552h1v1h-1zM897 552h1v1h-1zM898 552h1v1h-1zM899 552h1v1h-1zM900 552h1v1h-1zM901 552h1v1h-1zM902 552h1v1h-1zM903 552h1v1h-1zM904 552h1v1h-1zM905 552h1v1h-1zM906 551h1v1h-1zM907 551h1v1h-1zM908 551h1v1h-1zM909 551h1v1h-1zM910 550h1v1h-1zM911 550h1v1h-1zM912 550h1v1h-1zM913 550h1v1h-1zM914 549h1v1h-1zM915 549h1v1h-1zM916 548h1v1h-1zM917 548h1v1h-1zM918 548h1v1h-1zM919 547h1v1h-1zM920 547h1v1h-1zM921 547h1v1h-1zM922 546h1v1h-1zM923 546h1v1h-1zM924 545h1v1h-1zM925 545h1v1h-1z" fill="#ff0000" shape-rendering="crispEdges" clip-path="url(#cMacd)"/>
<text x="9.4" y="499.6" font-size="10.2" fill="#000" textLength="65.5" lengthAdjust="spacingAndGlyphs">MACD(12,26,9)</text>
<text x="77.8" y="499.6" font-size="10.2" fill="#000" textLength="40.2" lengthAdjust="spacingAndGlyphs">-0.009628</text>
<text x="122.4" y="499.6" font-size="10.2" fill="#000" textLength="40.2" lengthAdjust="spacingAndGlyphs">-0.013035</text>
<g shape-rendering="crispEdges">
<rect x="1168" y="526" width="2" height="1" fill="#000"/>
<rect x="1168" y="489" width="1" height="1" fill="#000"/>
<rect x="1168" y="570" width="1" height="1" fill="#000"/>
<rect x="1168" y="575" width="1" height="1" fill="#000"/>
<rect x="1168" y="659" width="1" height="1" fill="#000"/>
</g>
<text x="1171.3" y="498" font-size="10.3" fill="#000" textLength="37.5" lengthAdjust="spacingAndGlyphs">0.025108</text>
<text x="1171.3" y="530" font-size="10.3" fill="#000" textLength="17.2" lengthAdjust="spacingAndGlyphs">0.00</text>
<text x="1171.5" y="568" font-size="10.3" fill="#000" textLength="41" lengthAdjust="spacingAndGlyphs">-0.029881</text>
<g shape-rendering="crispEdges">
<line x1="6" y1="600.5" x2="1167" y2="600.5" stroke="#c0c0c0" stroke-width="1" stroke-dasharray="3,3"/>
<line x1="6" y1="635.5" x2="1167" y2="635.5" stroke="#c0c0c0" stroke-width="1" stroke-dasharray="3,3"/>
</g>
<path d="M5 628h1v1h-1zM6 628h1v1h-1zM7 628h1v1h-1zM8 628h1v1h-1zM9 628h1v1h-1zM10 628h1v1h-1zM11 628h1v1h-1zM12 628h1v1h-1zM13 629h1v1h-1zM14 629h1v1h-1zM15 630h1v1h-1zM16 630h1v1h-1zM17 631h1v1h-1zM18 629h1v2h-1zM19 628h1v1h-1zM20 626h1v2h-1zM21 625h1v1h-1zM22 623h1v2h-1zM23 622h1v1h-1zM24 620h1v2h-1zM25 619h1v1h-1zM26 617h1v2h-1zM27 616h1v1h-1zM28 614h1v2h-1zM29 613h1v1h-1zM30 614h1v1h-1zM31 615h1v1h-1zM32 616h1v1h-1zM33 617h1v1h-1zM34 616h1v1h-1zM35 616h1v1h-1zM36 615h1v1h-1zM37 615h1v1h-1zM38 614h1v1h-1zM39 614h1v1h-1zM40 613h1v1h-1zM41 613h1v1h-1zM42 614h1v1h-1zM43 614h1v1h-1zM44 615h1v1h-1zM45 616h1v1h-1zM46 616h1v1h-1zM47 617h1v1h-1zM48 617h1v1h-1zM49 618h1v1h-1zM50 617h1v1h-1zM51 617h1v1h-1zM52 616h1v1h-1zM53 616h1v1h-1zM54 615h1v1h-1zM55 615h1v1h-1zM56 614h1v1h-1zM57 613h1v1h-1zM58 612h1v1h-1zM59 612h1v1h-1zM60 611h1v1h-1zM61 610h1v1h-1zM62 611h1v1h-1zM63 612h1v1h-1zM64 613h1v2h-1zM65 615h1v1h-1zM66 616h1v1h-1zM67 615h1v1h-1zM68 614h1v1h-1zM69 613h1v1h-1zM70 613h1v1h-1zM71 614h1v1h-1zM72 614h1v1h-1zM73 615h1v1h-1zM74 615h1v1h-1zM75 614h1v1h-1zM76 614h1v1h-1zM77 612h1v2h-1zM78 610h1v2h-1zM79 608h1v2h-1zM80 606h1v2h-1zM81 605h1v1h-1zM82 605h1v1h-1zM83 606h1v1h-1zM84 606h1v1h-1zM85 606h1v1h-1zM86 605h1v1h-1zM87 604h1v1h-1zM88 603h1v1h-1zM89 602h1v1h-1zM90 603h1v2h-1zM91 605h1v1h-1zM92 606h1v1h-1zM93 607h1v2h-1zM94 609h1v1h-1zM95 609h1v1h-1zM96 610h1v1h-1zM97 610h1v1h-1zM98 611h1v2h-1zM99 613h1v1h-1zM100 614h1v2h-1zM101 616h1v1h-1zM102 616h1v1h-1zM103 615h1v1h-1zM104 615h1v1h-1zM105 614h1v1h-1zM106 614h1v1h-1zM107 614h1v1h-1zM108 614h1v1h-1zM109 614h1v1h-1zM110 614h1v1h-1zM111 614h1v1h-1zM112 614h1v1h-1zM113 614h1v1h-1zM114 614h1v1h-1zM115 614h1v1h-1zM116 614h1v1h-1zM117 614h1v1h-1zM118 613h1v1h-1zM119 613h1v1h-1zM120 612h1v1h-1zM121 612h1v1h-1zM122 612h1v1h-1zM123 613h1v1h-1zM124 613h1v1h-1zM125 613h1v1h-1zM126 613h1v1h-1zM127 612h1v1h-1zM128 612h1v1h-1zM129 612h1v1h-1zM130 612h1v1h-1zM131 613h1v1h-1zM132 613h1v1h-1zM133 613h1v1h-1zM134 613h1v1h-1zM135 614h1v1h-1zM136 614h1v1h-1zM137 614h1v1h-1zM138 614h1v1h-1zM139 613h1v1h-1zM140 613h1v1h-1zM141 612h1v1h-1zM142 611h1v1h-1zM143 611h1v1h-1zM144 610h1v1h-1zM145 609h1v1h-1zM146 607h1v2h-1zM147 606h1v1h-1zM148 604h1v2h-1zM149 603h1v1h-1zM150 604h1v1h-1zM151 605h1v1h-1zM152 605h1v1h-1zM153 606h1v1h-1zM154 606h1v1h-1zM155 606h1v1h-1zM156 606h1v1h-1zM157 606h1v1h-1zM158 604h1v2h-1zM159 603h1v1h-1zM160 601h1v2h-1zM161 600h1v1h-1zM162 600h1v1h-1zM163 600h1v1h-1zM164 600h1v1h-1zM165 600h1v1h-1zM166 601h1v1h-1zM167 602h1v1h-1zM168 603h1v1h-1zM169 604h1v1h-1zM170 604h1v1h-1zM171 603h1v1h-1zM172 603h1v1h-1zM173 602h1v1h-1zM174 602h1v1h-1zM175 602h1v1h-1zM176 602h1v1h-1zM177 602h1v1h-1zM178 603h1v1h-1zM179 603h1v1h-1zM180 603h1v1h-1zM181 603h1v1h-1zM182 604h1v2h-1zM183 606h1v1h-1zM184 607h1v2h-1zM185 609h1v1h-1zM186 610h1v2h-1zM187 612h1v1h-1zM188 613h1v2h-1zM189 615h1v1h-1zM190 614h1v1h-1zM191 614h1v1h-1zM192 613h1v1h-1zM193 612h1v1h-1zM194 612h1v1h-1zM195 611h1v1h-1zM196 611h1v1h-1zM197 610h1v1h-1zM198 610h1v1h-1zM199 611h1v1h-1zM200 611h1v1h-1zM201 611h1v1h-1zM202 611h1v1h-1zM203 610h1v1h-1zM204 610h1v1h-1zM205 611h1v1h-1zM206 611h1v1h-1zM207 612h1v1h-1zM208 613h1v1h-1zM209 613h1v1h-1zM210 614h1v1h-1zM211 615h1v1h-1zM212 615h1v1h-1zM213 616h1v1h-1zM214 617h1v1h-1zM215 618h1v2h-1zM216 620h1v1h-1zM217 621h1v1h-1zM218 621h1v1h-1zM219 621h1v1h-1zM220 621h1v1h-1zM221 621h1v1h-1zM222 621h1v1h-1zM223 621h1v1h-1zM224 622h1v1h-1zM225 622h1v1h-1zM226 622h1v1h-1zM227 621h1v1h-1zM228 621h1v1h-1zM229 621h1v1h-1zM230 622h1v1h-1zM231 623h1v2h-1zM232 625h1v1h-1zM233 626h1v1h-1zM234 627h1v1h-1zM235 628h1v1h-1zM236 628h1v1h-1zM237 629h1v1h-1zM238 630h1v1h-1zM239 631h1v1h-1zM240 631h1v1h-1zM241 632h1v1h-1zM242 631h1v1h-1zM243 631h1v1h-1zM244 630h1v1h-1zM245 630h1v1h-1zM246 630h1v1h-1zM247 630h1v1h-1zM248 630h1v1h-1zM249 630h1v1h-1zM250 630h1v1h-1zM251 631h1v1h-1zM252 631h1v1h-1zM253 632h1v1h-1zM254 633h1v1h-1zM255 633h1v1h-1zM256 634h1v1h-1zM257 634h1v1h-1zM258 635h1v1h-1zM259 634h1v1h-1zM260 634h1v1h-1zM261 633h1v1h-1zM262 633h1v1h-1zM263 634h1v1h-1zM264 634h1v1h-1zM265 635h1v1h-1zM266 635h1v1h-1zM267 636h1v1h-1zM268 636h1v1h-1zM269 636h1v1h-1zM270 635h1v1h-1zM271 635h1v1h-1zM272 634h1v1h-1zM273 634h1v1h-1zM274 634h1v1h-1zM275 633h1v1h-1zM276 633h1v1h-1zM277 633h1v1h-1zM278 633h1v1h-1zM279 633h1v1h-1zM280 633h1v1h-1zM281 633h1v1h-1zM282 631h1v2h-1zM283 629h1v2h-1zM284 627h1v2h-1zM285 625h1v2h-1zM286 624h1v1h-1zM287 624h1v1h-1zM288 625h1v1h-1zM289 625h1v1h-1zM290 626h1v2h-1zM291 628h1v1h-1zM292 629h1v2h-1zM293 631h1v2h-1zM294 633h1v2h-1zM295 635h1v3h-1zM296 638h1v2h-1zM297 640h1v2h-1zM298 641h1v1h-1zM299 641h1v1h-1zM300 641h1v1h-1zM301 641h1v1h-1zM302 641h1v1h-1zM303 642h1v1h-1zM304 642h1v1h-1zM305 642h1v1h-1zM306 640h1v2h-1zM307 638h1v2h-1zM308 636h1v2h-1zM309 633h1v3h-1zM310 630h1v3h-1zM311 627h1v3h-1zM312 624h1v3h-1zM313 622h1v2h-1zM314 623h1v1h-1zM315 623h1v1h-1zM316 624h1v1h-1zM317 624h1v1h-1zM318 625h1v1h-1zM319 626h1v1h-1zM320 626h1v1h-1zM321 627h1v1h-1zM322 627h1v1h-1zM323 627h1v1h-1zM324 627h1v1h-1zM325 627h1v1h-1zM326 626h1v1h-1zM327 626h1v1h-1zM328 625h1v1h-1zM329 626h1v1h-1zM330 626h1v1h-1zM331 627h1v1h-1zM332 628h1v1h-1zM333 628h1v1h-1zM334 629h1v1h-1zM335 629h1v1h-1zM336 628h1v1h-1zM337 628h1v1h-1zM338 627h1v1h-1zM339 627h1v1h-1zM340 626h1v1h-1zM341 626h1v1h-1zM342 625h1v1h-1zM343 625h1v1h-1zM344 624h1v1h-1zM345 624h1v1h-1zM346 624h1v1h-1zM347 625h1v1h-1zM348 625h1v1h-1zM349 625h1v1h-1zM350 626h1v1h-1zM351 627h1v2h-1zM352 629h1v1h-1zM353 630h1v1h-1zM354 630h1v1h-1zM355 631h1v1h-1zM356 631h1v1h-1zM357 632h1v1h-1zM358 633h1v1h-1zM359 634h1v1h-1zM360 635h1v1h-1zM361 636h1v1h-1zM362 636h1v1h-1zM363 637h1v1h-1zM364 637h1v1h-1zM365 637h1v1h-1zM366 638h1v1h-1zM367 638h1v1h-1zM368 638h1v1h-1zM369 639h1v1h-1zM370 639h1v1h-1zM371 639h1v1h-1zM372 640h1v1h-1zM373 640h1v1h-1zM374 639h1v1h-1zM375 637h1v2h-1zM376 636h1v1h-1zM377 635h1v1h-1zM378 634h1v1h-1zM379 632h1v2h-1zM380 631h1v1h-1zM381 630h1v1h-1zM382 630h1v1h-1zM383 631h1v1h-1zM384 631h1v1h-1zM385 631h1v1h-1zM386 629h1v2h-1zM387 627h1v2h-1zM388 625h1v2h-1zM389 623h1v2h-1zM390 624h1v1h-1zM391 625h1v1h-1zM392 625h1v1h-1zM393 626h1v1h-1zM394 626h1v1h-1zM395 625h1v1h-1zM396 625h1v1h-1zM397 625h1v1h-1zM398 625h1v1h-1zM399 625h1v1h-1zM400 625h1v1h-1zM401 625h1v1h-1zM402 624h1v1h-1zM403 623h1v1h-1zM404 623h1v1h-1zM405 622h1v1h-1zM406 623h1v1h-1zM407 624h1v1h-1zM408 624h1v1h-1zM409 625h1v1h-1zM410 625h1v1h-1zM411 625h1v1h-1zM412 625h1v1h-1zM413 625h1v1h-1zM414 624h1v1h-1zM415 623h1v1h-1zM416 622h1v1h-1zM417 621h1v1h-1zM418 621h1v1h-1zM419 622h1v1h-1zM420 622h1v1h-1zM421 622h1v1h-1zM422 621h1v1h-1zM423 619h1v2h-1zM424 618h1v1h-1zM425 617h1v1h-1zM426 617h1v1h-1zM427 617h1v1h-1zM428 617h1v1h-1zM429 617h1v1h-1zM430 618h1v1h-1zM431 619h1v1h-1zM432 620h1v1h-1zM433 620h1v2h-1zM434 616h1v4h-1zM435 612h1v4h-1zM436 608h1v4h-1zM437 605h1v3h-1zM438 605h1v1h-1zM439 605h1v1h-1zM440 605h1v1h-1zM441 605h1v1h-1zM442 605h1v1h-1zM443 605h1v1h-1zM444 605h1v1h-1zM445 605h1v1h-1zM446 604h1v1h-1zM447 603h1v1h-1zM448 603h1v1h-1zM449 602h1v1h-1zM450 601h1v1h-1zM451 601h1v1h-1zM452 600h1v1h-1zM453 601h1v1h-1zM454 602h1v1h-1zM455 602h1v1h-1zM456 603h1v1h-1zM457 604h1v1h-1zM458 604h1v1h-1zM459 604h1v1h-1zM460 604h1v1h-1zM461 604h1v1h-1zM462 605h1v1h-1zM463 606h1v2h-1zM464 608h1v1h-1zM465 609h1v1h-1zM466 609h1v1h-1zM467 609h1v1h-1zM468 609h1v1h-1zM469 609h1v1h-1zM470 609h1v1h-1zM471 610h1v1h-1zM472 610h1v1h-1zM473 611h1v1h-1zM474 610h1v1h-1zM475 609h1v1h-1zM476 609h1v1h-1zM477 608h1v1h-1zM478 608h1v1h-1zM479 608h1v1h-1zM480 608h1v1h-1zM481 608h1v1h-1zM482 608h1v1h-1zM483 607h1v1h-1zM484 607h1v1h-1zM485 606h1v1h-1zM486 606h1v1h-1zM487 605h1v1h-1zM488 605h1v1h-1zM489 605h1v1h-1zM490 606h1v1h-1zM491 606h1v1h-1zM492 606h1v1h-1zM493 607h1v1h-1zM494 608h1v1h-1zM495 609h1v2h-1zM496 611h1v1h-1zM497 612h1v1h-1zM498 610h1v2h-1zM499 609h1v1h-1zM500 607h1v2h-1zM501 606h1v1h-1zM502 607h1v1h-1zM503 608h1v1h-1zM504 609h1v1h-1zM505 610h1v1h-1zM506 608h1v2h-1zM507 607h1v1h-1zM508 605h1v2h-1zM509 604h1v1h-1zM510 605h1v1h-1zM511 606h1v1h-1zM512 607h1v1h-1zM513 608h1v1h-1zM514 608h1v1h-1zM515 609h1v1h-1zM516 609h1v1h-1zM517 610h1v1h-1zM518 610h1v1h-1zM519 611h1v1h-1zM520 611h1v1h-1zM521 612h1v1h-1zM522 613h1v1h-1zM523 613h1v1h-1zM524 614h1v1h-1zM525 615h1v1h-1zM526 616h1v1h-1zM527 616h1v1h-1zM528 617h1v1h-1zM529 617h1v1h-1zM530 617h1v1h-1zM531 617h1v1h-1zM532 617h1v1h-1zM533 617h1v1h-1zM534 615h1v2h-1zM535 614h1v1h-1zM536 612h1v2h-1zM537 611h1v1h-1zM538 612h1v1h-1zM539 613h1v1h-1zM540 613h1v1h-1zM541 614h1v1h-1zM542 613h1v1h-1zM543 611h1v2h-1zM544 610h1v1h-1zM545 609h1v1h-1zM546 610h1v1h-1zM547 610h1v1h-1zM548 611h1v1h-1zM549 611h1v1h-1zM550 612h1v2h-1zM551 614h1v2h-1zM552 616h1v2h-1zM553 618h1v1h-1zM554 617h1v1h-1zM555 617h1v1h-1zM556 616h1v1h-1zM557 615h1v1h-1zM558 615h1v1h-1zM559 614h1v1h-1zM560 614h1v1h-1zM561 613h1v1h-1zM562 614h1v1h-1zM563 615h1v1h-1zM564 615h1v1h-1zM565 616h1v1h-1zM566 615h1v1h-1zM567 614h1v1h-1zM568 613h1v1h-1zM569 611h1v2h-1zM570 609h1v2h-1zM571 607h1v2h-1zM572 605h1v2h-1zM573 604h1v2h-1zM574 606h1v2h-1zM575 608h1v2h-1zM576 610h1v2h-1zM577 612h1v2h-1zM578 614h1v2h-1zM579 616h1v2h-1zM580 618h1v2h-1zM581 620h1v2h-1zM582 621h1v1h-1zM583 620h1v1h-1zM584 620h1v1h-1zM585 620h1v1h-1zM586 620h1v1h-1zM587 619h1v1h-1zM588 619h1v1h-1zM589 619h1v1h-1zM590 619h1v1h-1zM591 620h1v1h-1zM592 620h1v1h-1zM593 620h1v1h-1zM594 620h1v1h-1zM595 619h1v1h-1zM596 619h1v1h-1zM597 619h1v1h-1zM598 619h1v1h-1zM599 620h1v1h-1zM600 620h1v1h-1zM601 620h1v1h-1zM602 620h1v1h-1zM603 621h1v1h-1zM604 621h1v1h-1zM605 621h1v1h-1zM606 619h1v2h-1zM607 618h1v1h-1zM608 616h1v2h-1zM609 615h1v1h-1zM610 615h1v1h-1zM611 616h1v1h-1zM612 616h1v1h-1zM613 615h1v1h-1zM614 615h1v1h-1zM615 614h1v1h-1zM616 614h1v1h-1zM617 614h1v1h-1zM618 614h1v1h-1zM619 613h1v1h-1zM620 613h1v1h-1zM621 613h1v1h-1zM622 614h1v1h-1zM623 615h1v1h-1zM624 616h1v1h-1zM625 617h1v1h-1zM626 617h1v1h-1zM627 617h1v1h-1zM628 617h1v1h-1zM629 617h1v1h-1zM630 617h1v1h-1zM631 616h1v1h-1zM632 616h1v1h-1zM633 616h1v1h-1zM634 616h1v1h-1zM635 617h1v1h-1zM636 617h1v1h-1zM637 617h1v1h-1zM638 617h1v1h-1zM639 617h1v1h-1zM640 617h1v1h-1zM641 617h1v1h-1zM642 615h1v2h-1zM643 613h1v2h-1zM644 611h1v2h-1zM645 610h1v1h-1zM646 611h1v1h-1zM647 612h1v1h-1zM648 612h1v1h-1zM649 613h1v1h-1zM650 612h1v1h-1zM651 611h1v1h-1zM652 610h1v1h-1zM653 609h1v1h-1zM654 609h1v1h-1zM655 608h1v1h-1zM656 608h1v1h-1zM657 608h1v1h-1zM658 609h1v1h-1zM659 609h1v1h-1zM660 610h1v1h-1zM661 610h1v1h-1zM662 611h1v2h-1zM663 613h1v1h-1zM664 614h1v1h-1zM665 615h1v2h-1zM666 617h1v1h-1zM667 618h1v1h-1zM668 619h1v2h-1zM669 621h1v1h-1zM670 621h1v1h-1zM671 621h1v1h-1zM672 621h1v1h-1zM673 621h1v1h-1zM674 620h1v1h-1zM675 619h1v1h-1zM676 618h1v1h-1zM677 619h1v1h-1zM678 620h1v2h-1zM679 622h1v1h-1zM680 623h1v1h-1zM681 623h1v1h-1zM682 624h1v1h-1zM683 624h1v1h-1zM684 624h1v1h-1zM685 624h1v1h-1zM686 623h1v1h-1zM687 623h1v1h-1zM688 623h1v1h-1zM689 624h1v1h-1zM690 624h1v1h-1zM691 625h1v1h-1zM692 625h1v1h-1zM693 626h1v1h-1zM694 627h1v1h-1zM695 627h1v1h-1zM696 628h1v1h-1zM697 628h1v1h-1zM698 628h1v1h-1zM699 627h1v1h-1zM700 627h1v1h-1zM701 627h1v1h-1zM702 628h1v1h-1zM703 629h1v1h-1zM704 629h1v1h-1zM705 630h1v1h-1zM706 631h1v1h-1zM707 631h1v1h-1zM708 631h1v1h-1zM709 631h1v1h-1zM710 629h1v2h-1zM711 627h1v2h-1zM712 625h1v2h-1zM713 624h1v1h-1zM714 623h1v1h-1zM715 622h1v1h-1zM716 621h1v1h-1zM717 620h1v1h-1zM718 620h1v1h-1zM719 620h1v1h-1zM720 620h1v1h-1zM721 620h1v1h-1zM722 621h1v1h-1zM723 622h1v1h-1zM724 623h1v1h-1zM725 624h1v1h-1zM726 625h1v1h-1zM727 625h1v1h-1zM728 626h1v1h-1zM729 626h1v1h-1zM730 627h1v1h-1zM731 627h1v1h-1zM732 626h1v1h-1zM733 626h1v1h-1zM734 626h1v1h-1zM735 626h1v1h-1zM736 626h1v1h-1zM737 626h1v1h-1zM738 627h1v1h-1zM739 627h1v1h-1zM740 628h1v1h-1zM741 629h1v1h-1zM742 629h1v1h-1zM743 630h1v1h-1zM744 630h1v1h-1zM745 630h1v2h-1zM746 627h1v3h-1zM747 623h1v4h-1zM748 620h1v3h-1zM749 618h1v2h-1zM750 617h1v1h-1zM751 615h1v2h-1zM752 614h1v1h-1zM753 613h1v1h-1zM754 612h1v1h-1zM755 612h1v1h-1zM756 611h1v1h-1zM757 611h1v1h-1zM758 610h1v1h-1zM759 609h1v1h-1zM760 609h1v1h-1zM761 608h1v1h-1zM762 608h1v1h-1zM763 608h1v1h-1zM764 608h1v1h-1zM765 608h1v2h-1zM766 610h1v2h-1zM767 612h1v3h-1zM768 615h1v2h-1zM769 617h1v2h-1zM770 618h1v1h-1zM771 618h1v1h-1zM772 617h1v1h-1zM773 617h1v1h-1zM774 617h1v1h-1zM775 617h1v1h-1zM776 617h1v1h-1zM777 617h1v1h-1zM778 617h1v1h-1zM779 616h1v1h-1zM780 616h1v1h-1zM781 616h1v1h-1zM782 617h1v1h-1zM783 617h1v1h-1zM784 618h1v1h-1zM785 618h1v1h-1zM786 617h1v1h-1zM787 617h1v1h-1zM788 616h1v1h-1zM789 616h1v1h-1zM790 615h1v1h-1zM791 614h1v1h-1zM792 613h1v1h-1zM793 612h1v1h-1zM794 613h1v2h-1zM795 615h1v2h-1zM796 617h1v2h-1zM797 619h1v2h-1zM798 621h1v2h-1zM799 623h1v2h-1zM800 625h1v2h-1zM801 627h1v1h-1zM802 627h1v1h-1zM803 627h1v1h-1zM804 627h1v1h-1zM805 627h1v1h-1zM806 625h1v2h-1zM807 623h1v2h-1zM808 621h1v2h-1zM809 620h1v1h-1zM810 620h1v1h-1zM811 621h1v1h-1zM812 621h1v1h-1zM813 621h1v1h-1zM814 620h1v1h-1zM815 618h1v2h-1zM816 617h1v1h-1zM817 616h1v1h-1zM818 617h1v1h-1zM819 618h1v1h-1zM820 618h1v1h-1zM821 619h1v1h-1zM822 619h1v1h-1zM823 620h1v1h-1zM824 620h1v1h-1zM825 620h1v1h-1zM826 620h1v1h-1zM827 621h1v1h-1zM828 621h1v1h-1zM829 621h1v1h-1zM830 620h1v1h-1zM831 619h1v1h-1zM832 619h1v1h-1zM833 618h1v1h-1zM834 617h1v1h-1zM835 617h1v1h-1zM836 618h1v1h-1zM837 618h1v1h-1zM838 619h1v2h-1zM839 621h1v2h-1zM840 623h1v2h-1zM841 625h1v1h-1zM842 624h1v1h-1zM843 624h1v1h-1zM844 623h1v1h-1zM845 623h1v1h-1zM846 623h1v1h-1zM847 623h1v1h-1zM848 623h1v1h-1zM849 623h1v1h-1zM850 623h1v1h-1zM851 623h1v1h-1zM852 623h1v1h-1zM853 623h1v1h-1zM854 624h1v1h-1zM855 624h1v1h-1zM856 625h1v2h-1zM857 627h1v2h-1zM858 629h1v2h-1zM859 631h1v3h-1zM860 634h1v2h-1zM861 636h1v2h-1zM862 635h1v2h-1zM863 634h1v1h-1zM864 632h1v2h-1zM865 631h1v1h-1zM866 631h1v1h-1zM867 631h1v1h-1zM868 631h1v1h-1zM869 631h1v1h-1zM870 631h1v1h-1zM871 631h1v1h-1zM872 632h1v1h-1zM873 632h1v1h-1zM874 632h1v1h-1zM875 632h1v1h-1zM876 632h1v1h-1zM877 632h1v1h-1zM878 632h1v1h-1zM879 633h1v1h-1zM880 633h1v1h-1zM881 633h1v1h-1zM882 633h1v1h-1zM883 632h1v1h-1zM884 632h1v1h-1zM885 632h1v1h-1zM886 631h1v1h-1zM887 630h1v1h-1zM888 629h1v1h-1zM889 628h1v1h-1zM890 628h1v1h-1zM891 628h1v1h-1zM892 628h1v1h-1zM893 628h1v1h-1zM894 626h1v2h-1zM895 624h1v2h-1zM896 622h1v2h-1zM897 621h1v1h-1zM898 621h1v1h-1zM899 621h1v1h-1zM900 621h1v1h-1zM901 622h1v1h-1zM902 623h1v1h-1zM903 623h1v1h-1zM904 624h1v1h-1zM905 625h1v1h-1zM906 625h1v1h-1zM907 624h1v1h-1zM908 624h1v1h-1zM909 623h1v1h-1zM910 623h1v1h-1zM911 622h1v1h-1zM912 622h1v1h-1zM913 622h1v1h-1zM914 622h1v1h-1zM915 622h1v1h-1zM916 622h1v1h-1zM917 622h1v1h-1zM918 622h1v1h-1zM919 623h1v1h-1zM920 623h1v1h-1zM921 623h1v1h-1zM922 623h1v1h-1zM923 623h1v1h-1zM924 623h1v1h-1zM925 623h1v1h-1z" fill="#1e90ff" shape-rendering="crispEdges" clip-path="url(#cRsi)"/>
<text x="9.2" y="585.7" font-size="10.2" fill="#000" textLength="31.3" lengthAdjust="spacingAndGlyphs">RSI(14)</text>
<text x="44" y="585.7" font-size="10.2" fill="#000" textLength="32.3" lengthAdjust="spacingAndGlyphs">43.1227</text>
<text x="1171.5" y="584" font-size="10.3" fill="#000" textLength="16.200000000000003" lengthAdjust="spacingAndGlyphs">100</text>
<text x="1170.2" y="604" font-size="10.3" fill="#000" textLength="10.8" lengthAdjust="spacingAndGlyphs">70</text>
<text x="1170.2" y="639" font-size="10.3" fill="#000" textLength="10.8" lengthAdjust="spacingAndGlyphs">30</text>
<text x="1171.3" y="658" font-size="10.3" fill="#000" textLength="5.4" lengthAdjust="spacingAndGlyphs">0</text>
<g shape-rendering="crispEdges">
<rect x="5" y="662" width="1" height="3" fill="#000"/>
<rect x="69" y="662" width="1" height="3" fill="#000"/>
<rect x="133" y="662" width="1" height="3" fill="#000"/>
<rect x="197" y="662" width="1" height="3" fill="#000"/>
<rect x="261" y="662" width="1" height="3" fill="#000"/>
<rect x="325" y="662" width="1" height="3" fill="#000"/>
<rect x="389" y="662" width="1" height="3" fill="#000"/>
<rect x="453" y="662" width="1" height="3" fill="#000"/>
<rect x="517" y="662" width="1" height="3" fill="#000"/>
<rect x="581" y="662" width="1" height="3" fill="#000"/>
<rect x="645" y="662" width="1" height="3" fill="#000"/>
<rect x="709" y="662" width="1" height="3" fill="#000"/>
<rect x="773" y="662" width="1" height="3" fill="#000"/>
<rect x="837" y="662" width="1" height="3" fill="#000"/>
<rect x="901" y="662" width="1" height="3" fill="#000"/>
</g>
<text x="4.6" y="674" font-size="10.2" fill="#000" textLength="51.400000000000006" lengthAdjust="spacingAndGlyphs">11 Feb 2021</text>
<text x="68.1" y="674" font-size="10.2" fill="#000" textLength="46.5" lengthAdjust="spacingAndGlyphs">2 Mar 2021</text>
<text x="132.7" y="674" font-size="10.2" fill="#000" textLength="51.1" lengthAdjust="spacingAndGlyphs">20 Mar 2021</text>
<text x="196.7" y="674" font-size="10.2" fill="#000" textLength="45.1" lengthAdjust="spacingAndGlyphs">8 Apr 2021</text>
<text x="260.8" y="674" font-size="10.2" fill="#000" textLength="50.5" lengthAdjust="spacingAndGlyphs">27 Apr 2021</text>
<text x="324.6" y="674" font-size="10.2" fill="#000" textLength="54.1" lengthAdjust="spacingAndGlyphs">15 May 2021</text>
<text x="388.1" y="674" font-size="10.2" fill="#000" textLength="44.300000000000004" lengthAdjust="spacingAndGlyphs">3 Jun 2021</text>
<text x="452.7" y="674" font-size="10.2" fill="#000" textLength="48.7" lengthAdjust="spacingAndGlyphs">22 Jun 2021</text>
<text x="516.7" y="674" font-size="10.2" fill="#000" textLength="45.7" lengthAdjust="spacingAndGlyphs">10 Jul 2021</text>
<text x="580.8" y="674" font-size="10.2" fill="#000" textLength="45.7" lengthAdjust="spacingAndGlyphs">29 Jul 2021</text>
<text x="644.6" y="674" font-size="10.2" fill="#000" textLength="52.7" lengthAdjust="spacingAndGlyphs">17 Aug 2021</text>
<text x="708.1" y="674" font-size="10.2" fill="#000" textLength="46.5" lengthAdjust="spacingAndGlyphs">4 Sep 2021</text>
<text x="772.7" y="674" font-size="10.2" fill="#000" textLength="51.1" lengthAdjust="spacingAndGlyphs">23 Sep 2021</text>
<text x="836.7" y="674" font-size="10.2" fill="#000" textLength="50.0" lengthAdjust="spacingAndGlyphs">12 Oct 2021</text>
<text x="900.8" y="674" font-size="10.2" fill="#000" textLength="50.0" lengthAdjust="spacingAndGlyphs">30 Oct 2021</text>
<rect x="0" y="682" width="1211" height="2" fill="#f4f4f4"/>
<rect x="0" y="685" width="1211" height="23" fill="#f0f0f0"/>
<rect x="0" y="704" width="1211" height="1" fill="#fcfcfc"/>
<rect x="0" y="685" width="1" height="18" fill="#a0a0a0"/>
<rect x="1" y="685" width="1" height="18" fill="#696969"/>
<rect x="2" y="685" width="1" height="18" fill="#ffffff"/>
<g shape-rendering="crispEdges">
<rect x="0" y="684" width="407" height="1" fill="#000"/>
<rect x="509" y="684" width="702" height="1" fill="#000"/>
<rect x="407" y="684" width="102" height="18" fill="#ffffff"/>
<rect x="406" y="684" width="1" height="19" fill="#000"/>
<rect x="509" y="684" width="1" height="19" fill="#000"/>
<rect x="406" y="702" width="104" height="1" fill="#000"/>
</g>
<text x="18.6" y="698.9" font-size="12.2" fill="#666666" textLength="79.6" lengthAdjust="spacingAndGlyphs">EURUSD,Daily</text>
<text x="121.2" y="698.9" font-size="12.2" fill="#666666" textLength="81.2" lengthAdjust="spacingAndGlyphs">AUDUSD,Daily</text>
<text x="224.1" y="698.9" font-size="12.2" fill="#666666" textLength="66.4" lengthAdjust="spacingAndGlyphs">USDCHF,H4</text>
<text x="313.1" y="698.9" font-size="12.2" fill="#666666" textLength="80.6" lengthAdjust="spacingAndGlyphs">USDCAD,Daily</text>
<text x="522" y="698.9" font-size="12.2" fill="#666666" textLength="51.7" lengthAdjust="spacingAndGlyphs">UKOil,H4</text>
<text x="596.7" y="698.9" font-size="12.2" fill="#666666" textLength="45.6" lengthAdjust="spacingAndGlyphs">DJ30,H1</text>
<text x="665.4" y="698.9" font-size="12.2" fill="#666666" textLength="77.3" lengthAdjust="spacingAndGlyphs">USDX,Weekly</text>
<text x="765" y="698.9" font-size="12.2" fill="#666666" textLength="68.4" lengthAdjust="spacingAndGlyphs">XAUUSD,H1</text>
<text x="858.2" y="698.9" font-size="12.2" fill="#666666" textLength="67.2" lengthAdjust="spacingAndGlyphs">GBPUSD,H1</text>
<text x="949.5" y="698.9" font-size="12.2" fill="#666666" textLength="77.2" lengthAdjust="spacingAndGlyphs">USDX,Weekly</text>
<text x="416.3" y="699.1" font-size="12.2" fill="#000" textLength="82" lengthAdjust="spacingAndGlyphs">USDCNH,Daily</text>
<g shape-rendering="crispEdges">
<rect x="110" y="687" width="1" height="14" fill="#606060"/>
<rect x="214" y="687" width="1" height="14" fill="#606060"/>
<rect x="302" y="687" width="1" height="14" fill="#606060"/>
<rect x="586" y="687" width="1" height="14" fill="#606060"/>
<rect x="654" y="687" width="1" height="14" fill="#606060"/>
<rect x="754" y="687" width="1" height="14" fill="#606060"/>
<rect x="846" y="687" width="1" height="14" fill="#606060"/>
<rect x="938" y="687" width="1" height="14" fill="#606060"/>
<rect x="1038" y="687" width="1" height="14" fill="#606060"/>
</g>
<path d="M1186.5 689.8 L1186.5 696.4 L1182.8 693.1 Z" fill="#8c8c8c"/>
<path d="M1202 689.8 L1202 696.4 L1205.7 693.1 Z" fill="#8c8c8c"/>
</svg>
</body></html>
